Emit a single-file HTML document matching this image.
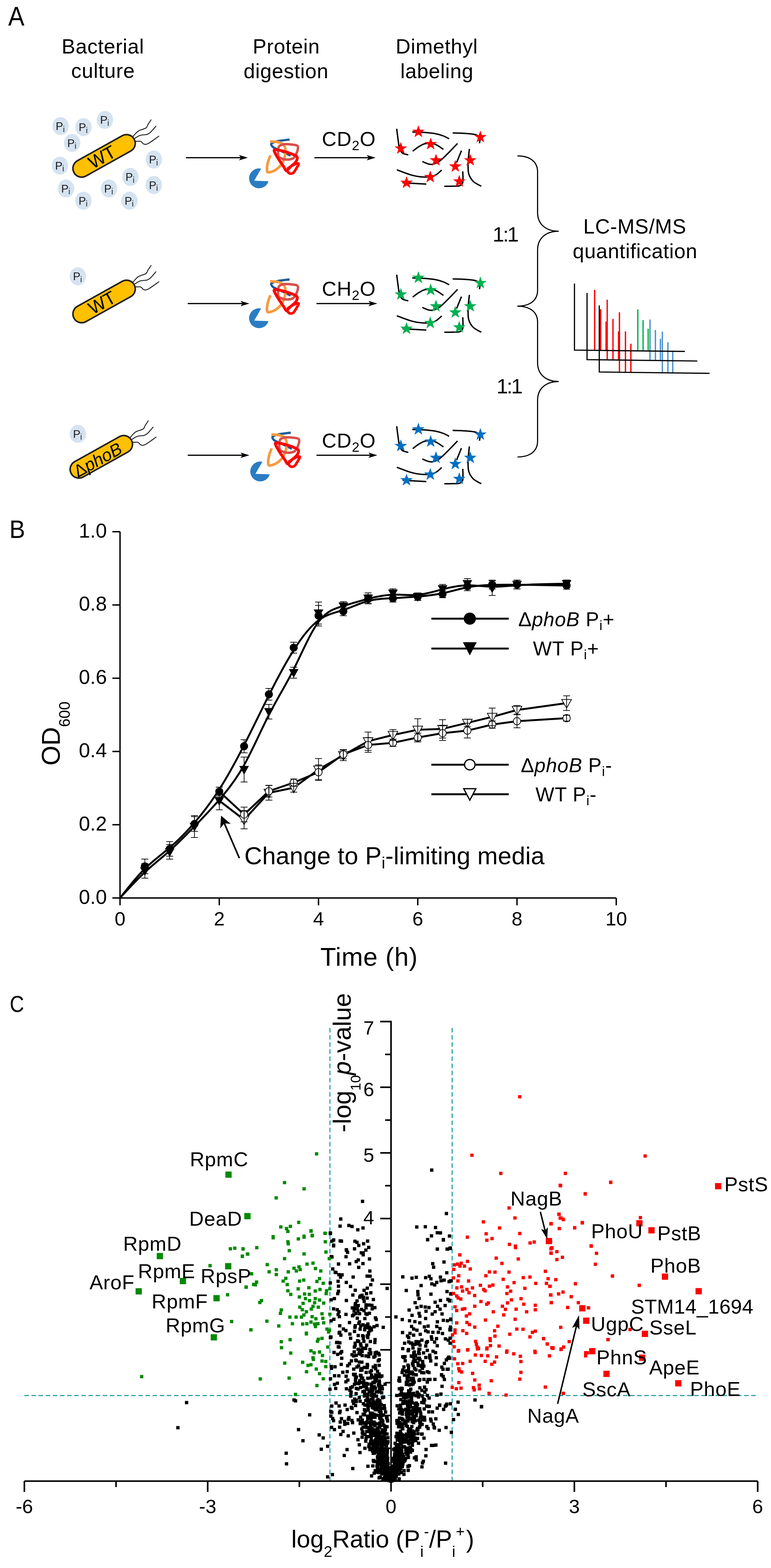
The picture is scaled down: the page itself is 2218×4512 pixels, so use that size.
<!DOCTYPE html>
<html><head><meta charset="utf-8"><style>
html,body{margin:0;padding:0;background:#fff;}
svg{display:block;font-family:'Liberation Sans', Arial, sans-serif;}
</style></head><body>
<svg width="2218" height="4512" viewBox="0 0 2218 4512">
<rect width="2218" height="4512" fill="#fff"/>
<text transform="translate(23.6 74.3) scale(0.91 1)" font-size="77">A</text>
<text x="296.0" y="154.0" font-size="59" text-anchor="middle" letter-spacing="0.9" >Bacterial</text>
<text x="296.5" y="224.0" font-size="59" text-anchor="middle" letter-spacing="0.9" >culture</text>
<text x="823.5" y="153.5" font-size="59" text-anchor="middle" letter-spacing="0.9" >Protein</text>
<text x="823.0" y="225.0" font-size="59" text-anchor="middle" letter-spacing="0.9" >digestion</text>
<text x="1256.5" y="154.4" font-size="59" text-anchor="middle" letter-spacing="0.9" >Dimethyl</text>
<text x="1257.0" y="224.8" font-size="59" text-anchor="middle" letter-spacing="0.9" >labeling</text>
<ellipse cx="174.2" cy="362.7" rx="23.5" ry="26" fill="#d5e3f1"/>
<text x="160.2" y="374.0" font-size="32" fill="#1a1a1a">P</text>
<text x="181.0" y="379.6" font-size="23.5" fill="#1a1a1a">i</text>
<ellipse cx="240.3" cy="365.9" rx="23.5" ry="26" fill="#d5e3f1"/>
<text x="226.3" y="377.2" font-size="32" fill="#1a1a1a">P</text>
<text x="247.1" y="382.8" font-size="23.5" fill="#1a1a1a">i</text>
<ellipse cx="302" cy="345" rx="23.5" ry="26" fill="#d5e3f1"/>
<text x="288.0" y="356.3" font-size="32" fill="#1a1a1a">P</text>
<text x="308.8" y="361.9" font-size="23.5" fill="#1a1a1a">i</text>
<ellipse cx="207.6" cy="411.4" rx="23.5" ry="26" fill="#d5e3f1"/>
<text x="193.6" y="422.7" font-size="32" fill="#1a1a1a">P</text>
<text x="214.4" y="428.3" font-size="23.5" fill="#1a1a1a">i</text>
<ellipse cx="172.5" cy="476.5" rx="23.5" ry="26" fill="#d5e3f1"/>
<text x="158.5" y="487.8" font-size="32" fill="#1a1a1a">P</text>
<text x="179.3" y="493.4" font-size="23.5" fill="#1a1a1a">i</text>
<ellipse cx="442.5" cy="459" rx="23.5" ry="26" fill="#d5e3f1"/>
<text x="428.5" y="470.3" font-size="32" fill="#1a1a1a">P</text>
<text x="449.3" y="475.9" font-size="23.5" fill="#1a1a1a">i</text>
<ellipse cx="375" cy="509" rx="23.5" ry="26" fill="#d5e3f1"/>
<text x="361.0" y="520.3" font-size="32" fill="#1a1a1a">P</text>
<text x="381.8" y="525.9" font-size="23.5" fill="#1a1a1a">i</text>
<ellipse cx="190" cy="542.5" rx="23.5" ry="26" fill="#d5e3f1"/>
<text x="176.0" y="553.8" font-size="32" fill="#1a1a1a">P</text>
<text x="196.8" y="559.4" font-size="23.5" fill="#1a1a1a">i</text>
<ellipse cx="313.5" cy="542.5" rx="23.5" ry="26" fill="#d5e3f1"/>
<text x="299.5" y="553.8" font-size="32" fill="#1a1a1a">P</text>
<text x="320.3" y="559.4" font-size="23.5" fill="#1a1a1a">i</text>
<ellipse cx="442.5" cy="532.5" rx="23.5" ry="26" fill="#d5e3f1"/>
<text x="428.5" y="543.8" font-size="32" fill="#1a1a1a">P</text>
<text x="449.3" y="549.4" font-size="23.5" fill="#1a1a1a">i</text>
<ellipse cx="240" cy="577.5" rx="23.5" ry="26" fill="#d5e3f1"/>
<text x="226.0" y="588.8" font-size="32" fill="#1a1a1a">P</text>
<text x="246.8" y="594.4" font-size="23.5" fill="#1a1a1a">i</text>
<ellipse cx="372.5" cy="577.5" rx="23.5" ry="26" fill="#d5e3f1"/>
<text x="358.5" y="588.8" font-size="32" fill="#1a1a1a">P</text>
<text x="379.3" y="594.4" font-size="23.5" fill="#1a1a1a">i</text>
<ellipse cx="224" cy="795" rx="23.5" ry="26" fill="#d5e3f1"/>
<text x="210.0" y="806.3" font-size="32" fill="#1a1a1a">P</text>
<text x="230.8" y="811.9" font-size="23.5" fill="#1a1a1a">i</text>
<ellipse cx="224" cy="1248.5" rx="23.5" ry="26" fill="#d5e3f1"/>
<text x="210.0" y="1259.8" font-size="32" fill="#1a1a1a">P</text>
<text x="230.8" y="1265.4" font-size="23.5" fill="#1a1a1a">i</text>
<path d="M383.4 391.8 C385.9 389.3 392.2 380.8 398.3 376.9 C404.4 373.0 415.1 371.6 419.7 368.4 C424.3 365.2 423.5 361.6 426.0 357.7 C428.5 353.8 433.2 347.0 434.6 344.9" fill="none" stroke="#222" stroke-width="2.6" stroke-linecap="round"/>
<path d="M387.7 398.2 C390.2 396.8 396.6 391.6 402.6 389.7 C408.6 387.8 418.6 388.3 423.9 386.5 C429.2 384.7 430.5 382.9 434.6 379.0 C438.7 375.1 446.2 365.7 448.5 363.0" fill="none" stroke="#222" stroke-width="2.6" stroke-linecap="round"/>
<path d="M389.8 406.8 C392.3 406.8 400.8 405.6 404.7 406.8 C408.6 408.0 409.8 413.1 413.3 414.2 C416.9 415.3 418.7 416.9 426.0 413.2 C433.3 409.5 451.8 395.4 457.0 391.8" fill="none" stroke="#222" stroke-width="2.6" stroke-linecap="round"/>
<rect x="200.4" y="423.3" width="198.1" height="50.4" rx="25.2" ry="25.2" fill="#ffc000" stroke="#231f20" stroke-width="4.5" transform="rotate(-29.17 299.5 448.5)"/>
<text x="292.5" y="466.5" font-size="52" text-anchor="middle" transform="rotate(-29.17 299.5 448.5)">WT</text>
<path d="M383.4 810.8 C385.9 808.3 392.2 799.8 398.3 795.9 C404.4 792.0 415.1 790.6 419.7 787.4 C424.3 784.2 423.5 780.6 426.0 776.7 C428.5 772.8 433.2 766.0 434.6 763.9" fill="none" stroke="#222" stroke-width="2.6" stroke-linecap="round"/>
<path d="M387.7 817.2 C390.2 815.8 396.6 810.7 402.6 808.7 C408.6 806.8 418.6 807.3 423.9 805.5 C429.2 803.7 430.5 801.9 434.6 798.0 C438.7 794.1 446.2 784.7 448.5 782.0" fill="none" stroke="#222" stroke-width="2.6" stroke-linecap="round"/>
<path d="M389.8 825.8 C392.3 825.8 400.8 824.6 404.7 825.8 C408.6 827.0 409.8 832.1 413.3 833.2 C416.9 834.3 418.7 835.9 426.0 832.2 C433.3 828.5 451.8 814.4 457.0 810.8" fill="none" stroke="#222" stroke-width="2.6" stroke-linecap="round"/>
<rect x="200.4" y="842.3" width="198.1" height="50.4" rx="25.2" ry="25.2" fill="#ffc000" stroke="#231f20" stroke-width="4.5" transform="rotate(-29.17 299.5 867.5)"/>
<text x="292.5" y="885.5" font-size="52" text-anchor="middle" transform="rotate(-29.17 299.5 867.5)">WT</text>
<path d="M375.4 1257.8 C377.9 1255.3 384.2 1246.8 390.3 1242.9 C396.4 1239.0 407.1 1237.6 411.7 1234.4 C416.3 1231.2 415.5 1227.6 418.0 1223.7 C420.5 1219.8 425.2 1213.0 426.6 1210.9" fill="none" stroke="#222" stroke-width="2.6" stroke-linecap="round"/>
<path d="M379.7 1264.2 C382.2 1262.8 388.6 1257.7 394.6 1255.7 C400.6 1253.8 410.6 1254.3 415.9 1252.5 C421.2 1250.7 422.5 1248.9 426.6 1245.0 C430.7 1241.1 438.2 1231.7 440.5 1229.0" fill="none" stroke="#222" stroke-width="2.6" stroke-linecap="round"/>
<path d="M381.8 1272.8 C384.3 1272.8 392.8 1271.6 396.7 1272.8 C400.6 1274.0 401.8 1279.1 405.3 1280.2 C408.9 1281.3 410.7 1282.9 418.0 1279.2 C425.3 1275.5 443.8 1261.4 449.0 1257.8" fill="none" stroke="#222" stroke-width="2.6" stroke-linecap="round"/>
<rect x="192.4" y="1289.3" width="198.1" height="50.4" rx="25.2" ry="25.2" fill="#ffc000" stroke="#231f20" stroke-width="4.5" transform="rotate(-29.17 291.5 1314.5)"/>
<text x="278.5" y="1334.5" font-size="50" text-anchor="middle" transform="rotate(-29.17 291.5 1314.5)">&#916;<tspan font-style="italic">phoB</tspan></text>
<line x1="535" y1="453.7" x2="694.1" y2="453.7" stroke="#000" stroke-width="3.4"/>
<path d="M713 453.7 L687.5 445.9 L693.1 453.7 L687.5 461.5 Z" fill="#000"/>
<line x1="540" y1="873.5" x2="698.6" y2="873.5" stroke="#000" stroke-width="3.4"/>
<path d="M717.5 873.5 L692.0 865.7 L697.6 873.5 L692.0 881.3 Z" fill="#000"/>
<line x1="540" y1="1310" x2="698.6" y2="1310" stroke="#000" stroke-width="3.4"/>
<path d="M717.5 1310 L692.0 1302.2 L697.6 1310 L692.0 1317.8 Z" fill="#000"/>
<path d="M751.2 485.2 L731.3 520 L772.5 521.5 A28.6 28.6 0 1 1 751.2 485.2 Z" fill="#2a7dc2"/>
<path d="M833.0 401.5 C827.5 402.2 808.7 404.1 800.0 406.0 C791.3 407.9 783.7 410.3 781.0 413.0 C778.3 415.7 781.8 419.5 784.0 422.0 C786.2 424.5 789.3 425.7 794.0 428.0 C798.7 430.3 805.0 432.7 812.0 436.0 C819.0 439.3 832.0 446.0 836.0 448.0" fill="none" stroke="#1f5c99" stroke-width="6.5" stroke-linecap="butt"/>
<path d="M777.0 407.0 C780.8 407.3 793.7 407.5 800.0 409.0 C806.3 410.5 811.5 412.5 815.0 416.0 C818.5 419.5 820.5 423.5 821.0 430.0 C821.5 436.5 820.2 447.5 818.0 455.0 C815.8 462.5 812.5 469.2 808.0 475.0 C803.5 480.8 797.0 486.5 791.0 490.0 C785.0 493.5 775.8 496.3 772.0 496.0 C768.2 495.7 768.2 493.0 768.0 488.0 C767.8 483.0 769.3 472.8 771.0 466.0 C772.7 459.2 776.8 450.2 778.0 447.0" fill="none" stroke="#f89a3e" stroke-width="7.5" stroke-linecap="butt"/>
<path d="M803.0 421.0 C806.0 417.2 811.8 415.8 818.0 415.0 C824.2 414.2 833.7 415.2 840.0 416.0 C846.3 416.8 853.5 416.7 856.0 420.0 C858.5 423.3 857.0 430.2 855.0 436.0 C853.0 441.8 849.5 451.2 844.0 455.0 C838.5 458.8 828.8 459.5 822.0 459.0 C815.2 458.5 806.7 455.5 803.0 452.0 C799.3 448.5 800.0 443.2 800.0 438.0 C800.0 432.8 800.0 424.8 803.0 421.0Z" fill="none" stroke="#d9504b" stroke-width="7" />
<path d="M790.0 431.0 C793.8 429.8 806.3 432.8 815.0 435.0 C823.7 437.2 835.3 441.2 842.0 444.0 C848.7 446.8 853.5 448.3 855.0 452.0 C856.5 455.7 853.8 461.7 851.0 466.0 C848.2 470.3 841.8 474.3 838.0 478.0 C834.2 481.7 830.5 485.8 828.0 488.0 C825.5 490.2 825.2 492.7 823.0 491.0 C820.8 489.3 818.5 483.3 815.0 478.0 C811.5 472.7 805.8 465.0 802.0 459.0 C798.2 453.0 794.0 446.7 792.0 442.0 C790.0 437.3 786.2 432.2 790.0 431.0Z" fill="none" stroke="#ff0000" stroke-width="8" />
<path d="M826.0 486.0 C829.2 484.0 839.5 476.5 845.0 474.0 C850.5 471.5 858.0 468.8 859.0 471.0 C860.0 473.2 853.7 482.5 851.0 487.0 C848.3 491.5 846.0 496.0 843.0 498.0 C840.0 500.0 835.8 500.0 833.0 499.0 C830.2 498.0 827.2 493.2 826.0 492.0" fill="none" stroke="#ff0000" stroke-width="7.5" />
<path d="M751.2 887.7 L731.3 922.5 L772.5 924.0 A28.6 28.6 0 1 1 751.2 887.7 Z" fill="#2a7dc2"/>
<path d="M833.0 804.0 C827.5 804.8 808.7 806.6 800.0 808.5 C791.3 810.4 783.7 812.8 781.0 815.5 C778.3 818.2 781.8 822.0 784.0 824.5 C786.2 827.0 789.3 828.2 794.0 830.5 C798.7 832.8 805.0 835.2 812.0 838.5 C819.0 841.8 832.0 848.5 836.0 850.5" fill="none" stroke="#1f5c99" stroke-width="6.5" stroke-linecap="butt"/>
<path d="M777.0 809.5 C780.8 809.8 793.7 810.0 800.0 811.5 C806.3 813.0 811.5 815.0 815.0 818.5 C818.5 822.0 820.5 826.0 821.0 832.5 C821.5 839.0 820.2 850.0 818.0 857.5 C815.8 865.0 812.5 871.7 808.0 877.5 C803.5 883.3 797.0 889.0 791.0 892.5 C785.0 896.0 775.8 898.8 772.0 898.5 C768.2 898.2 768.2 895.5 768.0 890.5 C767.8 885.5 769.3 875.3 771.0 868.5 C772.7 861.7 776.8 852.7 778.0 849.5" fill="none" stroke="#f89a3e" stroke-width="7.5" stroke-linecap="butt"/>
<path d="M803.0 823.5 C806.0 819.7 811.8 818.3 818.0 817.5 C824.2 816.7 833.7 817.7 840.0 818.5 C846.3 819.3 853.5 819.2 856.0 822.5 C858.5 825.8 857.0 832.7 855.0 838.5 C853.0 844.3 849.5 853.7 844.0 857.5 C838.5 861.3 828.8 862.0 822.0 861.5 C815.2 861.0 806.7 858.0 803.0 854.5 C799.3 851.0 800.0 845.7 800.0 840.5 C800.0 835.3 800.0 827.3 803.0 823.5Z" fill="none" stroke="#d9504b" stroke-width="7" />
<path d="M790.0 833.5 C793.8 832.3 806.3 835.3 815.0 837.5 C823.7 839.7 835.3 843.7 842.0 846.5 C848.7 849.3 853.5 850.8 855.0 854.5 C856.5 858.2 853.8 864.2 851.0 868.5 C848.2 872.8 841.8 876.8 838.0 880.5 C834.2 884.2 830.5 888.3 828.0 890.5 C825.5 892.7 825.2 895.2 823.0 893.5 C820.8 891.8 818.5 885.8 815.0 880.5 C811.5 875.2 805.8 867.5 802.0 861.5 C798.2 855.5 794.0 849.2 792.0 844.5 C790.0 839.8 786.2 834.7 790.0 833.5Z" fill="none" stroke="#ff0000" stroke-width="8" />
<path d="M826.0 888.5 C829.2 886.5 839.5 879.0 845.0 876.5 C850.5 874.0 858.0 871.3 859.0 873.5 C860.0 875.7 853.7 885.0 851.0 889.5 C848.3 894.0 846.0 898.5 843.0 900.5 C840.0 902.5 835.8 902.5 833.0 901.5 C830.2 900.5 827.2 895.7 826.0 894.5" fill="none" stroke="#ff0000" stroke-width="7.5" />
<path d="M754.7 1328.7 L734.8 1363.5 L776.0 1365.0 A28.6 28.6 0 1 1 754.7 1328.7 Z" fill="#2a7dc2"/>
<path d="M836.5 1245.0 C831.0 1245.8 812.2 1247.6 803.5 1249.5 C794.8 1251.4 787.2 1253.8 784.5 1256.5 C781.8 1259.2 785.3 1263.0 787.5 1265.5 C789.7 1268.0 792.8 1269.2 797.5 1271.5 C802.2 1273.8 808.5 1276.2 815.5 1279.5 C822.5 1282.8 835.5 1289.5 839.5 1291.5" fill="none" stroke="#1f5c99" stroke-width="6.5" stroke-linecap="butt"/>
<path d="M780.5 1250.5 C784.3 1250.8 797.2 1251.0 803.5 1252.5 C809.8 1254.0 815.0 1256.0 818.5 1259.5 C822.0 1263.0 824.0 1267.0 824.5 1273.5 C825.0 1280.0 823.7 1291.0 821.5 1298.5 C819.3 1306.0 816.0 1312.7 811.5 1318.5 C807.0 1324.3 800.5 1330.0 794.5 1333.5 C788.5 1337.0 779.3 1339.8 775.5 1339.5 C771.7 1339.2 771.7 1336.5 771.5 1331.5 C771.3 1326.5 772.8 1316.3 774.5 1309.5 C776.2 1302.7 780.3 1293.7 781.5 1290.5" fill="none" stroke="#f89a3e" stroke-width="7.5" stroke-linecap="butt"/>
<path d="M806.5 1264.5 C809.5 1260.7 815.3 1259.3 821.5 1258.5 C827.7 1257.7 837.2 1258.7 843.5 1259.5 C849.8 1260.3 857.0 1260.2 859.5 1263.5 C862.0 1266.8 860.5 1273.7 858.5 1279.5 C856.5 1285.3 853.0 1294.7 847.5 1298.5 C842.0 1302.3 832.3 1303.0 825.5 1302.5 C818.7 1302.0 810.2 1299.0 806.5 1295.5 C802.8 1292.0 803.5 1286.7 803.5 1281.5 C803.5 1276.3 803.5 1268.3 806.5 1264.5Z" fill="none" stroke="#d9504b" stroke-width="7" />
<path d="M793.5 1274.5 C797.3 1273.3 809.8 1276.3 818.5 1278.5 C827.2 1280.7 838.8 1284.7 845.5 1287.5 C852.2 1290.3 857.0 1291.8 858.5 1295.5 C860.0 1299.2 857.3 1305.2 854.5 1309.5 C851.7 1313.8 845.3 1317.8 841.5 1321.5 C837.7 1325.2 834.0 1329.3 831.5 1331.5 C829.0 1333.7 828.7 1336.2 826.5 1334.5 C824.3 1332.8 822.0 1326.8 818.5 1321.5 C815.0 1316.2 809.3 1308.5 805.5 1302.5 C801.7 1296.5 797.5 1290.2 795.5 1285.5 C793.5 1280.8 789.7 1275.7 793.5 1274.5Z" fill="none" stroke="#ff0000" stroke-width="8" />
<path d="M829.5 1329.5 C832.7 1327.5 843.0 1320.0 848.5 1317.5 C854.0 1315.0 861.5 1312.3 862.5 1314.5 C863.5 1316.7 857.2 1326.0 854.5 1330.5 C851.8 1335.0 849.5 1339.5 846.5 1341.5 C843.5 1343.5 839.3 1343.5 836.5 1342.5 C833.7 1341.5 830.7 1336.7 829.5 1335.5" fill="none" stroke="#ff0000" stroke-width="7.5" />
<line x1="904.5" y1="453.7" x2="1061.6" y2="453.7" stroke="#000" stroke-width="3.4"/>
<path d="M1080.5 453.7 L1055.0 445.9 L1060.6 453.7 L1055.0 461.5 Z" fill="#000"/>
<line x1="910.5" y1="873.5" x2="1066.6" y2="873.5" stroke="#000" stroke-width="3.4"/>
<path d="M1085.5 873.5 L1060.0 865.7 L1065.6 873.5 L1060.0 881.3 Z" fill="#000"/>
<line x1="910.5" y1="1310" x2="1066.6" y2="1310" stroke="#000" stroke-width="3.4"/>
<path d="M1085.5 1310 L1060.0 1302.2 L1065.6 1310 L1060.0 1317.8 Z" fill="#000"/>
<text x="926" y="420" font-size="58" letter-spacing="1.2">CD<tspan font-size="39" dy="12">2</tspan><tspan dy="-12">O</tspan></text>
<text x="926" y="851" font-size="58" letter-spacing="1.2">CH<tspan font-size="39" dy="12">2</tspan><tspan dy="-12">O</tspan></text>
<text x="926" y="1287.5" font-size="58" letter-spacing="1.2">CD<tspan font-size="39" dy="12">2</tspan><tspan dy="-12">O</tspan></text>
<path d="M1141.2 370.4 C1141.8 375.3 1143.7 390.9 1145.0 400.0 C1146.3 409.1 1147.0 418.3 1149.0 425.0 C1151.0 431.7 1152.7 436.5 1157.0 440.0 C1161.3 443.5 1171.7 444.8 1174.6 445.8" fill="none" stroke="#000" stroke-width="4" stroke-linecap="butt"/>
<path d="M1186.0 379.8 C1191.7 380.0 1209.0 380.2 1220.0 381.0 C1231.0 381.8 1242.5 382.8 1251.7 384.5 C1260.9 386.2 1268.3 388.5 1275.0 391.0 C1281.7 393.5 1289.2 398.1 1292.1 399.5" fill="none" stroke="#000" stroke-width="4" stroke-linecap="butt"/>
<path d="M1302.2 382.6 C1308.5 382.8 1329.0 383.2 1340.0 384.0 C1351.0 384.8 1361.7 385.8 1368.0 387.5 C1374.3 389.2 1375.9 391.4 1378.0 394.0 C1380.1 396.6 1380.4 400.0 1380.6 403.0 C1380.8 406.0 1379.5 410.7 1379.3 412.2" fill="none" stroke="#000" stroke-width="4" stroke-linecap="butt"/>
<path d="M1187.2 434.9 C1190.2 432.8 1198.9 425.6 1205.0 422.0 C1211.1 418.4 1216.3 414.4 1223.9 413.2 C1231.5 412.0 1241.8 411.9 1250.4 414.7 C1259.0 417.5 1271.5 427.3 1275.7 429.8" fill="none" stroke="#000" stroke-width="4" stroke-linecap="butt"/>
<path d="M1215.0 464.7 C1217.5 465.8 1225.2 469.6 1230.0 471.0 C1234.8 472.4 1238.4 474.0 1244.1 472.8 C1249.8 471.6 1256.6 469.5 1264.3 464.0 C1272.0 458.5 1281.4 448.5 1290.0 440.0 C1298.6 431.5 1311.8 417.4 1316.1 412.9" fill="none" stroke="#000" stroke-width="4" stroke-linecap="butt"/>
<path d="M1327.5 433.6 L1313.6 467.8" fill="none" stroke="#000" stroke-width="4" stroke-linecap="butt"/>
<path d="M1350.3 428.6 C1349.8 433.8 1347.6 451.4 1347.0 460.0 C1346.4 468.6 1346.2 473.0 1346.5 480.0 C1346.8 487.0 1346.5 494.9 1349.0 501.9 C1351.5 508.9 1355.7 516.4 1361.6 522.1 C1367.5 527.8 1380.6 533.7 1384.4 536.0" fill="none" stroke="#000" stroke-width="4" stroke-linecap="butt"/>
<path d="M1141.7 488.7 C1149.1 491.3 1172.2 500.9 1185.9 504.4 C1199.6 507.9 1212.9 509.5 1223.9 509.5 C1234.9 509.5 1243.9 507.8 1251.7 504.4 C1259.5 501.0 1267.4 491.8 1270.6 489.3" fill="none" stroke="#000" stroke-width="4" stroke-linecap="butt"/>
<path d="M1158.1 525.9 L1226.4 529.7" fill="none" stroke="#000" stroke-width="4" stroke-linecap="butt"/>
<path d="M1331.3 493.0 C1331.3 498.3 1332.8 517.7 1331.3 524.6 C1329.8 531.5 1327.6 532.4 1322.4 534.3 C1317.2 536.2 1307.4 535.5 1300.0 535.8 C1292.6 536.1 1281.8 536.0 1278.2 536.0" fill="none" stroke="#000" stroke-width="4" stroke-linecap="butt"/>
<polygon points="1203.6,360.3 1208.1,373.2 1221.7,373.4 1210.8,381.6 1214.8,394.7 1203.6,386.9 1192.4,394.7 1196.4,381.6 1185.5,373.4 1199.1,373.2" fill="#ff0000"/>
<polygon points="1381.9,375.5 1386.4,388.4 1400.0,388.6 1389.1,396.8 1393.1,409.9 1381.9,402.1 1370.7,409.9 1374.7,396.8 1363.8,388.6 1377.4,388.4" fill="#ff0000"/>
<polygon points="1153.1,408.3 1157.6,421.2 1171.2,421.4 1160.3,429.6 1164.3,442.7 1153.1,434.9 1141.9,442.7 1145.9,429.6 1135.0,421.4 1148.6,421.2" fill="#ff0000"/>
<polygon points="1239.0,395.7 1243.5,408.6 1257.1,408.8 1246.2,417.0 1250.2,430.1 1239.0,422.3 1227.8,430.1 1231.8,417.0 1220.9,408.8 1234.5,408.6" fill="#ff0000"/>
<polygon points="1254.2,442.4 1258.7,455.3 1272.3,455.5 1261.4,463.7 1265.4,476.8 1254.2,469.0 1243.0,476.8 1247.0,463.7 1236.1,455.5 1249.7,455.3" fill="#ff0000"/>
<polygon points="1352.8,442.4 1357.3,455.3 1370.9,455.5 1360.0,463.7 1364.0,476.8 1352.8,469.0 1341.6,476.8 1345.6,463.7 1334.7,455.5 1348.3,455.3" fill="#ff0000"/>
<polygon points="1309.8,460.1 1314.3,473.0 1327.9,473.2 1317.0,481.4 1321.0,494.5 1309.8,486.7 1298.6,494.5 1302.6,481.4 1291.7,473.2 1305.3,473.0" fill="#ff0000"/>
<polygon points="1237.8,490.5 1242.3,503.4 1255.9,503.6 1245.0,511.8 1249.0,524.9 1237.8,517.1 1226.6,524.9 1230.6,511.8 1219.7,503.6 1233.3,503.4" fill="#ff0000"/>
<polygon points="1169.5,506.9 1174.0,519.8 1187.6,520.0 1176.7,528.2 1180.7,541.3 1169.5,533.5 1158.3,541.3 1162.3,528.2 1151.4,520.0 1165.0,519.8" fill="#ff0000"/>
<polygon points="1321.2,503.1 1325.7,516.0 1339.3,516.2 1328.4,524.4 1332.4,537.5 1321.2,529.7 1310.0,537.5 1314.0,524.4 1303.1,516.2 1316.7,516.0" fill="#ff0000"/>
<path d="M1141.2 790.4 C1141.8 795.3 1143.7 810.9 1145.0 820.0 C1146.3 829.1 1147.0 838.3 1149.0 845.0 C1151.0 851.7 1152.7 856.5 1157.0 860.0 C1161.3 863.5 1171.7 864.8 1174.6 865.8" fill="none" stroke="#000" stroke-width="4" stroke-linecap="butt"/>
<path d="M1186.0 799.8 C1191.7 800.0 1209.0 800.2 1220.0 801.0 C1231.0 801.8 1242.5 802.8 1251.7 804.5 C1260.9 806.2 1268.3 808.5 1275.0 811.0 C1281.7 813.5 1289.2 818.1 1292.1 819.5" fill="none" stroke="#000" stroke-width="4" stroke-linecap="butt"/>
<path d="M1302.2 802.6 C1308.5 802.8 1329.0 803.2 1340.0 804.0 C1351.0 804.8 1361.7 805.8 1368.0 807.5 C1374.3 809.2 1375.9 811.4 1378.0 814.0 C1380.1 816.6 1380.4 820.0 1380.6 823.0 C1380.8 826.0 1379.5 830.7 1379.3 832.2" fill="none" stroke="#000" stroke-width="4" stroke-linecap="butt"/>
<path d="M1187.2 854.9 C1190.2 852.8 1198.9 845.6 1205.0 842.0 C1211.1 838.4 1216.3 834.4 1223.9 833.2 C1231.5 832.0 1241.8 831.9 1250.4 834.7 C1259.0 837.5 1271.5 847.3 1275.7 849.8" fill="none" stroke="#000" stroke-width="4" stroke-linecap="butt"/>
<path d="M1215.0 884.7 C1217.5 885.8 1225.2 889.6 1230.0 891.0 C1234.8 892.4 1238.4 894.0 1244.1 892.8 C1249.8 891.6 1256.6 889.5 1264.3 884.0 C1272.0 878.5 1281.4 868.5 1290.0 860.0 C1298.6 851.5 1311.8 837.4 1316.1 832.9" fill="none" stroke="#000" stroke-width="4" stroke-linecap="butt"/>
<path d="M1327.5 853.6 L1313.6 887.8" fill="none" stroke="#000" stroke-width="4" stroke-linecap="butt"/>
<path d="M1350.3 848.6 C1349.8 853.8 1347.6 871.4 1347.0 880.0 C1346.4 888.6 1346.2 893.0 1346.5 900.0 C1346.8 907.0 1346.5 914.9 1349.0 921.9 C1351.5 928.9 1355.7 936.4 1361.6 942.1 C1367.5 947.8 1380.6 953.7 1384.4 956.0" fill="none" stroke="#000" stroke-width="4" stroke-linecap="butt"/>
<path d="M1141.7 908.7 C1149.1 911.3 1172.2 920.9 1185.9 924.4 C1199.6 927.9 1212.9 929.5 1223.9 929.5 C1234.9 929.5 1243.9 927.8 1251.7 924.4 C1259.5 921.0 1267.4 911.8 1270.6 909.3" fill="none" stroke="#000" stroke-width="4" stroke-linecap="butt"/>
<path d="M1158.1 945.9 L1226.4 949.7" fill="none" stroke="#000" stroke-width="4" stroke-linecap="butt"/>
<path d="M1331.3 913.0 C1331.3 918.3 1332.8 937.7 1331.3 944.6 C1329.8 951.5 1327.6 952.4 1322.4 954.3 C1317.2 956.2 1307.4 955.5 1300.0 955.8 C1292.6 956.1 1281.8 956.0 1278.2 956.0" fill="none" stroke="#000" stroke-width="4" stroke-linecap="butt"/>
<polygon points="1203.6,780.3 1208.1,793.2 1221.7,793.4 1210.8,801.6 1214.8,814.7 1203.6,806.9 1192.4,814.7 1196.4,801.6 1185.5,793.4 1199.1,793.2" fill="#00b050"/>
<polygon points="1381.9,795.5 1386.4,808.4 1400.0,808.6 1389.1,816.8 1393.1,829.9 1381.9,822.1 1370.7,829.9 1374.7,816.8 1363.8,808.6 1377.4,808.4" fill="#00b050"/>
<polygon points="1153.1,828.3 1157.6,841.2 1171.2,841.4 1160.3,849.6 1164.3,862.7 1153.1,854.9 1141.9,862.7 1145.9,849.6 1135.0,841.4 1148.6,841.2" fill="#00b050"/>
<polygon points="1239.0,815.7 1243.5,828.6 1257.1,828.8 1246.2,837.0 1250.2,850.1 1239.0,842.3 1227.8,850.1 1231.8,837.0 1220.9,828.8 1234.5,828.6" fill="#00b050"/>
<polygon points="1254.2,862.4 1258.7,875.3 1272.3,875.5 1261.4,883.7 1265.4,896.8 1254.2,889.0 1243.0,896.8 1247.0,883.7 1236.1,875.5 1249.7,875.3" fill="#00b050"/>
<polygon points="1352.8,862.4 1357.3,875.3 1370.9,875.5 1360.0,883.7 1364.0,896.8 1352.8,889.0 1341.6,896.8 1345.6,883.7 1334.7,875.5 1348.3,875.3" fill="#00b050"/>
<polygon points="1309.8,880.1 1314.3,893.0 1327.9,893.2 1317.0,901.4 1321.0,914.5 1309.8,906.7 1298.6,914.5 1302.6,901.4 1291.7,893.2 1305.3,893.0" fill="#00b050"/>
<polygon points="1237.8,910.5 1242.3,923.4 1255.9,923.6 1245.0,931.8 1249.0,944.9 1237.8,937.1 1226.6,944.9 1230.6,931.8 1219.7,923.6 1233.3,923.4" fill="#00b050"/>
<polygon points="1169.5,926.9 1174.0,939.8 1187.6,940.0 1176.7,948.2 1180.7,961.3 1169.5,953.5 1158.3,961.3 1162.3,948.2 1151.4,940.0 1165.0,939.8" fill="#00b050"/>
<polygon points="1321.2,923.1 1325.7,936.0 1339.3,936.2 1328.4,944.4 1332.4,957.5 1321.2,949.7 1310.0,957.5 1314.0,944.4 1303.1,936.2 1316.7,936.0" fill="#00b050"/>
<path d="M1141.2 1226.4 C1141.8 1231.3 1143.7 1246.9 1145.0 1256.0 C1146.3 1265.1 1147.0 1274.3 1149.0 1281.0 C1151.0 1287.7 1152.7 1292.5 1157.0 1296.0 C1161.3 1299.5 1171.7 1300.8 1174.6 1301.8" fill="none" stroke="#000" stroke-width="4" stroke-linecap="butt"/>
<path d="M1186.0 1235.8 C1191.7 1236.0 1209.0 1236.2 1220.0 1237.0 C1231.0 1237.8 1242.5 1238.8 1251.7 1240.5 C1260.9 1242.2 1268.3 1244.5 1275.0 1247.0 C1281.7 1249.5 1289.2 1254.1 1292.1 1255.5" fill="none" stroke="#000" stroke-width="4" stroke-linecap="butt"/>
<path d="M1302.2 1238.6 C1308.5 1238.8 1329.0 1239.2 1340.0 1240.0 C1351.0 1240.8 1361.7 1241.8 1368.0 1243.5 C1374.3 1245.2 1375.9 1247.4 1378.0 1250.0 C1380.1 1252.6 1380.4 1256.0 1380.6 1259.0 C1380.8 1262.0 1379.5 1266.7 1379.3 1268.2" fill="none" stroke="#000" stroke-width="4" stroke-linecap="butt"/>
<path d="M1187.2 1290.9 C1190.2 1288.8 1198.9 1281.6 1205.0 1278.0 C1211.1 1274.4 1216.3 1270.4 1223.9 1269.2 C1231.5 1268.0 1241.8 1267.9 1250.4 1270.7 C1259.0 1273.5 1271.5 1283.3 1275.7 1285.8" fill="none" stroke="#000" stroke-width="4" stroke-linecap="butt"/>
<path d="M1215.0 1320.7 C1217.5 1321.8 1225.2 1325.7 1230.0 1327.0 C1234.8 1328.3 1238.4 1330.0 1244.1 1328.8 C1249.8 1327.6 1256.6 1325.5 1264.3 1320.0 C1272.0 1314.5 1281.4 1304.5 1290.0 1296.0 C1298.6 1287.5 1311.8 1273.4 1316.1 1268.9" fill="none" stroke="#000" stroke-width="4" stroke-linecap="butt"/>
<path d="M1327.5 1289.6 L1313.6 1323.8" fill="none" stroke="#000" stroke-width="4" stroke-linecap="butt"/>
<path d="M1350.3 1284.6 C1349.8 1289.8 1347.6 1307.4 1347.0 1316.0 C1346.4 1324.6 1346.2 1329.0 1346.5 1336.0 C1346.8 1343.0 1346.5 1350.9 1349.0 1357.9 C1351.5 1364.9 1355.7 1372.4 1361.6 1378.1 C1367.5 1383.8 1380.6 1389.7 1384.4 1392.0" fill="none" stroke="#000" stroke-width="4" stroke-linecap="butt"/>
<path d="M1141.7 1344.7 C1149.1 1347.3 1172.2 1356.9 1185.9 1360.4 C1199.6 1363.9 1212.9 1365.5 1223.9 1365.5 C1234.9 1365.5 1243.9 1363.8 1251.7 1360.4 C1259.5 1357.0 1267.4 1347.8 1270.6 1345.3" fill="none" stroke="#000" stroke-width="4" stroke-linecap="butt"/>
<path d="M1158.1 1381.9 L1226.4 1385.7" fill="none" stroke="#000" stroke-width="4" stroke-linecap="butt"/>
<path d="M1331.3 1349.0 C1331.3 1354.3 1332.8 1373.7 1331.3 1380.6 C1329.8 1387.5 1327.6 1388.4 1322.4 1390.3 C1317.2 1392.2 1307.4 1391.5 1300.0 1391.8 C1292.6 1392.1 1281.8 1392.0 1278.2 1392.0" fill="none" stroke="#000" stroke-width="4" stroke-linecap="butt"/>
<polygon points="1203.6,1216.3 1208.1,1229.2 1221.7,1229.4 1210.8,1237.6 1214.8,1250.7 1203.6,1242.9 1192.4,1250.7 1196.4,1237.6 1185.5,1229.4 1199.1,1229.2" fill="#0070c0"/>
<polygon points="1381.9,1231.5 1386.4,1244.4 1400.0,1244.6 1389.1,1252.8 1393.1,1265.9 1381.9,1258.1 1370.7,1265.9 1374.7,1252.8 1363.8,1244.6 1377.4,1244.4" fill="#0070c0"/>
<polygon points="1153.1,1264.3 1157.6,1277.2 1171.2,1277.4 1160.3,1285.6 1164.3,1298.7 1153.1,1290.9 1141.9,1298.7 1145.9,1285.6 1135.0,1277.4 1148.6,1277.2" fill="#0070c0"/>
<polygon points="1239.0,1251.7 1243.5,1264.6 1257.1,1264.8 1246.2,1273.0 1250.2,1286.1 1239.0,1278.3 1227.8,1286.1 1231.8,1273.0 1220.9,1264.8 1234.5,1264.6" fill="#0070c0"/>
<polygon points="1254.2,1298.4 1258.7,1311.3 1272.3,1311.5 1261.4,1319.7 1265.4,1332.8 1254.2,1325.0 1243.0,1332.8 1247.0,1319.7 1236.1,1311.5 1249.7,1311.3" fill="#0070c0"/>
<polygon points="1352.8,1298.4 1357.3,1311.3 1370.9,1311.5 1360.0,1319.7 1364.0,1332.8 1352.8,1325.0 1341.6,1332.8 1345.6,1319.7 1334.7,1311.5 1348.3,1311.3" fill="#0070c0"/>
<polygon points="1309.8,1316.1 1314.3,1329.0 1327.9,1329.2 1317.0,1337.4 1321.0,1350.5 1309.8,1342.7 1298.6,1350.5 1302.6,1337.4 1291.7,1329.2 1305.3,1329.0" fill="#0070c0"/>
<polygon points="1237.8,1346.5 1242.3,1359.4 1255.9,1359.6 1245.0,1367.8 1249.0,1380.9 1237.8,1373.1 1226.6,1380.9 1230.6,1367.8 1219.7,1359.6 1233.3,1359.4" fill="#0070c0"/>
<polygon points="1169.5,1362.9 1174.0,1375.8 1187.6,1376.0 1176.7,1384.2 1180.7,1397.3 1169.5,1389.5 1158.3,1397.3 1162.3,1384.2 1151.4,1376.0 1165.0,1375.8" fill="#0070c0"/>
<polygon points="1321.2,1359.1 1325.7,1372.0 1339.3,1372.2 1328.4,1380.4 1332.4,1393.5 1321.2,1385.7 1310.0,1393.5 1314.0,1380.4 1303.1,1372.2 1316.7,1372.0" fill="#0070c0"/>
<path d="M1488.5 448.7 C1526.5 448.7 1546.5 466.7 1546.5 494.7 L1546.5 611.4 C1546.5 643.4 1568.5 665.4 1607.3 665.4 C1568.5 665.4 1546.5 687.4 1546.5 719.4 L1546.5 835 C1546.5 863 1526.5 881 1488.5 881" fill="none" stroke="#000" stroke-width="3.2"/>
<path d="M1488.5 881 C1526.5 881 1546.5 899 1546.5 927 L1546.5 1043.8 C1546.5 1075.8 1568.5 1097.8 1607.3 1097.8 C1568.5 1097.8 1546.5 1119.8 1546.5 1151.8 L1546.5 1269 C1546.5 1297 1526.5 1315 1488.5 1315" fill="none" stroke="#000" stroke-width="3.2"/>
<text x="1417.3" y="695.3" font-size="60" text-anchor="start" letter-spacing="-4" >1:1</text>
<text x="1428.5" y="1132.2" font-size="60" text-anchor="start" letter-spacing="-4" >1:1</text>
<text x="1826.3" y="672.0" font-size="59" text-anchor="middle" letter-spacing="1.0" >LC-MS/MS</text>
<text x="1827.0" y="742.8" font-size="59" text-anchor="middle" letter-spacing="0.8" >quantification</text>
<line x1="1710.7" y1="834.2" x2="1710.7" y2="1006.4" stroke="#ff0000" stroke-width="3.8"/>
<line x1="1727.9" y1="889.6" x2="1727.9" y2="1007.4" stroke="#ff0000" stroke-width="3.8"/>
<line x1="1743.5" y1="925.4" x2="1743.5" y2="1007.4" stroke="#ff0000" stroke-width="3.8"/>
<line x1="1746.8" y1="862.4" x2="1746.8" y2="1033.9" stroke="#ff0000" stroke-width="3.8"/>
<line x1="1763.4" y1="917.8" x2="1763.4" y2="1033.9" stroke="#ff0000" stroke-width="3.8"/>
<line x1="1779.4" y1="953.6" x2="1779.4" y2="1033.9" stroke="#ff0000" stroke-width="3.8"/>
<line x1="1782" y1="898.5" x2="1782" y2="1070.4" stroke="#ff0000" stroke-width="3.8"/>
<line x1="1799.3" y1="953.6" x2="1799.3" y2="1070.4" stroke="#ff0000" stroke-width="3.8"/>
<line x1="1814.9" y1="989.1" x2="1814.9" y2="1070.4" stroke="#ff0000" stroke-width="3.8"/>
<line x1="1834.8" y1="890.6" x2="1834.8" y2="1008.4" stroke="#00b050" stroke-width="3.8"/>
<line x1="1850" y1="921.1" x2="1850" y2="1009.7" stroke="#00b050" stroke-width="3.8"/>
<line x1="1864.6" y1="946" x2="1864.6" y2="1009.7" stroke="#00b050" stroke-width="3.8"/>
<line x1="1869.9" y1="919.4" x2="1869.9" y2="1035.5" stroke="#4a8fd0" stroke-width="3.8"/>
<line x1="1885.5" y1="949.3" x2="1885.5" y2="1037.2" stroke="#4a8fd0" stroke-width="3.8"/>
<line x1="1899.8" y1="974.9" x2="1899.8" y2="1037.2" stroke="#4a8fd0" stroke-width="3.8"/>
<line x1="1905.4" y1="954.3" x2="1905.4" y2="1071.5" stroke="#4a8fd0" stroke-width="3.8"/>
<line x1="1921.4" y1="984.8" x2="1921.4" y2="1073.2" stroke="#4a8fd0" stroke-width="3.8"/>
<line x1="1935.3" y1="1010.7" x2="1935.3" y2="1073.7" stroke="#4a8fd0" stroke-width="3.8"/>
<path d="M1652.6 815.9 L1652.6 1007.4 L1970.1 1011.3" fill="none" stroke="#000" stroke-width="3.4"/>
<path d="M1688.8 843.1 L1688.8 1034.9 L2006 1038.9" fill="none" stroke="#000" stroke-width="3.4"/>
<path d="M1724 879 L1724 1070.4 L2041.5 1074.4" fill="none" stroke="#000" stroke-width="3.4"/>
<text transform="translate(27.1 1547.5) scale(0.93 1)" font-size="73">B</text>
<path d="M345.3 1530.0 L345.3 2584.0 L1772.8 2584.0" fill="none" stroke="#000" stroke-width="4"/>
<line x1="323.3" y1="2584.0" x2="345.3" y2="2584.0" stroke="#000" stroke-width="4"/>
<text x="307.5" y="2600.5" font-size="58" text-anchor="end" >0.0</text>
<line x1="323.3" y1="2373.2" x2="345.3" y2="2373.2" stroke="#000" stroke-width="4"/>
<text x="307.5" y="2389.7" font-size="58" text-anchor="end" >0.2</text>
<line x1="323.3" y1="2162.4" x2="345.3" y2="2162.4" stroke="#000" stroke-width="4"/>
<text x="307.5" y="2178.9" font-size="58" text-anchor="end" >0.4</text>
<line x1="323.3" y1="1951.6" x2="345.3" y2="1951.6" stroke="#000" stroke-width="4"/>
<text x="307.5" y="1968.1" font-size="58" text-anchor="end" >0.6</text>
<line x1="323.3" y1="1740.8" x2="345.3" y2="1740.8" stroke="#000" stroke-width="4"/>
<text x="307.5" y="1757.3" font-size="58" text-anchor="end" >0.8</text>
<line x1="323.3" y1="1530.0" x2="345.3" y2="1530.0" stroke="#000" stroke-width="4"/>
<text x="307.5" y="1546.5" font-size="58" text-anchor="end" >1.0</text>
<line x1="345.3" y1="2584.0" x2="345.3" y2="2605.0" stroke="#000" stroke-width="4"/>
<text x="345.3" y="2663.0" font-size="56" text-anchor="middle" >0</text>
<line x1="630.8" y1="2584.0" x2="630.8" y2="2605.0" stroke="#000" stroke-width="4"/>
<text x="630.8" y="2663.0" font-size="56" text-anchor="middle" >2</text>
<line x1="916.3" y1="2584.0" x2="916.3" y2="2605.0" stroke="#000" stroke-width="4"/>
<text x="916.3" y="2663.0" font-size="56" text-anchor="middle" >4</text>
<line x1="1201.8" y1="2584.0" x2="1201.8" y2="2605.0" stroke="#000" stroke-width="4"/>
<text x="1201.8" y="2663.0" font-size="56" text-anchor="middle" >6</text>
<line x1="1487.3" y1="2584.0" x2="1487.3" y2="2605.0" stroke="#000" stroke-width="4"/>
<text x="1487.3" y="2663.0" font-size="56" text-anchor="middle" >8</text>
<line x1="1772.8" y1="2584.0" x2="1772.8" y2="2605.0" stroke="#000" stroke-width="4"/>
<text x="1772.8" y="2663.0" font-size="56" text-anchor="middle" >10</text>
<text x="921.5" y="2779.0" font-size="74" text-anchor="start" letter-spacing="1.0" >Time (h)</text>
<text transform="translate(171.9 2203) rotate(-90)" font-size="74">OD<tspan font-size="44" dy="29">600</tspan></text>
<path d="M416.7 2472.0 L416.7 2514.1 M406.7 2472.0 L426.7 2472.0 M406.7 2514.1 L426.7 2514.1" stroke="#000" stroke-width="2" fill="none"/>
<path d="M488.1 2421.7 L488.1 2463.8 M478.1 2421.7 L498.1 2421.7 M478.1 2463.8 L498.1 2463.8" stroke="#000" stroke-width="2" fill="none"/>
<path d="M559.4 2350.0 L559.4 2392.2 M549.4 2350.0 L569.4 2350.0 M549.4 2392.2 L569.4 2392.2" stroke="#000" stroke-width="2" fill="none"/>
<path d="M630.8 2265.1 L630.8 2290.4 M620.8 2265.1 L640.8 2265.1 M620.8 2290.4 L640.8 2290.4" stroke="#000" stroke-width="2" fill="none"/>
<path d="M702.2 2128.4 L702.2 2166.3 M692.2 2128.4 L712.2 2128.4 M692.2 2166.3 L712.2 2166.3" stroke="#000" stroke-width="2" fill="none"/>
<path d="M773.5 1981.1 L773.5 2014.8 M763.5 1981.1 L783.5 1981.1 M763.5 2014.8 L783.5 2014.8" stroke="#000" stroke-width="2" fill="none"/>
<path d="M844.9 1847.9 L844.9 1879.5 M834.9 1847.9 L854.9 1847.9 M834.9 1879.5 L854.9 1879.5" stroke="#000" stroke-width="2" fill="none"/>
<path d="M916.3 1742.2 L916.3 1801.2 M906.3 1742.2 L926.3 1742.2 M906.3 1801.2 L926.3 1801.2" stroke="#000" stroke-width="2" fill="none"/>
<path d="M987.7 1746.5 L987.7 1771.8 M977.7 1746.5 L997.7 1746.5 M977.7 1771.8 L997.7 1771.8" stroke="#000" stroke-width="2" fill="none"/>
<path d="M1059.0 1711.3 L1059.0 1736.6 M1049.0 1711.3 L1069.0 1711.3 M1049.0 1736.6 L1069.0 1736.6" stroke="#000" stroke-width="2" fill="none"/>
<path d="M1130.4 1711.3 L1130.4 1732.4 M1120.4 1711.3 L1140.4 1711.3 M1120.4 1732.4 L1140.4 1732.4" stroke="#000" stroke-width="2" fill="none"/>
<path d="M1201.8 1706.4 L1201.8 1727.5 M1191.8 1706.4 L1211.8 1706.4 M1191.8 1727.5 L1211.8 1727.5" stroke="#000" stroke-width="2" fill="none"/>
<path d="M1273.2 1699.1 L1273.2 1720.1 M1263.2 1699.1 L1283.2 1699.1 M1263.2 1720.1 L1283.2 1720.1" stroke="#000" stroke-width="2" fill="none"/>
<path d="M1344.5 1674.4 L1344.5 1699.7 M1334.5 1674.4 L1354.5 1674.4 M1334.5 1699.7 L1354.5 1699.7" stroke="#000" stroke-width="2" fill="none"/>
<path d="M1415.9 1669.5 L1415.9 1694.8 M1405.9 1669.5 L1425.9 1669.5 M1405.9 1694.8 L1425.9 1694.8" stroke="#000" stroke-width="2" fill="none"/>
<path d="M1487.3 1669.5 L1487.3 1694.8 M1477.3 1669.5 L1497.3 1669.5 M1477.3 1694.8 L1497.3 1694.8" stroke="#000" stroke-width="2" fill="none"/>
<path d="M1630.0 1674.4 L1630.0 1695.5 M1620.0 1674.4 L1640.0 1674.4 M1620.0 1695.5 L1640.0 1695.5" stroke="#000" stroke-width="2" fill="none"/>
<path d="M416.7 2484.9 L416.7 2527.1 M406.7 2484.9 L426.7 2484.9 M406.7 2527.1 L426.7 2527.1" stroke="#000" stroke-width="2" fill="none"/>
<path d="M488.1 2430.1 L488.1 2472.3 M478.1 2430.1 L498.1 2430.1 M478.1 2472.3 L498.1 2472.3" stroke="#000" stroke-width="2" fill="none"/>
<path d="M559.4 2346.8 L559.4 2410.1 M549.4 2346.8 L569.4 2346.8 M549.4 2410.1 L569.4 2410.1" stroke="#000" stroke-width="2" fill="none"/>
<path d="M630.8 2277.6 L630.8 2330.3 M620.8 2277.6 L640.8 2277.6 M620.8 2330.3 L640.8 2330.3" stroke="#000" stroke-width="2" fill="none"/>
<path d="M702.2 2178.6 L702.2 2250.3 M692.2 2178.6 L712.2 2178.6 M692.2 2250.3 L712.2 2250.3" stroke="#000" stroke-width="2" fill="none"/>
<path d="M773.5 2026.9 L773.5 2069.0 M763.5 2026.9 L783.5 2026.9 M763.5 2069.0 L783.5 2069.0" stroke="#000" stroke-width="2" fill="none"/>
<path d="M844.9 1920.0 L844.9 1951.6 M834.9 1920.0 L854.9 1920.0 M834.9 1951.6 L854.9 1951.6" stroke="#000" stroke-width="2" fill="none"/>
<path d="M916.3 1732.6 L916.3 1795.8 M906.3 1732.6 L926.3 1732.6 M906.3 1795.8 L926.3 1795.8" stroke="#000" stroke-width="2" fill="none"/>
<path d="M987.7 1731.3 L987.7 1756.6 M977.7 1731.3 L997.7 1731.3 M977.7 1756.6 L997.7 1756.6" stroke="#000" stroke-width="2" fill="none"/>
<path d="M1059.0 1706.0 L1059.0 1737.6 M1049.0 1706.0 L1069.0 1706.0 M1049.0 1737.6 L1069.0 1737.6" stroke="#000" stroke-width="2" fill="none"/>
<path d="M1130.4 1694.4 L1130.4 1719.7 M1120.4 1694.4 L1140.4 1694.4 M1120.4 1719.7 L1140.4 1719.7" stroke="#000" stroke-width="2" fill="none"/>
<path d="M1201.8 1706.4 L1201.8 1727.5 M1191.8 1706.4 L1211.8 1706.4 M1191.8 1727.5 L1211.8 1727.5" stroke="#000" stroke-width="2" fill="none"/>
<path d="M1273.2 1681.8 L1273.2 1707.1 M1263.2 1681.8 L1283.2 1681.8 M1263.2 1707.1 L1283.2 1707.1" stroke="#000" stroke-width="2" fill="none"/>
<path d="M1344.5 1664.9 L1344.5 1694.4 M1334.5 1664.9 L1354.5 1664.9 M1334.5 1694.4 L1354.5 1694.4" stroke="#000" stroke-width="2" fill="none"/>
<path d="M1415.9 1671.2 L1415.9 1713.4 M1405.9 1671.2 L1425.9 1671.2 M1405.9 1713.4 L1425.9 1713.4" stroke="#000" stroke-width="2" fill="none"/>
<path d="M1487.3 1669.5 L1487.3 1694.8 M1477.3 1669.5 L1497.3 1669.5 M1477.3 1694.8 L1497.3 1694.8" stroke="#000" stroke-width="2" fill="none"/>
<path d="M1630.0 1669.1 L1630.0 1690.2 M1620.0 1669.1 L1640.0 1669.1 M1620.0 1690.2 L1640.0 1690.2" stroke="#000" stroke-width="2" fill="none"/>
<path d="M630.8 2277.7 L702.2 2343.7 L773.5 2276.7 L844.9 2252.0 L916.3 2222.0 L987.7 2170.8 L1059.0 2143.7 L1130.4 2137.4 L1201.8 2122.3 L1273.2 2109.7 L1344.5 2102.3 L1415.9 2085.0 L1487.3 2075.3 L1630.0 2066.5" fill="none" stroke="#000" stroke-width="5.5" stroke-linejoin="round"/>
<path d="M630.8 2304.0 L702.2 2358.8 L773.5 2281.5 L844.9 2266.7 L916.3 2214.5 L987.7 2172.9 L1059.0 2132.9 L1130.4 2115.0 L1201.8 2099.9 L1273.2 2097.4 L1344.5 2080.2 L1415.9 2062.9 L1487.3 2043.0 L1630.0 2023.3" fill="none" stroke="#000" stroke-width="5.5" stroke-linejoin="round"/>
<path d="M345.3 2584.0 C345.3 2584.0 345.3 2584.0 357.2 2568.8 C369.1 2553.7 392.9 2523.4 416.7 2499.8 C440.5 2476.3 464.3 2459.5 488.1 2439.2 C511.8 2418.9 535.6 2395.0 559.4 2367.5 C583.2 2340.0 607.0 2308.8 630.8 2271.5 C654.6 2234.2 678.4 2190.8 702.2 2144.2 C726.0 2097.5 749.8 2047.8 773.6 2000.5 C797.3 1953.2 821.1 1908.5 844.9 1870.7 C868.7 1833.0 892.5 1802.4 916.3 1784.9 C940.1 1767.5 963.9 1763.3 987.7 1755.4 C1011.5 1747.4 1035.3 1735.7 1059.0 1729.5 C1082.8 1723.2 1106.6 1722.5 1130.4 1721.4 C1154.2 1720.2 1178.0 1718.6 1201.8 1716.6 C1225.6 1714.5 1249.4 1712.1 1273.2 1707.1 C1297.0 1702.1 1320.8 1694.6 1344.5 1690.0 C1368.3 1685.4 1392.1 1683.8 1415.9 1683.0 C1439.7 1682.2 1463.5 1682.2 1499.2 1682.7 C1534.9 1683.1 1582.5 1684.0 1606.3 1684.5 C1630.0 1684.9 1630.0 1684.9 1630.0 1684.9" fill="none" stroke="#000" stroke-width="5.5"/>
<path d="M345.3 2584.0 C345.3 2584.0 345.3 2584.0 357.2 2571.0 C369.1 2558.0 392.9 2532.0 416.7 2509.9 C440.5 2487.7 464.3 2469.5 488.1 2448.2 C511.8 2427.0 535.6 2402.7 559.4 2378.2 C583.2 2353.6 607.0 2328.8 630.8 2301.5 C654.6 2274.1 678.4 2244.3 702.2 2201.6 C726.0 2159.0 749.8 2103.4 773.6 2057.0 C797.3 2010.6 821.1 1973.2 844.9 1925.9 C868.7 1878.6 892.5 1821.4 916.3 1789.4 C940.1 1757.5 963.9 1750.7 987.7 1743.6 C1011.5 1736.6 1035.3 1729.2 1059.0 1723.1 C1082.8 1716.9 1106.6 1712.0 1130.4 1711.2 C1154.2 1710.4 1178.0 1713.7 1201.8 1711.6 C1225.6 1709.5 1249.4 1701.9 1273.2 1695.7 C1297.0 1689.5 1320.8 1684.6 1344.5 1684.2 C1368.3 1683.9 1392.1 1688.1 1415.9 1688.5 C1439.7 1688.9 1463.5 1685.6 1499.2 1683.5 C1534.9 1681.4 1582.5 1680.5 1606.3 1680.1 C1630.0 1679.7 1630.0 1679.7 1630.0 1679.7" fill="none" stroke="#000" stroke-width="5.5"/>
<polygon points="688.2,2348.3 716.2,2348.3 702.2,2373.3" fill="#fff" stroke="#000" stroke-width="2"/>
<polygon points="759.5,2271.0 787.5,2271.0 773.5,2296.0" fill="#fff" stroke="#000" stroke-width="2"/>
<polygon points="830.9,2256.2 858.9,2256.2 844.9,2281.2" fill="#fff" stroke="#000" stroke-width="2"/>
<polygon points="902.3,2204.0 930.3,2204.0 916.3,2229.0" fill="#fff" stroke="#000" stroke-width="2"/>
<polygon points="973.7,2162.4 1001.7,2162.4 987.7,2187.4" fill="#fff" stroke="#000" stroke-width="2"/>
<polygon points="1045.0,2122.4 1073.0,2122.4 1059.0,2147.4" fill="#fff" stroke="#000" stroke-width="2"/>
<polygon points="1116.4,2104.5 1144.4,2104.5 1130.4,2129.5" fill="#fff" stroke="#000" stroke-width="2"/>
<polygon points="1187.8,2089.4 1215.8,2089.4 1201.8,2114.4" fill="#fff" stroke="#000" stroke-width="2"/>
<polygon points="1259.2,2086.9 1287.2,2086.9 1273.2,2111.9" fill="#fff" stroke="#000" stroke-width="2"/>
<polygon points="1330.5,2069.7 1358.5,2069.7 1344.5,2094.7" fill="#fff" stroke="#000" stroke-width="2"/>
<polygon points="1401.9,2052.4 1429.9,2052.4 1415.9,2077.4" fill="#fff" stroke="#000" stroke-width="2"/>
<polygon points="1473.3,2032.5 1501.3,2032.5 1487.3,2057.5" fill="#fff" stroke="#000" stroke-width="2"/>
<polygon points="1616.0,2012.8 1644.0,2012.8 1630.0,2037.8" fill="#fff" stroke="#000" stroke-width="2"/>
<circle cx="702.2" cy="2343.7" r="10.5" fill="#fff" stroke="#000" stroke-width="2"/>
<circle cx="773.5" cy="2276.7" r="10.5" fill="#fff" stroke="#000" stroke-width="2"/>
<circle cx="844.9" cy="2252.0" r="10.5" fill="#fff" stroke="#000" stroke-width="2"/>
<circle cx="916.3" cy="2222.0" r="10.5" fill="#fff" stroke="#000" stroke-width="2"/>
<circle cx="987.7" cy="2170.8" r="10.5" fill="#fff" stroke="#000" stroke-width="2"/>
<circle cx="1059.0" cy="2143.7" r="10.5" fill="#fff" stroke="#000" stroke-width="2"/>
<circle cx="1130.4" cy="2137.4" r="10.5" fill="#fff" stroke="#000" stroke-width="2"/>
<circle cx="1201.8" cy="2122.3" r="10.5" fill="#fff" stroke="#000" stroke-width="2"/>
<circle cx="1273.2" cy="2109.7" r="10.5" fill="#fff" stroke="#000" stroke-width="2"/>
<circle cx="1344.5" cy="2102.3" r="10.5" fill="#fff" stroke="#000" stroke-width="2"/>
<circle cx="1415.9" cy="2085.0" r="10.5" fill="#fff" stroke="#000" stroke-width="2"/>
<circle cx="1487.3" cy="2075.3" r="10.5" fill="#fff" stroke="#000" stroke-width="2"/>
<circle cx="1630.0" cy="2066.5" r="10.5" fill="#fff" stroke="#000" stroke-width="2"/>
<path d="M702.2 2322.6 L702.2 2364.8 M692.2 2322.6 L712.2 2322.6 M692.2 2364.8 L712.2 2364.8" stroke="#000" stroke-width="2" fill="none"/>
<path d="M773.5 2259.8 L773.5 2293.5 M763.5 2259.8 L783.5 2259.8 M763.5 2293.5 L783.5 2293.5" stroke="#000" stroke-width="2" fill="none"/>
<path d="M844.9 2241.4 L844.9 2262.5 M834.9 2241.4 L854.9 2241.4 M834.9 2262.5 L854.9 2262.5" stroke="#000" stroke-width="2" fill="none"/>
<path d="M916.3 2200.9 L916.3 2243.0 M906.3 2200.9 L926.3 2200.9 M906.3 2243.0 L926.3 2243.0" stroke="#000" stroke-width="2" fill="none"/>
<path d="M987.7 2158.2 L987.7 2183.5 M977.7 2158.2 L997.7 2158.2 M977.7 2183.5 L997.7 2183.5" stroke="#000" stroke-width="2" fill="none"/>
<path d="M1059.0 2122.7 L1059.0 2164.8 M1049.0 2122.7 L1069.0 2122.7 M1049.0 2164.8 L1069.0 2164.8" stroke="#000" stroke-width="2" fill="none"/>
<path d="M1130.4 2126.9 L1130.4 2148.0 M1120.4 2126.9 L1140.4 2126.9 M1120.4 2148.0 L1140.4 2148.0" stroke="#000" stroke-width="2" fill="none"/>
<path d="M1201.8 2109.7 L1201.8 2135.0 M1191.8 2109.7 L1211.8 2109.7 M1191.8 2135.0 L1211.8 2135.0" stroke="#000" stroke-width="2" fill="none"/>
<path d="M1273.2 2088.6 L1273.2 2130.8 M1263.2 2088.6 L1283.2 2088.6 M1263.2 2130.8 L1283.2 2130.8" stroke="#000" stroke-width="2" fill="none"/>
<path d="M1344.5 2081.2 L1344.5 2123.4 M1334.5 2081.2 L1354.5 2081.2 M1334.5 2123.4 L1354.5 2123.4" stroke="#000" stroke-width="2" fill="none"/>
<path d="M1415.9 2074.5 L1415.9 2095.6 M1405.9 2074.5 L1425.9 2074.5 M1405.9 2095.6 L1425.9 2095.6" stroke="#000" stroke-width="2" fill="none"/>
<path d="M1487.3 2056.4 L1487.3 2094.3 M1477.3 2056.4 L1497.3 2056.4 M1477.3 2094.3 L1497.3 2094.3" stroke="#000" stroke-width="2" fill="none"/>
<path d="M1630.0 2058.1 L1630.0 2074.9 M1620.0 2058.1 L1640.0 2058.1 M1620.0 2074.9 L1640.0 2074.9" stroke="#000" stroke-width="2" fill="none"/>
<path d="M702.2 2332.4 L702.2 2385.1 M692.2 2332.4 L712.2 2332.4 M692.2 2385.1 L712.2 2385.1" stroke="#000" stroke-width="2" fill="none"/>
<path d="M773.5 2260.4 L773.5 2302.6 M763.5 2260.4 L783.5 2260.4 M763.5 2302.6 L783.5 2302.6" stroke="#000" stroke-width="2" fill="none"/>
<path d="M844.9 2254.1 L844.9 2279.4 M834.9 2254.1 L854.9 2254.1 M834.9 2279.4 L854.9 2279.4" stroke="#000" stroke-width="2" fill="none"/>
<path d="M916.3 2182.8 L916.3 2246.1 M906.3 2182.8 L926.3 2182.8 M906.3 2246.1 L926.3 2246.1" stroke="#000" stroke-width="2" fill="none"/>
<path d="M987.7 2157.1 L987.7 2188.8 M977.7 2157.1 L997.7 2157.1 M977.7 2188.8 L997.7 2188.8" stroke="#000" stroke-width="2" fill="none"/>
<path d="M1059.0 2106.5 L1059.0 2159.2 M1049.0 2106.5 L1069.0 2106.5 M1049.0 2159.2 L1069.0 2159.2" stroke="#000" stroke-width="2" fill="none"/>
<path d="M1130.4 2099.2 L1130.4 2130.8 M1120.4 2099.2 L1140.4 2099.2 M1120.4 2130.8 L1140.4 2130.8" stroke="#000" stroke-width="2" fill="none"/>
<path d="M1201.8 2068.3 L1201.8 2131.5 M1191.8 2068.3 L1211.8 2068.3 M1191.8 2131.5 L1211.8 2131.5" stroke="#000" stroke-width="2" fill="none"/>
<path d="M1273.2 2071.0 L1273.2 2123.7 M1263.2 2071.0 L1283.2 2071.0 M1263.2 2123.7 L1283.2 2123.7" stroke="#000" stroke-width="2" fill="none"/>
<path d="M1344.5 2069.6 L1344.5 2090.7 M1334.5 2069.6 L1354.5 2069.6 M1334.5 2090.7 L1354.5 2090.7" stroke="#000" stroke-width="2" fill="none"/>
<path d="M1415.9 2037.6 L1415.9 2088.2 M1405.9 2037.6 L1425.9 2037.6 M1405.9 2088.2 L1425.9 2088.2" stroke="#000" stroke-width="2" fill="none"/>
<path d="M1487.3 2030.3 L1487.3 2055.6 M1477.3 2030.3 L1497.3 2030.3 M1477.3 2055.6 L1497.3 2055.6" stroke="#000" stroke-width="2" fill="none"/>
<path d="M1630.0 2002.2 L1630.0 2044.4 M1620.0 2002.2 L1640.0 2002.2 M1620.0 2044.4 L1640.0 2044.4" stroke="#000" stroke-width="2" fill="none"/>
<polygon points="402.7,2495.5 430.7,2495.5 416.7,2520.5" fill="#000"/>
<polygon points="474.1,2440.7 502.1,2440.7 488.1,2465.7" fill="#000"/>
<polygon points="545.4,2368.0 573.4,2368.0 559.4,2393.0" fill="#000"/>
<polygon points="616.8,2293.5 644.8,2293.5 630.8,2318.5" fill="#000"/>
<polygon points="688.2,2204.0 716.2,2204.0 702.2,2229.0" fill="#000"/>
<polygon points="759.5,2037.4 787.5,2037.4 773.5,2062.4" fill="#000"/>
<polygon points="830.9,1925.3 858.9,1925.3 844.9,1950.3" fill="#000"/>
<polygon points="902.3,1753.7 930.3,1753.7 916.3,1778.7" fill="#000"/>
<polygon points="973.7,1733.5 1001.7,1733.5 987.7,1758.5" fill="#000"/>
<polygon points="1045.0,1711.3 1073.0,1711.3 1059.0,1736.3" fill="#000"/>
<polygon points="1116.4,1696.6 1144.4,1696.6 1130.4,1721.6" fill="#000"/>
<polygon points="1187.8,1706.5 1215.8,1706.5 1201.8,1731.5" fill="#000"/>
<polygon points="1259.2,1683.9 1287.2,1683.9 1273.2,1708.9" fill="#000"/>
<polygon points="1330.5,1669.2 1358.5,1669.2 1344.5,1694.2" fill="#000"/>
<polygon points="1401.9,1681.8 1429.9,1681.8 1415.9,1706.8" fill="#000"/>
<polygon points="1473.3,1671.7 1501.3,1671.7 1487.3,1696.7" fill="#000"/>
<polygon points="1616.0,1669.2 1644.0,1669.2 1630.0,1694.2" fill="#000"/>
<circle cx="416.7" cy="2493.0" r="11.5" fill="#000"/>
<circle cx="488.1" cy="2442.8" r="11.5" fill="#000"/>
<circle cx="559.4" cy="2371.1" r="11.5" fill="#000"/>
<circle cx="630.8" cy="2277.7" r="11.5" fill="#000"/>
<circle cx="702.2" cy="2147.3" r="11.5" fill="#000"/>
<circle cx="773.5" cy="1998.0" r="11.5" fill="#000"/>
<circle cx="844.9" cy="1863.7" r="11.5" fill="#000"/>
<circle cx="916.3" cy="1771.7" r="11.5" fill="#000"/>
<circle cx="987.7" cy="1759.1" r="11.5" fill="#000"/>
<circle cx="1059.0" cy="1723.9" r="11.5" fill="#000"/>
<circle cx="1130.4" cy="1721.8" r="11.5" fill="#000"/>
<circle cx="1201.8" cy="1717.0" r="11.5" fill="#000"/>
<circle cx="1273.2" cy="1709.6" r="11.5" fill="#000"/>
<circle cx="1344.5" cy="1687.0" r="11.5" fill="#000"/>
<circle cx="1415.9" cy="1682.2" r="11.5" fill="#000"/>
<circle cx="1487.3" cy="1682.2" r="11.5" fill="#000"/>
<circle cx="1630.0" cy="1684.9" r="11.5" fill="#000"/>
<line x1="1241" y1="1780.2" x2="1463.5" y2="1780.2" stroke="#000" stroke-width="5.5"/>
<line x1="1241" y1="1866.3" x2="1463.5" y2="1866.3" stroke="#000" stroke-width="5.5"/>
<line x1="1241" y1="2200.4" x2="1463.5" y2="2200.4" stroke="#000" stroke-width="5.5"/>
<line x1="1241" y1="2285.5" x2="1463.5" y2="2285.5" stroke="#000" stroke-width="5.5"/>
<circle cx="1351.5" cy="1780.2" r="17.5" fill="#000"/>
<polygon points="1331.5,1848 1371.5,1848 1351.5,1886" fill="#000"/>
<circle cx="1351.5" cy="2200.4" r="15" fill="#fff" stroke="#000" stroke-width="3.5"/>
<polygon points="1334,2269.5 1369,2269.5 1351.5,2302.5" fill="#fff" stroke="#000" stroke-width="3.5" stroke-linejoin="miter"/>
<text x="1490.9" y="1801.6" font-size="57.3" letter-spacing="1">&#916;<tspan font-style="italic">phoB</tspan> P<tspan font-size="39" dy="11">i</tspan><tspan dy="-11">+</tspan></text>
<text x="1533.2" y="1886.2" font-size="57.3" letter-spacing="1">WT P<tspan font-size="39" dy="11">i</tspan><tspan dy="-11">+</tspan></text>
<text x="1498.3" y="2221.8" font-size="57.3" letter-spacing="1">&#916;<tspan font-style="italic">phoB</tspan> P<tspan font-size="39" dy="11">i</tspan><tspan dy="-11">-</tspan></text>
<text x="1540.6" y="2306.4" font-size="57.3" letter-spacing="1">WT P<tspan font-size="39" dy="11">i</tspan><tspan dy="-11">-</tspan></text>
<line x1="688.6" y1="2469.3" x2="645.3" y2="2369.0" stroke="#000" stroke-width="4.6"/>
<path d="M635.8 2347.0 L633.7 2383.8 L645.3 2369.0 L664.0 2370.8 Z" fill="#000"/>
<text x="703" y="2486.7" font-size="70.5" letter-spacing="0.25">Change to P<tspan font-size="47" dy="12">i</tspan><tspan dy="-12">-limiting media</tspan></text>
<text transform="translate(27.9 2912) scale(0.865 1)" font-size="66">C</text>
<line x1="949.1" y1="2958" x2="949.1" y2="4262.0" stroke="#1a9aa3" stroke-width="3" stroke-dasharray="13 7.5"/>
<line x1="1300.7" y1="2958" x2="1300.7" y2="4262.0" stroke="#1a9aa3" stroke-width="3" stroke-dasharray="13 7.5"/>
<line x1="70" y1="4015.8" x2="2175" y2="4015.8" stroke="#1a9aa3" stroke-width="3" stroke-dasharray="13 7.5"/>
<path d="M1096.2 4182.8h9.5v9.5h-9.5zM1189.7 3912.6h9.5v9.5h-9.5zM1181.6 4148.9h9.5v9.5h-9.5zM1131.3 4250.1h9.5v9.5h-9.5zM1153.4 4078.9h9.5v9.5h-9.5zM1162.2 4192.1h9.5v9.5h-9.5zM1078.5 3886.5h9.5v9.5h-9.5zM1040.1 3605.9h9.5v9.5h-9.5zM1105.3 4164.8h9.5v9.5h-9.5zM1169.8 4119.3h9.5v9.5h-9.5zM1162.5 4166.0h9.5v9.5h-9.5zM1158.6 3952.2h9.5v9.5h-9.5zM1099.7 4163.5h9.5v9.5h-9.5zM1097.4 4215.9h9.5v9.5h-9.5zM1133.1 4234.7h9.5v9.5h-9.5zM1114.3 4252.2h9.5v9.5h-9.5zM1020.4 3990.6h9.5v9.5h-9.5zM1050.3 4114.4h9.5v9.5h-9.5zM1153.9 4092.2h9.5v9.5h-9.5zM1112.6 4235.9h9.5v9.5h-9.5zM1045.0 4162.8h9.5v9.5h-9.5zM1262.4 3542.9h9.5v9.5h-9.5zM1084.0 4184.1h9.5v9.5h-9.5zM1101.6 4221.4h9.5v9.5h-9.5zM1146.6 4192.9h9.5v9.5h-9.5zM1087.1 4198.7h9.5v9.5h-9.5zM1030.1 3728.1h9.5v9.5h-9.5zM1121.5 4253.9h9.5v9.5h-9.5zM1072.2 3990.3h9.5v9.5h-9.5zM1081.8 4191.1h9.5v9.5h-9.5zM1125.1 4231.7h9.5v9.5h-9.5zM1126.1 4249.2h9.5v9.5h-9.5zM1078.7 4133.4h9.5v9.5h-9.5zM1130.3 4245.1h9.5v9.5h-9.5zM1122.7 4248.3h9.5v9.5h-9.5zM1067.3 3995.7h9.5v9.5h-9.5zM1047.4 4142.3h9.5v9.5h-9.5zM1053.8 4029.8h9.5v9.5h-9.5zM1106.0 4184.0h9.5v9.5h-9.5zM1210.8 4205.1h9.5v9.5h-9.5zM1058.2 4112.7h9.5v9.5h-9.5zM1108.6 4239.1h9.5v9.5h-9.5zM1174.2 3943.7h9.5v9.5h-9.5zM1098.9 4177.9h9.5v9.5h-9.5zM1115.9 4249.5h9.5v9.5h-9.5zM990.5 3777.6h9.5v9.5h-9.5zM1072.1 4159.9h9.5v9.5h-9.5zM1120.6 4255.7h9.5v9.5h-9.5zM1113.7 4245.9h9.5v9.5h-9.5zM1026.0 3751.9h9.5v9.5h-9.5zM1166.6 3957.5h9.5v9.5h-9.5zM1216.3 4073.7h9.5v9.5h-9.5zM1147.2 4114.1h9.5v9.5h-9.5zM1091.2 4082.6h9.5v9.5h-9.5zM1164.0 4014.9h9.5v9.5h-9.5zM1044.6 3998.1h9.5v9.5h-9.5zM1134.8 4185.5h9.5v9.5h-9.5zM1043.1 3930.1h9.5v9.5h-9.5zM1100.0 4188.4h9.5v9.5h-9.5zM1159.0 4139.0h9.5v9.5h-9.5zM1134.6 4215.1h9.5v9.5h-9.5zM1087.6 4138.0h9.5v9.5h-9.5zM1130.9 4227.9h9.5v9.5h-9.5zM1063.3 4135.2h9.5v9.5h-9.5zM1108.8 4232.0h9.5v9.5h-9.5zM1115.7 4247.9h9.5v9.5h-9.5zM1102.7 4114.3h9.5v9.5h-9.5zM1147.7 4060.0h9.5v9.5h-9.5zM1150.5 3990.1h9.5v9.5h-9.5zM1056.8 4025.8h9.5v9.5h-9.5zM1133.4 4235.0h9.5v9.5h-9.5zM1130.0 4242.4h9.5v9.5h-9.5zM1084.3 3956.3h9.5v9.5h-9.5zM1096.7 4251.4h9.5v9.5h-9.5zM1063.7 3939.6h9.5v9.5h-9.5zM1170.9 3997.3h9.5v9.5h-9.5zM1062.7 4065.8h9.5v9.5h-9.5zM1183.1 4140.1h9.5v9.5h-9.5zM1248.1 3527.4h9.5v9.5h-9.5zM1170.7 4140.4h9.5v9.5h-9.5zM1094.5 4081.8h9.5v9.5h-9.5zM1106.3 4200.5h9.5v9.5h-9.5zM1040.7 3728.5h9.5v9.5h-9.5zM1094.6 4129.4h9.5v9.5h-9.5zM1139.2 4191.3h9.5v9.5h-9.5zM1090.5 4208.2h9.5v9.5h-9.5zM1076.9 4067.3h9.5v9.5h-9.5zM1169.7 4144.8h9.5v9.5h-9.5zM1205.1 4089.5h9.5v9.5h-9.5zM1203.1 3939.9h9.5v9.5h-9.5zM1100.1 4208.3h9.5v9.5h-9.5zM1132.9 4200.6h9.5v9.5h-9.5zM1059.4 4166.6h9.5v9.5h-9.5zM1063.1 4103.9h9.5v9.5h-9.5zM1147.3 4198.6h9.5v9.5h-9.5zM1167.0 4060.6h9.5v9.5h-9.5zM1063.0 4061.8h9.5v9.5h-9.5zM1103.7 4148.4h9.5v9.5h-9.5zM1107.8 4225.3h9.5v9.5h-9.5zM1171.3 4125.9h9.5v9.5h-9.5zM1075.6 4230.0h9.5v9.5h-9.5zM1076.7 3969.7h9.5v9.5h-9.5zM1077.9 4111.9h9.5v9.5h-9.5zM1032.3 4090.2h9.5v9.5h-9.5zM1174.6 4117.5h9.5v9.5h-9.5zM1146.7 4095.3h9.5v9.5h-9.5zM1232.3 3902.9h9.5v9.5h-9.5zM1016.3 3566.9h9.5v9.5h-9.5zM975.7 4123.0h9.5v9.5h-9.5zM1120.7 4254.4h9.5v9.5h-9.5zM1154.0 4205.9h9.5v9.5h-9.5zM1134.6 4217.1h9.5v9.5h-9.5zM1059.8 3943.6h9.5v9.5h-9.5zM1203.1 3988.8h9.5v9.5h-9.5zM1063.2 4031.9h9.5v9.5h-9.5zM1160.3 4006.9h9.5v9.5h-9.5zM1070.7 4198.6h9.5v9.5h-9.5zM1133.3 4230.2h9.5v9.5h-9.5zM1071.1 4164.5h9.5v9.5h-9.5zM1074.5 3888.0h9.5v9.5h-9.5zM1131.5 4237.9h9.5v9.5h-9.5zM1147.5 4009.2h9.5v9.5h-9.5zM1039.4 4000.0h9.5v9.5h-9.5zM1137.7 4225.1h9.5v9.5h-9.5zM1187.7 3910.5h9.5v9.5h-9.5zM1115.3 4240.6h9.5v9.5h-9.5zM1273.7 3964.8h9.5v9.5h-9.5zM1110.3 4083.9h9.5v9.5h-9.5zM1085.9 4248.1h9.5v9.5h-9.5zM1099.1 4138.6h9.5v9.5h-9.5zM1122.0 4255.8h9.5v9.5h-9.5zM1070.7 4093.4h9.5v9.5h-9.5zM1127.5 4200.2h9.5v9.5h-9.5zM1082.1 4213.4h9.5v9.5h-9.5zM1209.0 3995.9h9.5v9.5h-9.5zM1110.2 4234.0h9.5v9.5h-9.5zM991.5 3591.4h9.5v9.5h-9.5zM1121.1 4256.5h9.5v9.5h-9.5zM1111.3 4143.6h9.5v9.5h-9.5zM1215.6 4049.5h9.5v9.5h-9.5zM1044.9 3789.6h9.5v9.5h-9.5zM1130.6 4237.1h9.5v9.5h-9.5zM1147.4 4147.1h9.5v9.5h-9.5zM1172.7 4025.9h9.5v9.5h-9.5zM1010.2 4026.7h9.5v9.5h-9.5zM1104.7 4249.7h9.5v9.5h-9.5zM1181.8 4064.6h9.5v9.5h-9.5zM1138.4 4221.2h9.5v9.5h-9.5zM1140.5 4088.6h9.5v9.5h-9.5zM1150.2 4162.3h9.5v9.5h-9.5zM1062.3 4039.8h9.5v9.5h-9.5zM1177.2 4007.1h9.5v9.5h-9.5zM1065.3 4112.3h9.5v9.5h-9.5zM1183.3 3874.2h9.5v9.5h-9.5zM991.7 3737.4h9.5v9.5h-9.5zM1210.7 3932.8h9.5v9.5h-9.5zM1140.0 4171.9h9.5v9.5h-9.5zM1052.9 4070.6h9.5v9.5h-9.5zM1093.6 4235.8h9.5v9.5h-9.5zM973.5 3523.5h9.5v9.5h-9.5zM1125.6 4245.7h9.5v9.5h-9.5zM1181.7 3898.6h9.5v9.5h-9.5zM1135.5 4178.4h9.5v9.5h-9.5zM1037.6 4118.4h9.5v9.5h-9.5zM1154.8 4203.2h9.5v9.5h-9.5zM1086.5 4191.2h9.5v9.5h-9.5zM1016.4 3814.8h9.5v9.5h-9.5zM1097.5 4207.8h9.5v9.5h-9.5zM1068.2 4020.5h9.5v9.5h-9.5zM1143.4 4189.4h9.5v9.5h-9.5zM1092.1 4160.1h9.5v9.5h-9.5zM1088.5 4122.0h9.5v9.5h-9.5zM1132.4 4196.4h9.5v9.5h-9.5zM1179.3 4167.2h9.5v9.5h-9.5zM1176.0 4038.3h9.5v9.5h-9.5zM1128.0 4242.8h9.5v9.5h-9.5zM1104.6 4213.5h9.5v9.5h-9.5zM1209.2 4216.2h9.5v9.5h-9.5zM1176.4 4173.8h9.5v9.5h-9.5zM1138.8 4173.4h9.5v9.5h-9.5zM1032.9 4073.2h9.5v9.5h-9.5zM1110.7 4245.9h9.5v9.5h-9.5zM1032.5 3862.6h9.5v9.5h-9.5zM1148.9 4181.0h9.5v9.5h-9.5zM1118.4 4252.5h9.5v9.5h-9.5zM1070.8 3900.6h9.5v9.5h-9.5zM1073.9 4043.6h9.5v9.5h-9.5zM1114.8 4246.5h9.5v9.5h-9.5zM1065.9 4062.4h9.5v9.5h-9.5zM1062.0 3692.1h9.5v9.5h-9.5zM1107.4 4184.9h9.5v9.5h-9.5zM1200.6 3856.4h9.5v9.5h-9.5zM1115.2 4250.0h9.5v9.5h-9.5zM1130.9 4206.7h9.5v9.5h-9.5zM1105.5 4233.0h9.5v9.5h-9.5zM1111.3 4228.2h9.5v9.5h-9.5zM1110.6 4191.5h9.5v9.5h-9.5zM1062.6 3991.8h9.5v9.5h-9.5zM1103.7 4234.1h9.5v9.5h-9.5zM1163.5 4017.1h9.5v9.5h-9.5zM1170.2 4014.3h9.5v9.5h-9.5zM1124.6 4255.8h9.5v9.5h-9.5zM1003.6 3696.9h9.5v9.5h-9.5zM1095.0 4198.4h9.5v9.5h-9.5zM1149.3 4189.2h9.5v9.5h-9.5zM1203.5 3907.9h9.5v9.5h-9.5zM1146.1 4141.6h9.5v9.5h-9.5zM1128.7 4242.1h9.5v9.5h-9.5zM1105.2 4221.0h9.5v9.5h-9.5zM1172.2 4112.9h9.5v9.5h-9.5zM1097.3 4111.6h9.5v9.5h-9.5zM1099.5 4171.7h9.5v9.5h-9.5zM990.4 3971.6h9.5v9.5h-9.5zM1086.1 3894.1h9.5v9.5h-9.5zM1135.0 4212.8h9.5v9.5h-9.5zM1165.1 4126.5h9.5v9.5h-9.5zM1120.0 4256.7h9.5v9.5h-9.5zM1041.7 3968.5h9.5v9.5h-9.5zM1092.3 4161.3h9.5v9.5h-9.5zM1137.0 4083.1h9.5v9.5h-9.5zM1050.1 4129.6h9.5v9.5h-9.5zM1245.6 3857.2h9.5v9.5h-9.5zM1129.6 4247.1h9.5v9.5h-9.5zM1001.9 3995.7h9.5v9.5h-9.5zM1020.7 3958.0h9.5v9.5h-9.5zM1115.1 4219.0h9.5v9.5h-9.5zM1092.3 4215.3h9.5v9.5h-9.5zM1110.9 4213.4h9.5v9.5h-9.5zM1154.0 4033.8h9.5v9.5h-9.5zM1074.8 4227.1h9.5v9.5h-9.5zM1148.1 4195.5h9.5v9.5h-9.5zM1073.4 4048.0h9.5v9.5h-9.5zM1012.9 3897.1h9.5v9.5h-9.5zM1025.8 3838.2h9.5v9.5h-9.5zM1066.3 4044.7h9.5v9.5h-9.5zM1051.8 3921.4h9.5v9.5h-9.5zM1176.0 4078.8h9.5v9.5h-9.5zM1037.5 4081.8h9.5v9.5h-9.5zM1019.9 3895.4h9.5v9.5h-9.5zM1157.1 4200.3h9.5v9.5h-9.5zM1047.6 4025.8h9.5v9.5h-9.5zM1190.8 4040.7h9.5v9.5h-9.5zM1095.1 3991.9h9.5v9.5h-9.5zM1163.4 4097.1h9.5v9.5h-9.5zM1015.4 3952.2h9.5v9.5h-9.5zM1185.3 4005.2h9.5v9.5h-9.5zM1008.0 4047.8h9.5v9.5h-9.5zM1107.9 4243.3h9.5v9.5h-9.5zM1062.0 3888.1h9.5v9.5h-9.5zM1073.4 4098.0h9.5v9.5h-9.5zM1136.6 4010.8h9.5v9.5h-9.5zM1020.0 3625.5h9.5v9.5h-9.5zM1183.5 3977.7h9.5v9.5h-9.5zM1087.5 4203.9h9.5v9.5h-9.5zM1149.5 4076.8h9.5v9.5h-9.5zM1105.3 4232.0h9.5v9.5h-9.5zM1068.8 4142.0h9.5v9.5h-9.5zM1032.0 3952.7h9.5v9.5h-9.5zM1075.3 3787.5h9.5v9.5h-9.5zM1128.6 4226.5h9.5v9.5h-9.5zM1113.1 4241.8h9.5v9.5h-9.5zM1139.0 4153.4h9.5v9.5h-9.5zM1070.8 4125.5h9.5v9.5h-9.5zM1058.7 4075.3h9.5v9.5h-9.5zM1206.7 3924.3h9.5v9.5h-9.5zM1019.9 3910.7h9.5v9.5h-9.5zM1132.4 4237.8h9.5v9.5h-9.5zM1150.0 4051.4h9.5v9.5h-9.5zM1101.2 4228.4h9.5v9.5h-9.5zM1117.6 4248.9h9.5v9.5h-9.5zM1091.7 4061.4h9.5v9.5h-9.5zM1122.0 4254.4h9.5v9.5h-9.5zM1073.6 3758.1h9.5v9.5h-9.5zM1134.7 4129.2h9.5v9.5h-9.5zM1189.4 4034.9h9.5v9.5h-9.5zM1083.9 4126.5h9.5v9.5h-9.5zM1123.1 4251.5h9.5v9.5h-9.5zM1145.6 4189.2h9.5v9.5h-9.5zM1202.8 3965.0h9.5v9.5h-9.5zM1224.8 3855.7h9.5v9.5h-9.5zM1169.0 4084.2h9.5v9.5h-9.5zM1178.9 4016.7h9.5v9.5h-9.5zM1010.3 3721.7h9.5v9.5h-9.5zM1134.7 4180.7h9.5v9.5h-9.5zM1049.7 3976.2h9.5v9.5h-9.5zM1106.2 4221.3h9.5v9.5h-9.5zM1062.1 3715.3h9.5v9.5h-9.5zM1170.5 3927.2h9.5v9.5h-9.5zM1112.2 4234.3h9.5v9.5h-9.5zM1022.2 4060.1h9.5v9.5h-9.5zM1129.6 4223.9h9.5v9.5h-9.5zM1197.7 4120.5h9.5v9.5h-9.5zM1123.2 4253.6h9.5v9.5h-9.5zM1064.1 3986.7h9.5v9.5h-9.5zM1131.1 4234.4h9.5v9.5h-9.5zM1090.9 4056.1h9.5v9.5h-9.5zM1040.2 3975.5h9.5v9.5h-9.5zM1199.2 4148.2h9.5v9.5h-9.5zM1054.8 3816.0h9.5v9.5h-9.5zM1132.3 4219.3h9.5v9.5h-9.5zM1168.2 3970.5h9.5v9.5h-9.5zM1049.6 3717.7h9.5v9.5h-9.5zM1170.8 4061.5h9.5v9.5h-9.5zM1050.1 4023.8h9.5v9.5h-9.5zM1170.8 4130.6h9.5v9.5h-9.5zM1192.8 4196.0h9.5v9.5h-9.5zM1083.3 4198.1h9.5v9.5h-9.5zM1164.6 4122.0h9.5v9.5h-9.5zM1119.9 4256.6h9.5v9.5h-9.5zM1144.1 4136.2h9.5v9.5h-9.5zM1258.9 4111.1h9.5v9.5h-9.5zM1152.2 3991.5h9.5v9.5h-9.5zM1145.7 4192.8h9.5v9.5h-9.5zM1090.9 3955.8h9.5v9.5h-9.5zM1155.0 4081.6h9.5v9.5h-9.5zM1147.5 4221.5h9.5v9.5h-9.5zM1050.2 4039.0h9.5v9.5h-9.5zM1135.2 4242.6h9.5v9.5h-9.5zM1142.9 4157.1h9.5v9.5h-9.5zM1134.3 4220.0h9.5v9.5h-9.5zM1126.9 4243.4h9.5v9.5h-9.5zM1116.2 4249.8h9.5v9.5h-9.5zM1144.1 4213.9h9.5v9.5h-9.5zM1132.2 4241.0h9.5v9.5h-9.5zM1169.5 4226.2h9.5v9.5h-9.5zM1142.2 4214.6h9.5v9.5h-9.5zM1105.6 4227.2h9.5v9.5h-9.5zM1121.2 4255.1h9.5v9.5h-9.5zM1014.2 3885.4h9.5v9.5h-9.5zM1139.1 4156.1h9.5v9.5h-9.5zM1100.1 4185.6h9.5v9.5h-9.5zM1029.3 3798.9h9.5v9.5h-9.5zM1062.9 4164.2h9.5v9.5h-9.5zM1113.3 4238.6h9.5v9.5h-9.5zM1024.6 3534.0h9.5v9.5h-9.5zM1098.4 4174.3h9.5v9.5h-9.5zM1120.8 4256.0h9.5v9.5h-9.5zM1232.1 3964.8h9.5v9.5h-9.5zM1149.4 4151.3h9.5v9.5h-9.5zM1053.3 3844.0h9.5v9.5h-9.5zM1171.1 4149.2h9.5v9.5h-9.5zM1054.1 4042.4h9.5v9.5h-9.5zM1040.0 3600.6h9.5v9.5h-9.5zM1124.4 4235.5h9.5v9.5h-9.5zM1071.0 4200.9h9.5v9.5h-9.5zM1197.2 3905.0h9.5v9.5h-9.5zM1164.3 3972.8h9.5v9.5h-9.5zM1063.6 3817.7h9.5v9.5h-9.5zM1184.4 4004.7h9.5v9.5h-9.5zM1153.2 4124.3h9.5v9.5h-9.5zM1086.2 4056.3h9.5v9.5h-9.5zM1031.3 3820.1h9.5v9.5h-9.5zM1098.4 4214.1h9.5v9.5h-9.5zM1185.3 4088.7h9.5v9.5h-9.5zM1055.0 3834.6h9.5v9.5h-9.5zM1072.2 3985.4h9.5v9.5h-9.5zM1148.2 4221.0h9.5v9.5h-9.5zM1092.7 4193.8h9.5v9.5h-9.5zM1037.3 3896.0h9.5v9.5h-9.5zM1181.8 3919.6h9.5v9.5h-9.5zM1119.9 4256.9h9.5v9.5h-9.5zM1088.6 4138.6h9.5v9.5h-9.5zM995.9 3966.5h9.5v9.5h-9.5zM1143.5 4251.1h9.5v9.5h-9.5zM1075.6 4200.9h9.5v9.5h-9.5zM1104.5 4058.4h9.5v9.5h-9.5zM1146.2 4130.6h9.5v9.5h-9.5zM1000.7 3800.9h9.5v9.5h-9.5zM998.9 3521.6h9.5v9.5h-9.5zM1037.0 4131.1h9.5v9.5h-9.5zM1053.7 4214.5h9.5v9.5h-9.5zM1068.9 4036.6h9.5v9.5h-9.5zM1173.1 3980.4h9.5v9.5h-9.5zM961.0 3990.5h9.5v9.5h-9.5zM1208.5 4031.0h9.5v9.5h-9.5zM1084.1 3889.4h9.5v9.5h-9.5zM1053.5 3805.2h9.5v9.5h-9.5zM1017.0 3750.4h9.5v9.5h-9.5zM1062.9 4128.6h9.5v9.5h-9.5zM1144.0 4206.9h9.5v9.5h-9.5zM1153.8 3875.9h9.5v9.5h-9.5zM1130.9 4234.6h9.5v9.5h-9.5zM1058.2 3618.0h9.5v9.5h-9.5zM1098.9 4164.8h9.5v9.5h-9.5zM1128.6 4220.5h9.5v9.5h-9.5zM1141.6 4222.4h9.5v9.5h-9.5zM1102.4 4234.8h9.5v9.5h-9.5zM1145.8 4215.1h9.5v9.5h-9.5zM1097.6 4117.6h9.5v9.5h-9.5zM1109.4 4242.2h9.5v9.5h-9.5zM1066.1 4124.3h9.5v9.5h-9.5zM1266.3 3929.3h9.5v9.5h-9.5zM1113.2 4240.3h9.5v9.5h-9.5zM1152.4 4007.9h9.5v9.5h-9.5zM1138.4 4139.1h9.5v9.5h-9.5zM1116.4 4251.5h9.5v9.5h-9.5zM1124.5 4250.0h9.5v9.5h-9.5zM1089.1 4208.2h9.5v9.5h-9.5zM1038.5 3838.8h9.5v9.5h-9.5zM1149.5 4196.8h9.5v9.5h-9.5zM1224.7 3942.4h9.5v9.5h-9.5zM1127.8 4223.6h9.5v9.5h-9.5zM1100.2 4133.5h9.5v9.5h-9.5zM1124.7 4250.8h9.5v9.5h-9.5zM1096.9 4136.1h9.5v9.5h-9.5zM1052.8 3566.4h9.5v9.5h-9.5zM1071.5 4011.9h9.5v9.5h-9.5zM1176.6 4109.4h9.5v9.5h-9.5zM1066.1 4164.5h9.5v9.5h-9.5zM1045.3 3814.9h9.5v9.5h-9.5zM1105.2 4218.4h9.5v9.5h-9.5zM1119.0 4255.9h9.5v9.5h-9.5zM974.0 4087.3h9.5v9.5h-9.5zM1110.0 4240.1h9.5v9.5h-9.5zM1067.8 4123.5h9.5v9.5h-9.5zM1095.6 4086.9h9.5v9.5h-9.5zM1050.9 4103.1h9.5v9.5h-9.5zM1241.1 4154.5h9.5v9.5h-9.5zM1133.5 4215.7h9.5v9.5h-9.5zM1005.3 4000.9h9.5v9.5h-9.5zM1108.2 4225.9h9.5v9.5h-9.5zM1095.2 4144.8h9.5v9.5h-9.5zM1113.0 4229.0h9.5v9.5h-9.5zM1017.0 3950.1h9.5v9.5h-9.5zM1106.9 4225.2h9.5v9.5h-9.5zM961.8 3656.9h9.5v9.5h-9.5zM1103.2 3978.4h9.5v9.5h-9.5zM1089.5 4140.4h9.5v9.5h-9.5zM1033.5 3879.6h9.5v9.5h-9.5zM1200.1 4081.8h9.5v9.5h-9.5zM1059.3 3824.4h9.5v9.5h-9.5zM1192.4 4187.3h9.5v9.5h-9.5zM1076.0 4137.7h9.5v9.5h-9.5zM1172.8 4140.4h9.5v9.5h-9.5zM1152.1 3944.6h9.5v9.5h-9.5zM1166.3 4179.7h9.5v9.5h-9.5zM1159.0 4145.0h9.5v9.5h-9.5zM1087.9 3982.0h9.5v9.5h-9.5zM1123.4 4251.3h9.5v9.5h-9.5zM1214.5 3926.3h9.5v9.5h-9.5zM1080.5 4040.6h9.5v9.5h-9.5zM1069.2 4046.8h9.5v9.5h-9.5zM1112.6 4243.5h9.5v9.5h-9.5zM1099.5 4210.0h9.5v9.5h-9.5zM1091.3 4182.8h9.5v9.5h-9.5zM1082.9 4175.4h9.5v9.5h-9.5zM1018.2 4039.8h9.5v9.5h-9.5zM1209.8 4012.1h9.5v9.5h-9.5zM1194.2 3526.1h9.5v9.5h-9.5zM1147.3 4195.2h9.5v9.5h-9.5zM1211.8 3921.7h9.5v9.5h-9.5zM1193.7 4060.6h9.5v9.5h-9.5zM1112.1 4239.9h9.5v9.5h-9.5zM1131.0 4185.2h9.5v9.5h-9.5zM1069.2 4197.8h9.5v9.5h-9.5zM1149.6 4097.5h9.5v9.5h-9.5zM1019.8 4005.6h9.5v9.5h-9.5zM1122.9 4248.0h9.5v9.5h-9.5zM1065.1 3751.6h9.5v9.5h-9.5zM1092.5 4201.3h9.5v9.5h-9.5zM1160.2 4089.0h9.5v9.5h-9.5zM1083.6 4112.8h9.5v9.5h-9.5zM1045.6 4056.5h9.5v9.5h-9.5zM1015.1 3588.8h9.5v9.5h-9.5zM1149.9 4207.3h9.5v9.5h-9.5zM1225.0 4010.7h9.5v9.5h-9.5zM1191.8 4140.5h9.5v9.5h-9.5zM1015.0 3826.5h9.5v9.5h-9.5zM1079.1 4109.6h9.5v9.5h-9.5zM1087.5 4090.3h9.5v9.5h-9.5zM1187.6 4121.4h9.5v9.5h-9.5zM1224.5 3972.3h9.5v9.5h-9.5zM1196.5 4105.7h9.5v9.5h-9.5zM1127.4 4244.6h9.5v9.5h-9.5zM974.9 3670.3h9.5v9.5h-9.5zM1143.9 4128.5h9.5v9.5h-9.5zM1045.0 4122.9h9.5v9.5h-9.5zM1130.4 4213.1h9.5v9.5h-9.5zM1142.5 4236.7h9.5v9.5h-9.5zM1124.6 4245.6h9.5v9.5h-9.5zM1084.0 3980.0h9.5v9.5h-9.5zM1119.3 4254.6h9.5v9.5h-9.5zM1068.2 4111.5h9.5v9.5h-9.5zM995.5 3925.3h9.5v9.5h-9.5zM1171.7 4069.3h9.5v9.5h-9.5zM1060.6 4061.6h9.5v9.5h-9.5zM1051.9 3839.5h9.5v9.5h-9.5zM1052.8 4020.0h9.5v9.5h-9.5zM1066.6 3678.6h9.5v9.5h-9.5zM1086.8 3973.1h9.5v9.5h-9.5zM1107.3 4155.0h9.5v9.5h-9.5zM1058.0 4112.5h9.5v9.5h-9.5zM1178.3 4127.8h9.5v9.5h-9.5zM1201.5 3903.2h9.5v9.5h-9.5zM1022.9 3760.5h9.5v9.5h-9.5zM1098.8 4066.9h9.5v9.5h-9.5zM1153.7 4145.2h9.5v9.5h-9.5zM1182.3 3864.2h9.5v9.5h-9.5zM979.3 3663.7h9.5v9.5h-9.5zM1152.6 4215.4h9.5v9.5h-9.5zM1088.9 4097.6h9.5v9.5h-9.5zM1161.0 3910.9h9.5v9.5h-9.5zM1149.5 4232.5h9.5v9.5h-9.5zM1158.2 4027.1h9.5v9.5h-9.5zM1099.8 4198.4h9.5v9.5h-9.5zM1217.3 4001.2h9.5v9.5h-9.5zM1008.8 3758.8h9.5v9.5h-9.5zM1100.7 4214.0h9.5v9.5h-9.5zM1138.1 4193.3h9.5v9.5h-9.5zM1102.4 4133.8h9.5v9.5h-9.5zM1137.0 4232.6h9.5v9.5h-9.5zM1144.9 4088.5h9.5v9.5h-9.5zM1060.0 3667.4h9.5v9.5h-9.5zM1123.4 4241.3h9.5v9.5h-9.5zM1200.9 3967.4h9.5v9.5h-9.5zM1123.7 4238.9h9.5v9.5h-9.5zM1069.1 3929.1h9.5v9.5h-9.5zM1085.2 4150.3h9.5v9.5h-9.5zM1203.5 3866.3h9.5v9.5h-9.5zM1039.1 4115.7h9.5v9.5h-9.5zM1110.2 4228.4h9.5v9.5h-9.5zM1122.2 4253.6h9.5v9.5h-9.5zM1061.8 4120.7h9.5v9.5h-9.5zM1133.1 4239.6h9.5v9.5h-9.5zM1167.5 3956.3h9.5v9.5h-9.5zM1143.7 4125.7h9.5v9.5h-9.5zM1175.1 3948.2h9.5v9.5h-9.5zM1183.5 4142.0h9.5v9.5h-9.5zM1132.1 4218.2h9.5v9.5h-9.5zM1144.1 3960.3h9.5v9.5h-9.5zM1057.0 4036.2h9.5v9.5h-9.5zM1125.4 4247.9h9.5v9.5h-9.5zM1069.4 4142.0h9.5v9.5h-9.5zM1185.4 4135.7h9.5v9.5h-9.5zM1165.6 4124.9h9.5v9.5h-9.5zM1106.5 4228.2h9.5v9.5h-9.5zM1044.3 3821.8h9.5v9.5h-9.5zM1079.6 4213.8h9.5v9.5h-9.5zM1110.1 4244.7h9.5v9.5h-9.5zM1089.6 4060.5h9.5v9.5h-9.5zM1051.8 3701.9h9.5v9.5h-9.5zM1123.3 4253.6h9.5v9.5h-9.5zM1028.8 4016.8h9.5v9.5h-9.5zM1008.0 3524.5h9.5v9.5h-9.5zM1067.6 4163.2h9.5v9.5h-9.5zM1130.1 4244.7h9.5v9.5h-9.5zM1182.8 3968.7h9.5v9.5h-9.5zM1128.7 4221.1h9.5v9.5h-9.5zM1033.1 3810.6h9.5v9.5h-9.5zM1115.4 4237.7h9.5v9.5h-9.5zM1053.1 4077.9h9.5v9.5h-9.5zM1130.2 4227.9h9.5v9.5h-9.5zM1136.3 4230.2h9.5v9.5h-9.5zM1043.9 4066.6h9.5v9.5h-9.5zM1091.9 4204.3h9.5v9.5h-9.5zM1138.8 4126.6h9.5v9.5h-9.5zM1078.1 3960.3h9.5v9.5h-9.5zM1041.2 3574.3h9.5v9.5h-9.5zM1153.9 3937.8h9.5v9.5h-9.5zM1108.6 4180.1h9.5v9.5h-9.5zM1117.7 4248.1h9.5v9.5h-9.5zM1239.4 4058.1h9.5v9.5h-9.5zM1223.1 4100.3h9.5v9.5h-9.5zM1088.5 4128.4h9.5v9.5h-9.5zM1028.1 3890.5h9.5v9.5h-9.5zM1104.2 4226.1h9.5v9.5h-9.5zM1092.1 4158.4h9.5v9.5h-9.5zM1110.9 4239.1h9.5v9.5h-9.5zM1040.3 3846.1h9.5v9.5h-9.5zM1129.5 4222.8h9.5v9.5h-9.5zM1174.0 4031.3h9.5v9.5h-9.5zM1033.0 3936.0h9.5v9.5h-9.5zM1145.1 3969.5h9.5v9.5h-9.5zM1186.7 3972.5h9.5v9.5h-9.5zM1253.3 3542.6h9.5v9.5h-9.5zM1073.0 4043.8h9.5v9.5h-9.5zM1122.2 4252.9h9.5v9.5h-9.5zM1080.8 4026.3h9.5v9.5h-9.5zM1096.3 4117.7h9.5v9.5h-9.5zM1105.6 4216.0h9.5v9.5h-9.5zM1137.2 4196.2h9.5v9.5h-9.5zM1098.3 4186.2h9.5v9.5h-9.5zM1078.3 4032.2h9.5v9.5h-9.5zM1181.8 4054.4h9.5v9.5h-9.5zM1012.5 3778.7h9.5v9.5h-9.5zM1131.8 4220.0h9.5v9.5h-9.5zM1184.0 4046.0h9.5v9.5h-9.5zM1152.4 4211.7h9.5v9.5h-9.5zM1202.9 4087.9h9.5v9.5h-9.5zM1094.3 4161.9h9.5v9.5h-9.5zM1200.4 4006.9h9.5v9.5h-9.5zM1049.4 3809.7h9.5v9.5h-9.5zM1089.1 4118.2h9.5v9.5h-9.5zM1177.9 3978.5h9.5v9.5h-9.5zM1245.2 4104.2h9.5v9.5h-9.5zM1017.3 3810.1h9.5v9.5h-9.5zM1067.8 4114.7h9.5v9.5h-9.5zM1042.6 3708.2h9.5v9.5h-9.5zM1137.6 4091.0h9.5v9.5h-9.5zM1063.4 3978.0h9.5v9.5h-9.5zM1137.8 4040.4h9.5v9.5h-9.5zM1115.9 4254.5h9.5v9.5h-9.5zM1039.5 4120.9h9.5v9.5h-9.5zM1122.7 4250.0h9.5v9.5h-9.5zM1048.9 3984.3h9.5v9.5h-9.5zM1117.2 4255.7h9.5v9.5h-9.5zM1010.1 4220.9h9.5v9.5h-9.5zM1027.2 3642.2h9.5v9.5h-9.5zM1145.7 4220.7h9.5v9.5h-9.5zM1120.5 4255.9h9.5v9.5h-9.5zM1087.5 4163.9h9.5v9.5h-9.5zM1108.7 4100.7h9.5v9.5h-9.5zM1012.5 3950.1h9.5v9.5h-9.5zM1086.9 4140.7h9.5v9.5h-9.5zM1147.8 4042.1h9.5v9.5h-9.5zM1025.4 3878.1h9.5v9.5h-9.5zM1086.9 4170.0h9.5v9.5h-9.5zM1165.5 4172.5h9.5v9.5h-9.5zM1103.9 4210.8h9.5v9.5h-9.5zM1044.7 4006.7h9.5v9.5h-9.5zM1112.8 4245.2h9.5v9.5h-9.5zM1098.4 4152.0h9.5v9.5h-9.5zM1042.9 3740.0h9.5v9.5h-9.5zM1177.0 3992.6h9.5v9.5h-9.5zM1013.1 4118.9h9.5v9.5h-9.5zM1035.4 3763.2h9.5v9.5h-9.5zM1091.5 4036.4h9.5v9.5h-9.5zM1089.9 4170.5h9.5v9.5h-9.5zM1144.6 4126.1h9.5v9.5h-9.5zM1143.6 4207.5h9.5v9.5h-9.5zM1090.7 4227.1h9.5v9.5h-9.5zM1137.6 4223.2h9.5v9.5h-9.5zM1134.2 4231.3h9.5v9.5h-9.5zM1172.5 4056.0h9.5v9.5h-9.5zM1072.1 3973.9h9.5v9.5h-9.5zM1079.8 3809.5h9.5v9.5h-9.5zM1161.5 4135.7h9.5v9.5h-9.5zM1124.5 4233.5h9.5v9.5h-9.5zM1109.9 4195.6h9.5v9.5h-9.5zM1145.3 4132.2h9.5v9.5h-9.5zM1186.2 4115.6h9.5v9.5h-9.5zM1033.8 3953.6h9.5v9.5h-9.5zM1177.2 4147.6h9.5v9.5h-9.5zM1107.1 4074.0h9.5v9.5h-9.5zM1141.4 4153.1h9.5v9.5h-9.5zM1209.0 4072.9h9.5v9.5h-9.5zM1105.7 4227.8h9.5v9.5h-9.5zM1209.6 4121.8h9.5v9.5h-9.5zM1135.5 4154.2h9.5v9.5h-9.5zM1120.5 4256.1h9.5v9.5h-9.5zM1153.6 4159.0h9.5v9.5h-9.5zM1077.6 4150.5h9.5v9.5h-9.5zM1031.9 3880.3h9.5v9.5h-9.5zM1041.5 3984.9h9.5v9.5h-9.5zM1000.8 3919.4h9.5v9.5h-9.5zM1048.3 3896.9h9.5v9.5h-9.5zM1061.5 4143.7h9.5v9.5h-9.5zM1108.1 4207.2h9.5v9.5h-9.5zM1073.6 3858.3h9.5v9.5h-9.5zM1169.6 4214.4h9.5v9.5h-9.5zM1140.4 4086.4h9.5v9.5h-9.5zM1148.2 4208.2h9.5v9.5h-9.5zM1112.9 4245.0h9.5v9.5h-9.5zM1104.7 4168.0h9.5v9.5h-9.5zM1121.0 4255.0h9.5v9.5h-9.5zM1048.2 3758.8h9.5v9.5h-9.5zM1172.0 4063.1h9.5v9.5h-9.5zM1128.3 4242.0h9.5v9.5h-9.5zM1087.5 4150.5h9.5v9.5h-9.5zM1147.7 4182.1h9.5v9.5h-9.5zM1087.5 4133.6h9.5v9.5h-9.5zM1191.7 3937.1h9.5v9.5h-9.5zM1163.5 4094.6h9.5v9.5h-9.5zM1122.9 4253.0h9.5v9.5h-9.5zM1144.9 4169.8h9.5v9.5h-9.5zM1119.8 4256.2h9.5v9.5h-9.5zM1109.7 4235.0h9.5v9.5h-9.5zM1114.7 4241.3h9.5v9.5h-9.5zM1076.6 4126.4h9.5v9.5h-9.5zM1122.2 4250.1h9.5v9.5h-9.5zM1051.6 3930.8h9.5v9.5h-9.5zM1190.1 4083.4h9.5v9.5h-9.5zM1079.4 4165.3h9.5v9.5h-9.5zM1093.4 4177.9h9.5v9.5h-9.5zM1068.9 4177.3h9.5v9.5h-9.5zM1142.2 4176.6h9.5v9.5h-9.5zM1040.5 3841.2h9.5v9.5h-9.5zM1109.3 4216.6h9.5v9.5h-9.5zM1159.2 3860.4h9.5v9.5h-9.5zM1097.2 4140.0h9.5v9.5h-9.5zM1124.0 4218.7h9.5v9.5h-9.5zM1114.1 4227.0h9.5v9.5h-9.5zM1171.1 3856.6h9.5v9.5h-9.5zM1079.1 4047.3h9.5v9.5h-9.5zM1072.7 4176.8h9.5v9.5h-9.5zM1128.0 4249.1h9.5v9.5h-9.5zM1105.3 4249.1h9.5v9.5h-9.5zM1004.1 3988.4h9.5v9.5h-9.5zM1110.0 4147.5h9.5v9.5h-9.5zM1112.3 4244.2h9.5v9.5h-9.5zM1101.2 4252.6h9.5v9.5h-9.5zM1104.2 4215.0h9.5v9.5h-9.5zM1186.1 4050.2h9.5v9.5h-9.5zM1181.6 4169.0h9.5v9.5h-9.5zM1001.0 3632.1h9.5v9.5h-9.5zM1177.6 3961.0h9.5v9.5h-9.5zM1111.3 4232.7h9.5v9.5h-9.5zM1150.6 4146.4h9.5v9.5h-9.5zM1088.4 4045.5h9.5v9.5h-9.5zM1293.7 4117.0h9.5v9.5h-9.5zM1125.4 4247.5h9.5v9.5h-9.5zM1184.7 3966.2h9.5v9.5h-9.5zM1197.0 4108.7h9.5v9.5h-9.5zM1121.0 4255.7h9.5v9.5h-9.5zM1058.0 4155.0h9.5v9.5h-9.5zM1129.4 4223.9h9.5v9.5h-9.5zM1141.0 4131.8h9.5v9.5h-9.5zM1143.9 4185.1h9.5v9.5h-9.5zM1137.8 4218.9h9.5v9.5h-9.5zM1185.5 4009.0h9.5v9.5h-9.5zM1201.3 3890.4h9.5v9.5h-9.5zM1060.7 3855.5h9.5v9.5h-9.5zM1157.3 3928.5h9.5v9.5h-9.5zM1135.1 4225.6h9.5v9.5h-9.5zM1138.0 4182.6h9.5v9.5h-9.5zM1194.2 4052.5h9.5v9.5h-9.5zM1022.2 3929.1h9.5v9.5h-9.5zM1166.5 4077.8h9.5v9.5h-9.5zM1139.3 4179.4h9.5v9.5h-9.5zM1054.0 4128.9h9.5v9.5h-9.5zM1183.8 3924.4h9.5v9.5h-9.5zM1113.8 4244.3h9.5v9.5h-9.5zM1017.8 3968.9h9.5v9.5h-9.5zM1148.6 4184.0h9.5v9.5h-9.5zM983.1 3819.4h9.5v9.5h-9.5zM1187.1 3885.8h9.5v9.5h-9.5zM1064.2 4242.3h9.5v9.5h-9.5zM1259.8 4039.3h9.5v9.5h-9.5zM1160.4 4196.9h9.5v9.5h-9.5zM1221.8 3858.5h9.5v9.5h-9.5zM947.0 4070.3h9.5v9.5h-9.5zM1042.1 4089.4h9.5v9.5h-9.5zM1150.8 4190.9h9.5v9.5h-9.5zM1127.9 4166.1h9.5v9.5h-9.5zM1107.9 4251.9h9.5v9.5h-9.5zM1208.4 3945.0h9.5v9.5h-9.5zM1109.2 4230.5h9.5v9.5h-9.5zM1101.5 4246.8h9.5v9.5h-9.5zM1249.2 4153.6h9.5v9.5h-9.5zM1053.8 4052.3h9.5v9.5h-9.5zM1094.1 4068.3h9.5v9.5h-9.5zM1104.1 4147.5h9.5v9.5h-9.5zM1153.6 4134.2h9.5v9.5h-9.5zM1025.0 3991.9h9.5v9.5h-9.5zM1069.9 4028.7h9.5v9.5h-9.5zM1208.2 4122.1h9.5v9.5h-9.5zM1144.3 4194.7h9.5v9.5h-9.5zM1194.7 4045.6h9.5v9.5h-9.5zM1085.1 4232.7h9.5v9.5h-9.5zM1153.9 4053.2h9.5v9.5h-9.5zM1081.7 4030.6h9.5v9.5h-9.5zM1132.8 4251.0h9.5v9.5h-9.5zM1133.0 4220.4h9.5v9.5h-9.5zM1065.5 4000.0h9.5v9.5h-9.5zM1019.3 3774.9h9.5v9.5h-9.5zM1093.2 4003.0h9.5v9.5h-9.5zM1135.2 4214.7h9.5v9.5h-9.5zM1054.4 4049.2h9.5v9.5h-9.5zM1124.5 4250.1h9.5v9.5h-9.5zM945.7 3844.2h9.5v9.5h-9.5zM1087.6 4075.4h9.5v9.5h-9.5zM1074.2 3850.0h9.5v9.5h-9.5zM1008.1 3893.5h9.5v9.5h-9.5zM1230.3 4042.1h9.5v9.5h-9.5zM1084.3 4119.2h9.5v9.5h-9.5zM1278.4 4103.1h9.5v9.5h-9.5zM1135.3 4222.6h9.5v9.5h-9.5zM1053.2 3978.1h9.5v9.5h-9.5zM1093.2 4210.9h9.5v9.5h-9.5zM1109.2 4207.1h9.5v9.5h-9.5zM1148.7 4175.9h9.5v9.5h-9.5zM987.9 4038.6h9.5v9.5h-9.5zM1103.6 4197.7h9.5v9.5h-9.5zM1106.1 4233.2h9.5v9.5h-9.5zM1180.1 3860.0h9.5v9.5h-9.5zM1110.9 4246.4h9.5v9.5h-9.5zM1143.7 4122.4h9.5v9.5h-9.5zM1099.8 4167.5h9.5v9.5h-9.5zM1128.2 4243.8h9.5v9.5h-9.5zM1117.2 4250.7h9.5v9.5h-9.5zM1036.9 3722.6h9.5v9.5h-9.5zM1087.6 4026.0h9.5v9.5h-9.5zM985.6 4183.5h9.5v9.5h-9.5zM1096.5 4085.3h9.5v9.5h-9.5zM1080.6 4143.4h9.5v9.5h-9.5zM1129.7 4210.1h9.5v9.5h-9.5zM1091.0 4224.9h9.5v9.5h-9.5zM1025.9 3620.7h9.5v9.5h-9.5zM1160.5 3899.1h9.5v9.5h-9.5zM1117.4 4250.5h9.5v9.5h-9.5zM1177.7 4136.4h9.5v9.5h-9.5zM1024.1 3854.0h9.5v9.5h-9.5zM1119.7 4256.1h9.5v9.5h-9.5zM1154.0 4054.1h9.5v9.5h-9.5zM1098.7 4109.5h9.5v9.5h-9.5zM1134.7 4203.1h9.5v9.5h-9.5zM1083.8 4115.0h9.5v9.5h-9.5zM1006.2 3911.2h9.5v9.5h-9.5zM1048.3 4134.8h9.5v9.5h-9.5zM1098.7 4205.8h9.5v9.5h-9.5zM1147.3 4209.0h9.5v9.5h-9.5zM1064.9 3985.5h9.5v9.5h-9.5zM1140.7 4205.2h9.5v9.5h-9.5zM1080.1 4121.0h9.5v9.5h-9.5zM1105.6 4207.1h9.5v9.5h-9.5zM1103.8 4142.4h9.5v9.5h-9.5zM1083.8 4227.4h9.5v9.5h-9.5zM1152.4 4099.0h9.5v9.5h-9.5zM1083.4 3911.2h9.5v9.5h-9.5zM1236.7 4154.4h9.5v9.5h-9.5zM1169.9 3957.5h9.5v9.5h-9.5zM1076.9 4156.7h9.5v9.5h-9.5zM1126.0 4229.1h9.5v9.5h-9.5zM1057.2 4151.0h9.5v9.5h-9.5zM1102.4 4224.6h9.5v9.5h-9.5zM1173.5 4163.3h9.5v9.5h-9.5zM1122.6 4253.7h9.5v9.5h-9.5zM1111.2 4132.2h9.5v9.5h-9.5zM1244.1 4102.1h9.5v9.5h-9.5zM1088.5 4076.8h9.5v9.5h-9.5zM1157.7 4227.2h9.5v9.5h-9.5zM1197.7 3917.0h9.5v9.5h-9.5zM1190.8 3895.3h9.5v9.5h-9.5zM1059.2 3652.7h9.5v9.5h-9.5zM1075.1 3989.8h9.5v9.5h-9.5zM1025.1 4138.0h9.5v9.5h-9.5zM955.7 3791.6h9.5v9.5h-9.5zM1069.4 4172.1h9.5v9.5h-9.5zM1088.6 3986.8h9.5v9.5h-9.5zM1105.3 4238.0h9.5v9.5h-9.5zM1141.6 4196.4h9.5v9.5h-9.5zM1187.1 4136.6h9.5v9.5h-9.5zM1143.3 4191.5h9.5v9.5h-9.5zM1106.8 4238.6h9.5v9.5h-9.5zM1104.3 4183.6h9.5v9.5h-9.5zM1183.6 4054.9h9.5v9.5h-9.5zM1136.9 4236.0h9.5v9.5h-9.5zM993.7 4166.4h9.5v9.5h-9.5zM1027.0 3855.3h9.5v9.5h-9.5zM1117.5 4242.3h9.5v9.5h-9.5zM966.1 3857.9h9.5v9.5h-9.5zM1203.4 4055.7h9.5v9.5h-9.5zM1102.1 4202.8h9.5v9.5h-9.5zM1110.8 4215.3h9.5v9.5h-9.5zM1073.2 4109.6h9.5v9.5h-9.5zM1195.5 3860.4h9.5v9.5h-9.5zM1028.2 3975.2h9.5v9.5h-9.5zM1104.3 4148.5h9.5v9.5h-9.5zM1128.9 4238.0h9.5v9.5h-9.5zM1147.6 4180.2h9.5v9.5h-9.5zM1090.3 4176.3h9.5v9.5h-9.5zM1159.8 4089.9h9.5v9.5h-9.5zM1081.6 4104.0h9.5v9.5h-9.5zM1122.4 4254.1h9.5v9.5h-9.5zM1105.2 4231.6h9.5v9.5h-9.5zM1120.5 4255.4h9.5v9.5h-9.5zM1169.0 3942.7h9.5v9.5h-9.5zM1153.5 4106.8h9.5v9.5h-9.5zM1106.2 4217.9h9.5v9.5h-9.5zM1158.1 4199.6h9.5v9.5h-9.5zM1061.4 3891.1h9.5v9.5h-9.5zM1211.1 3913.3h9.5v9.5h-9.5zM1074.4 4118.6h9.5v9.5h-9.5zM1136.6 4201.3h9.5v9.5h-9.5zM1178.9 4021.0h9.5v9.5h-9.5zM1127.3 4248.5h9.5v9.5h-9.5zM1168.7 4042.7h9.5v9.5h-9.5zM1048.2 3750.0h9.5v9.5h-9.5zM1018.7 3909.0h9.5v9.5h-9.5zM1176.1 4162.8h9.5v9.5h-9.5zM1126.8 4228.5h9.5v9.5h-9.5zM1114.9 4245.7h9.5v9.5h-9.5zM1062.3 4067.3h9.5v9.5h-9.5zM1132.1 4242.9h9.5v9.5h-9.5zM1029.6 3775.6h9.5v9.5h-9.5zM1076.1 3951.8h9.5v9.5h-9.5zM1056.9 3998.5h9.5v9.5h-9.5zM1164.1 3979.1h9.5v9.5h-9.5zM1089.8 4222.8h9.5v9.5h-9.5zM1073.0 4069.5h9.5v9.5h-9.5zM1220.9 4166.3h9.5v9.5h-9.5zM1215.0 4133.4h9.5v9.5h-9.5zM1068.4 3973.0h9.5v9.5h-9.5zM1013.9 3768.1h9.5v9.5h-9.5zM1123.7 4252.4h9.5v9.5h-9.5zM1083.6 4164.3h9.5v9.5h-9.5zM1125.9 4248.4h9.5v9.5h-9.5zM1074.2 4073.8h9.5v9.5h-9.5zM1183.7 4058.3h9.5v9.5h-9.5zM1151.0 4213.7h9.5v9.5h-9.5zM1135.3 4165.9h9.5v9.5h-9.5zM1146.1 4009.7h9.5v9.5h-9.5zM1073.0 4124.7h9.5v9.5h-9.5zM1162.5 4134.0h9.5v9.5h-9.5zM1088.3 4029.8h9.5v9.5h-9.5zM1147.0 4191.5h9.5v9.5h-9.5zM1085.1 4031.3h9.5v9.5h-9.5zM1105.6 4187.6h9.5v9.5h-9.5zM1024.9 3767.1h9.5v9.5h-9.5zM1087.7 4102.5h9.5v9.5h-9.5zM1130.4 4181.5h9.5v9.5h-9.5zM1093.4 4231.3h9.5v9.5h-9.5zM1043.6 4051.7h9.5v9.5h-9.5zM1030.8 4175.1h9.5v9.5h-9.5zM1126.9 4254.1h9.5v9.5h-9.5zM1181.0 4121.9h9.5v9.5h-9.5zM1093.9 4214.0h9.5v9.5h-9.5zM1042.4 3766.8h9.5v9.5h-9.5zM991.5 3685.6h9.5v9.5h-9.5zM1054.0 4114.8h9.5v9.5h-9.5zM1130.7 4234.3h9.5v9.5h-9.5zM1064.1 3951.7h9.5v9.5h-9.5zM1118.0 4248.8h9.5v9.5h-9.5zM1118.8 4253.9h9.5v9.5h-9.5zM1065.9 3761.4h9.5v9.5h-9.5zM1180.0 4100.3h9.5v9.5h-9.5zM1144.5 4178.6h9.5v9.5h-9.5zM1149.0 4121.0h9.5v9.5h-9.5zM1098.4 4188.3h9.5v9.5h-9.5zM1134.8 4172.2h9.5v9.5h-9.5zM1072.5 4173.5h9.5v9.5h-9.5zM1061.2 4096.7h9.5v9.5h-9.5zM1049.3 3987.5h9.5v9.5h-9.5zM1023.1 3788.5h9.5v9.5h-9.5zM1147.2 4140.5h9.5v9.5h-9.5zM1071.3 4122.4h9.5v9.5h-9.5zM1057.5 3750.4h9.5v9.5h-9.5zM1184.5 3949.7h9.5v9.5h-9.5zM1183.6 3961.0h9.5v9.5h-9.5zM1173.0 4212.8h9.5v9.5h-9.5zM1066.4 4149.5h9.5v9.5h-9.5zM1148.4 4022.6h9.5v9.5h-9.5zM1164.3 4065.4h9.5v9.5h-9.5zM1064.9 3984.6h9.5v9.5h-9.5zM1087.4 4120.9h9.5v9.5h-9.5zM1154.8 4192.5h9.5v9.5h-9.5zM1073.7 4090.4h9.5v9.5h-9.5zM1083.6 4033.3h9.5v9.5h-9.5zM1131.1 4168.4h9.5v9.5h-9.5zM976.9 3921.5h9.5v9.5h-9.5zM1114.5 4226.1h9.5v9.5h-9.5zM1192.8 4046.8h9.5v9.5h-9.5zM1157.2 3901.4h9.5v9.5h-9.5zM1182.3 4080.9h9.5v9.5h-9.5zM1210.4 4080.4h9.5v9.5h-9.5zM990.7 3611.6h9.5v9.5h-9.5zM1117.6 4251.9h9.5v9.5h-9.5zM1184.1 4129.3h9.5v9.5h-9.5zM1131.4 4178.4h9.5v9.5h-9.5zM1173.6 4038.8h9.5v9.5h-9.5zM1140.3 4134.3h9.5v9.5h-9.5zM1071.3 4087.4h9.5v9.5h-9.5zM1184.2 3949.5h9.5v9.5h-9.5zM1096.0 4165.2h9.5v9.5h-9.5zM1108.5 4074.3h9.5v9.5h-9.5zM1131.0 4246.8h9.5v9.5h-9.5zM1038.3 3960.7h9.5v9.5h-9.5zM1124.4 4238.8h9.5v9.5h-9.5zM1031.5 4091.7h9.5v9.5h-9.5zM1065.4 3997.5h9.5v9.5h-9.5zM1086.3 4055.9h9.5v9.5h-9.5zM1120.2 4257.2h9.5v9.5h-9.5zM1119.6 4256.0h9.5v9.5h-9.5zM1126.0 4233.3h9.5v9.5h-9.5zM1084.9 4167.4h9.5v9.5h-9.5zM1166.4 4162.2h9.5v9.5h-9.5zM1226.7 3965.0h9.5v9.5h-9.5zM1166.1 4072.2h9.5v9.5h-9.5zM1106.9 4195.7h9.5v9.5h-9.5zM1182.2 4059.0h9.5v9.5h-9.5zM1118.3 4252.8h9.5v9.5h-9.5zM967.9 3777.8h9.5v9.5h-9.5zM1101.6 4227.1h9.5v9.5h-9.5zM1039.4 3874.6h9.5v9.5h-9.5zM1153.9 3899.2h9.5v9.5h-9.5zM977.6 4077.4h9.5v9.5h-9.5zM1063.8 3822.0h9.5v9.5h-9.5zM1133.0 4205.2h9.5v9.5h-9.5zM1074.7 4051.9h9.5v9.5h-9.5zM1192.1 3855.8h9.5v9.5h-9.5zM1055.7 3829.9h9.5v9.5h-9.5zM1082.6 4022.4h9.5v9.5h-9.5zM1081.3 4189.3h9.5v9.5h-9.5zM1202.6 4049.0h9.5v9.5h-9.5zM1129.2 4237.1h9.5v9.5h-9.5zM1054.5 4052.9h9.5v9.5h-9.5zM1180.0 4013.0h9.5v9.5h-9.5zM1149.7 3999.5h9.5v9.5h-9.5zM1106.7 4225.8h9.5v9.5h-9.5zM963.7 3858.5h9.5v9.5h-9.5zM991.0 3955.4h9.5v9.5h-9.5zM1156.6 4016.5h9.5v9.5h-9.5zM1096.4 4176.1h9.5v9.5h-9.5zM1169.8 4005.5h9.5v9.5h-9.5zM1106.5 4199.6h9.5v9.5h-9.5zM1161.5 4134.2h9.5v9.5h-9.5zM1184.2 3914.1h9.5v9.5h-9.5zM1202.4 4101.9h9.5v9.5h-9.5zM1112.4 4248.9h9.5v9.5h-9.5zM1111.4 4230.4h9.5v9.5h-9.5zM1222.6 4041.2h9.5v9.5h-9.5zM1102.3 4141.5h9.5v9.5h-9.5zM1143.8 4214.7h9.5v9.5h-9.5zM1057.1 3889.6h9.5v9.5h-9.5zM1092.7 4160.8h9.5v9.5h-9.5zM1117.9 4252.8h9.5v9.5h-9.5zM973.9 4056.2h9.5v9.5h-9.5zM1166.5 3960.8h9.5v9.5h-9.5zM1075.1 3924.4h9.5v9.5h-9.5zM1105.6 4190.3h9.5v9.5h-9.5zM1179.6 4077.1h9.5v9.5h-9.5zM1104.7 4193.5h9.5v9.5h-9.5zM1187.8 3932.8h9.5v9.5h-9.5zM1028.9 4152.7h9.5v9.5h-9.5zM1034.7 3960.0h9.5v9.5h-9.5zM1142.2 4121.5h9.5v9.5h-9.5zM1155.4 4006.6h9.5v9.5h-9.5zM1050.0 3866.1h9.5v9.5h-9.5zM1091.2 4072.8h9.5v9.5h-9.5zM1064.5 4005.9h9.5v9.5h-9.5zM1149.0 4205.9h9.5v9.5h-9.5zM1153.0 4063.2h9.5v9.5h-9.5zM1094.2 4200.5h9.5v9.5h-9.5zM1195.6 4001.6h9.5v9.5h-9.5zM1142.0 4152.3h9.5v9.5h-9.5zM1165.1 4164.8h9.5v9.5h-9.5zM1072.5 4163.6h9.5v9.5h-9.5zM1132.1 4148.6h9.5v9.5h-9.5zM1168.9 4175.1h9.5v9.5h-9.5zM1127.1 4214.3h9.5v9.5h-9.5zM1117.0 4242.0h9.5v9.5h-9.5zM1082.3 3999.7h9.5v9.5h-9.5zM1126.5 4242.3h9.5v9.5h-9.5zM1189.8 3896.7h9.5v9.5h-9.5zM1131.4 4163.5h9.5v9.5h-9.5zM1047.9 3775.5h9.5v9.5h-9.5zM1162.8 4050.6h9.5v9.5h-9.5zM1185.5 3889.0h9.5v9.5h-9.5zM1034.5 3933.6h9.5v9.5h-9.5zM1187.7 4075.9h9.5v9.5h-9.5zM1114.6 4250.3h9.5v9.5h-9.5zM1075.8 4231.5h9.5v9.5h-9.5zM1193.7 3862.2h9.5v9.5h-9.5zM1118.5 4254.8h9.5v9.5h-9.5zM1086.5 3907.7h9.5v9.5h-9.5zM1068.3 4158.5h9.5v9.5h-9.5zM1037.1 3884.2h9.5v9.5h-9.5zM1126.3 4238.4h9.5v9.5h-9.5zM1155.2 4011.5h9.5v9.5h-9.5zM1137.3 4190.4h9.5v9.5h-9.5zM1080.2 4026.1h9.5v9.5h-9.5zM1072.1 4007.3h9.5v9.5h-9.5zM1135.3 4175.2h9.5v9.5h-9.5zM1132.8 4190.0h9.5v9.5h-9.5zM1126.9 4192.2h9.5v9.5h-9.5zM1178.6 3897.2h9.5v9.5h-9.5zM1169.4 3881.9h9.5v9.5h-9.5zM1104.1 4225.4h9.5v9.5h-9.5zM1209.6 4094.0h9.5v9.5h-9.5zM1118.6 4255.7h9.5v9.5h-9.5zM1205.5 4061.4h9.5v9.5h-9.5zM1101.5 4209.3h9.5v9.5h-9.5zM1124.9 4233.0h9.5v9.5h-9.5zM1169.3 4177.3h9.5v9.5h-9.5zM1228.9 4057.9h9.5v9.5h-9.5zM1182.4 4086.4h9.5v9.5h-9.5zM1142.6 3967.4h9.5v9.5h-9.5zM1127.7 4244.3h9.5v9.5h-9.5zM991.8 3991.4h9.5v9.5h-9.5zM1022.3 3738.8h9.5v9.5h-9.5zM1110.8 4240.1h9.5v9.5h-9.5zM1008.7 3986.0h9.5v9.5h-9.5zM1086.1 4148.4h9.5v9.5h-9.5zM1081.6 4187.1h9.5v9.5h-9.5zM1031.2 4027.2h9.5v9.5h-9.5zM1152.5 4105.6h9.5v9.5h-9.5zM1130.5 4235.4h9.5v9.5h-9.5zM1015.5 4021.3h9.5v9.5h-9.5zM1167.3 4100.0h9.5v9.5h-9.5zM1025.9 4081.1h9.5v9.5h-9.5zM1154.7 4029.6h9.5v9.5h-9.5zM1027.5 3803.5h9.5v9.5h-9.5zM1139.5 4193.4h9.5v9.5h-9.5zM1086.1 3924.1h9.5v9.5h-9.5zM1139.8 4128.0h9.5v9.5h-9.5zM1199.1 4050.7h9.5v9.5h-9.5zM1104.1 4108.3h9.5v9.5h-9.5zM1060.0 4106.6h9.5v9.5h-9.5zM1036.1 4107.3h9.5v9.5h-9.5zM1084.8 4206.9h9.5v9.5h-9.5zM966.6 3892.4h9.5v9.5h-9.5zM1100.9 4124.7h9.5v9.5h-9.5zM1094.7 4110.3h9.5v9.5h-9.5zM1039.7 4101.9h9.5v9.5h-9.5zM1124.0 4249.6h9.5v9.5h-9.5zM1039.5 3807.6h9.5v9.5h-9.5zM1093.1 4191.8h9.5v9.5h-9.5zM1236.6 3551.4h9.5v9.5h-9.5zM1122.5 4241.6h9.5v9.5h-9.5zM1100.7 4040.0h9.5v9.5h-9.5zM1133.7 4232.2h9.5v9.5h-9.5zM1172.1 4166.7h9.5v9.5h-9.5zM1168.9 4182.7h9.5v9.5h-9.5zM1052.0 3992.5h9.5v9.5h-9.5zM1168.9 3923.4h9.5v9.5h-9.5zM1126.8 4242.4h9.5v9.5h-9.5zM1081.1 4222.9h9.5v9.5h-9.5zM1220.3 4184.4h9.5v9.5h-9.5zM1095.7 4133.9h9.5v9.5h-9.5zM1147.7 4038.7h9.5v9.5h-9.5zM1088.6 4042.0h9.5v9.5h-9.5zM1197.9 4011.1h9.5v9.5h-9.5zM1149.3 4177.9h9.5v9.5h-9.5zM957.3 4108.9h9.5v9.5h-9.5zM1085.8 4068.7h9.5v9.5h-9.5zM1216.5 3986.8h9.5v9.5h-9.5zM1067.0 4170.4h9.5v9.5h-9.5zM1113.2 4239.2h9.5v9.5h-9.5zM1141.8 4100.8h9.5v9.5h-9.5zM1083.8 4195.4h9.5v9.5h-9.5zM1081.8 4154.4h9.5v9.5h-9.5zM1142.6 4166.0h9.5v9.5h-9.5zM1098.9 4015.7h9.5v9.5h-9.5zM1136.5 4158.4h9.5v9.5h-9.5zM1167.6 4039.4h9.5v9.5h-9.5zM1277.1 4205.4h9.5v9.5h-9.5zM1213.1 4199.9h9.5v9.5h-9.5zM1164.9 4143.0h9.5v9.5h-9.5zM1149.4 4182.6h9.5v9.5h-9.5zM1110.6 4221.3h9.5v9.5h-9.5zM1027.4 3578.9h9.5v9.5h-9.5zM1170.6 3878.7h9.5v9.5h-9.5zM1118.9 4256.3h9.5v9.5h-9.5zM1164.4 4032.0h9.5v9.5h-9.5zM1116.5 4239.4h9.5v9.5h-9.5zM1138.7 4230.0h9.5v9.5h-9.5zM1120.3 4256.8h9.5v9.5h-9.5zM1150.5 4171.5h9.5v9.5h-9.5zM1129.5 4189.6h9.5v9.5h-9.5zM1078.3 4012.5h9.5v9.5h-9.5zM1040.7 4090.6h9.5v9.5h-9.5zM1065.6 4107.1h9.5v9.5h-9.5zM1099.3 4121.6h9.5v9.5h-9.5zM1051.1 3777.4h9.5v9.5h-9.5zM1094.6 4214.0h9.5v9.5h-9.5zM1265.7 3951.0h9.5v9.5h-9.5zM1116.3 4250.5h9.5v9.5h-9.5zM1137.2 4119.4h9.5v9.5h-9.5zM1127.4 4253.9h9.5v9.5h-9.5zM1187.7 4073.3h9.5v9.5h-9.5zM1095.3 4017.3h9.5v9.5h-9.5zM1229.7 4018.3h9.5v9.5h-9.5zM1192.8 4032.4h9.5v9.5h-9.5zM1113.6 4255.3h9.5v9.5h-9.5zM981.5 3943.9h9.5v9.5h-9.5zM1100.2 4143.8h9.5v9.5h-9.5zM1175.9 3860.1h9.5v9.5h-9.5zM1171.4 4107.5h9.5v9.5h-9.5zM1069.4 3734.8h9.5v9.5h-9.5zM1110.2 4244.5h9.5v9.5h-9.5zM1152.1 4139.3h9.5v9.5h-9.5zM1164.8 4059.6h9.5v9.5h-9.5zM1107.5 4240.4h9.5v9.5h-9.5zM1085.8 3949.1h9.5v9.5h-9.5zM1125.5 4246.8h9.5v9.5h-9.5zM1093.0 4047.6h9.5v9.5h-9.5zM1109.8 4245.4h9.5v9.5h-9.5zM1087.2 4175.8h9.5v9.5h-9.5zM1099.7 4236.7h9.5v9.5h-9.5zM1130.0 4230.6h9.5v9.5h-9.5zM1108.3 4248.5h9.5v9.5h-9.5zM1063.4 4022.0h9.5v9.5h-9.5zM1114.5 4227.2h9.5v9.5h-9.5zM1172.2 4077.8h9.5v9.5h-9.5zM1192.7 4069.3h9.5v9.5h-9.5zM1162.9 4028.2h9.5v9.5h-9.5zM1157.3 4237.8h9.5v9.5h-9.5zM1088.1 3998.2h9.5v9.5h-9.5zM1058.5 3814.4h9.5v9.5h-9.5zM948.6 3927.5h9.5v9.5h-9.5zM1168.8 4215.2h9.5v9.5h-9.5zM1091.9 4149.3h9.5v9.5h-9.5zM1177.3 3966.6h9.5v9.5h-9.5zM1071.6 4234.5h9.5v9.5h-9.5zM1155.0 4158.1h9.5v9.5h-9.5zM1161.4 4017.2h9.5v9.5h-9.5zM1078.5 4123.4h9.5v9.5h-9.5zM1096.1 4195.8h9.5v9.5h-9.5zM1088.3 3957.4h9.5v9.5h-9.5zM1078.4 4152.1h9.5v9.5h-9.5zM1108.9 4078.4h9.5v9.5h-9.5zM1085.7 3984.3h9.5v9.5h-9.5zM1119.1 4250.9h9.5v9.5h-9.5zM1089.2 4245.4h9.5v9.5h-9.5zM1157.0 4186.5h9.5v9.5h-9.5zM1148.1 4008.3h9.5v9.5h-9.5zM1039.6 3528.7h9.5v9.5h-9.5zM1253.2 3867.7h9.5v9.5h-9.5zM1187.5 4190.5h9.5v9.5h-9.5zM1169.9 4113.8h9.5v9.5h-9.5zM1165.3 4162.8h9.5v9.5h-9.5zM1163.3 4168.9h9.5v9.5h-9.5zM1111.9 4206.9h9.5v9.5h-9.5zM1086.5 3969.0h9.5v9.5h-9.5zM1121.7 4252.9h9.5v9.5h-9.5zM1094.0 3985.0h9.5v9.5h-9.5zM1152.9 4180.1h9.5v9.5h-9.5zM1144.9 4061.2h9.5v9.5h-9.5zM1099.7 4168.0h9.5v9.5h-9.5zM1202.3 4100.7h9.5v9.5h-9.5zM1146.9 4170.0h9.5v9.5h-9.5zM1170.0 4189.0h9.5v9.5h-9.5zM1163.6 4009.5h9.5v9.5h-9.5zM1174.3 4107.3h9.5v9.5h-9.5zM1048.7 3944.6h9.5v9.5h-9.5zM1101.9 4048.7h9.5v9.5h-9.5zM1032.0 3724.4h9.5v9.5h-9.5zM1197.0 4050.4h9.5v9.5h-9.5zM1139.5 4216.3h9.5v9.5h-9.5zM1148.8 4137.0h9.5v9.5h-9.5zM1152.2 4064.6h9.5v9.5h-9.5zM1083.0 4167.8h9.5v9.5h-9.5zM1198.4 3924.8h9.5v9.5h-9.5zM1167.5 3968.4h9.5v9.5h-9.5zM1170.2 4049.6h9.5v9.5h-9.5zM1051.1 4086.8h9.5v9.5h-9.5zM1111.1 4242.5h9.5v9.5h-9.5zM1122.9 4254.4h9.5v9.5h-9.5zM1250.4 3902.3h9.5v9.5h-9.5zM1089.5 4049.7h9.5v9.5h-9.5zM1147.2 4190.8h9.5v9.5h-9.5zM1108.3 4251.9h9.5v9.5h-9.5zM1116.6 4247.7h9.5v9.5h-9.5zM1056.0 3584.7h9.5v9.5h-9.5zM1061.4 4121.5h9.5v9.5h-9.5zM1163.4 4033.0h9.5v9.5h-9.5zM1181.4 4031.8h9.5v9.5h-9.5zM1067.6 4109.6h9.5v9.5h-9.5zM1092.1 4081.5h9.5v9.5h-9.5zM1126.8 4242.3h9.5v9.5h-9.5zM1071.1 4064.7h9.5v9.5h-9.5zM1051.4 3667.3h9.5v9.5h-9.5zM1146.4 4101.3h9.5v9.5h-9.5zM1109.7 4164.9h9.5v9.5h-9.5zM1111.2 4228.8h9.5v9.5h-9.5zM1193.2 4057.0h9.5v9.5h-9.5zM1162.6 3940.1h9.5v9.5h-9.5zM1048.7 4089.9h9.5v9.5h-9.5zM1113.3 4250.7h9.5v9.5h-9.5zM1173.7 4015.2h9.5v9.5h-9.5zM1125.9 4234.6h9.5v9.5h-9.5zM1043.6 4012.3h9.5v9.5h-9.5zM1125.6 4243.5h9.5v9.5h-9.5zM1080.4 4171.5h9.5v9.5h-9.5zM1147.1 4192.8h9.5v9.5h-9.5zM1059.4 3878.4h9.5v9.5h-9.5zM1160.7 4144.3h9.5v9.5h-9.5zM1192.8 3951.3h9.5v9.5h-9.5zM1144.1 3991.6h9.5v9.5h-9.5zM1220.2 3901.5h9.5v9.5h-9.5zM1081.2 4210.2h9.5v9.5h-9.5zM1076.0 4154.9h9.5v9.5h-9.5zM1073.7 4148.7h9.5v9.5h-9.5zM1033.1 3938.5h9.5v9.5h-9.5zM1145.4 4226.0h9.5v9.5h-9.5zM1074.3 3897.2h9.5v9.5h-9.5zM1067.0 4073.6h9.5v9.5h-9.5zM1140.3 4213.7h9.5v9.5h-9.5zM1171.5 4052.9h9.5v9.5h-9.5zM1111.4 4231.0h9.5v9.5h-9.5zM1123.2 4245.4h9.5v9.5h-9.5zM1107.6 4216.7h9.5v9.5h-9.5zM1013.8 3759.9h9.5v9.5h-9.5zM1067.8 4213.5h9.5v9.5h-9.5zM1137.4 4186.6h9.5v9.5h-9.5zM1145.2 4205.4h9.5v9.5h-9.5zM1086.9 4193.8h9.5v9.5h-9.5zM1154.1 4208.6h9.5v9.5h-9.5zM1136.0 4234.1h9.5v9.5h-9.5zM1196.1 4134.5h9.5v9.5h-9.5zM1224.4 3881.1h9.5v9.5h-9.5zM1186.4 3907.3h9.5v9.5h-9.5zM1124.4 4230.1h9.5v9.5h-9.5zM1116.4 4240.4h9.5v9.5h-9.5zM1063.4 4011.0h9.5v9.5h-9.5zM1134.1 4241.3h9.5v9.5h-9.5zM1009.5 3781.4h9.5v9.5h-9.5zM1103.6 4237.0h9.5v9.5h-9.5zM1199.1 4015.0h9.5v9.5h-9.5zM1100.7 4207.1h9.5v9.5h-9.5zM1154.1 4140.0h9.5v9.5h-9.5zM1099.7 4219.4h9.5v9.5h-9.5zM1108.9 4185.1h9.5v9.5h-9.5zM1144.6 4076.0h9.5v9.5h-9.5zM1073.8 3963.4h9.5v9.5h-9.5zM1072.9 4115.3h9.5v9.5h-9.5zM1123.2 4252.1h9.5v9.5h-9.5zM1149.4 4132.0h9.5v9.5h-9.5zM1169.1 3953.0h9.5v9.5h-9.5zM1111.0 4238.2h9.5v9.5h-9.5zM1155.2 4126.3h9.5v9.5h-9.5zM1026.8 3925.4h9.5v9.5h-9.5zM1098.4 4250.3h9.5v9.5h-9.5zM1093.5 4135.6h9.5v9.5h-9.5zM1141.1 4210.0h9.5v9.5h-9.5zM1011.2 3670.0h9.5v9.5h-9.5zM1073.1 4042.1h9.5v9.5h-9.5zM1051.4 3730.5h9.5v9.5h-9.5zM1179.6 4026.3h9.5v9.5h-9.5zM1107.8 4250.9h9.5v9.5h-9.5zM1080.0 4092.8h9.5v9.5h-9.5zM1214.9 3964.5h9.5v9.5h-9.5zM1162.2 4084.8h9.5v9.5h-9.5zM1116.4 4248.4h9.5v9.5h-9.5zM1181.2 4135.9h9.5v9.5h-9.5zM1041.4 4091.1h9.5v9.5h-9.5zM1017.3 3708.0h9.5v9.5h-9.5zM1039.4 3631.2h9.5v9.5h-9.5zM1206.0 4067.6h9.5v9.5h-9.5zM1151.0 4169.9h9.5v9.5h-9.5zM1123.5 4248.0h9.5v9.5h-9.5zM1108.7 4235.9h9.5v9.5h-9.5zM1213.4 4021.4h9.5v9.5h-9.5zM1077.0 4039.6h9.5v9.5h-9.5zM1141.1 4082.7h9.5v9.5h-9.5zM1020.1 4028.3h9.5v9.5h-9.5zM1083.0 4000.7h9.5v9.5h-9.5zM1076.9 4168.9h9.5v9.5h-9.5zM1071.3 3812.9h9.5v9.5h-9.5zM1017.9 3746.2h9.5v9.5h-9.5zM1113.5 4241.9h9.5v9.5h-9.5zM1071.7 4146.1h9.5v9.5h-9.5zM1150.7 4190.5h9.5v9.5h-9.5zM1097.0 4218.8h9.5v9.5h-9.5zM1108.3 4219.5h9.5v9.5h-9.5zM1231.1 3900.3h9.5v9.5h-9.5zM972.9 3859.3h9.5v9.5h-9.5zM1149.7 4149.7h9.5v9.5h-9.5zM1070.6 3958.0h9.5v9.5h-9.5zM1124.2 4242.2h9.5v9.5h-9.5zM1138.1 4135.0h9.5v9.5h-9.5zM1204.1 4075.2h9.5v9.5h-9.5zM1069.6 4038.7h9.5v9.5h-9.5zM1099.5 4170.4h9.5v9.5h-9.5zM1100.8 4224.6h9.5v9.5h-9.5zM1119.0 4255.0h9.5v9.5h-9.5zM1098.1 4153.1h9.5v9.5h-9.5zM1173.1 4061.4h9.5v9.5h-9.5zM1102.4 4211.1h9.5v9.5h-9.5zM1040.5 3731.7h9.5v9.5h-9.5zM1181.2 3943.5h9.5v9.5h-9.5zM1110.0 4201.6h9.5v9.5h-9.5zM1111.0 4243.0h9.5v9.5h-9.5zM1252.9 4047.3h9.5v9.5h-9.5zM1176.0 4043.7h9.5v9.5h-9.5zM1077.0 4126.7h9.5v9.5h-9.5zM1194.6 4110.4h9.5v9.5h-9.5zM1118.6 4249.6h9.5v9.5h-9.5zM1136.2 4216.6h9.5v9.5h-9.5zM1053.6 4040.7h9.5v9.5h-9.5zM1108.6 4223.4h9.5v9.5h-9.5zM1260.2 4038.3h9.5v9.5h-9.5zM1181.6 4154.0h9.5v9.5h-9.5zM1093.8 3954.5h9.5v9.5h-9.5zM1142.3 4212.8h9.5v9.5h-9.5zM1280.6 4035.7h9.5v9.5h-9.5zM997.1 4127.1h9.5v9.5h-9.5zM1170.5 3936.5h9.5v9.5h-9.5zM1072.8 4033.7h9.5v9.5h-9.5zM1281.7 3935.4h9.5v9.5h-9.5zM1130.7 4230.8h9.5v9.5h-9.5zM1107.9 4246.7h9.5v9.5h-9.5zM1044.7 4101.6h9.5v9.5h-9.5zM1171.8 4008.0h9.5v9.5h-9.5zM1014.7 3871.5h9.5v9.5h-9.5zM1018.1 3962.2h9.5v9.5h-9.5zM1076.0 3934.0h9.5v9.5h-9.5zM1118.7 4254.7h9.5v9.5h-9.5zM1174.9 4159.5h9.5v9.5h-9.5zM1091.7 4156.5h9.5v9.5h-9.5zM1063.4 4088.1h9.5v9.5h-9.5zM1112.4 4242.4h9.5v9.5h-9.5zM1077.5 3792.2h9.5v9.5h-9.5zM1121.8 4252.3h9.5v9.5h-9.5zM1086.7 4204.2h9.5v9.5h-9.5zM1138.9 4180.1h9.5v9.5h-9.5zM1099.3 4199.7h9.5v9.5h-9.5zM1139.2 4236.1h9.5v9.5h-9.5zM1077.0 4051.5h9.5v9.5h-9.5zM1036.3 3915.1h9.5v9.5h-9.5zM1102.4 4234.8h9.5v9.5h-9.5zM1040.6 4034.4h9.5v9.5h-9.5zM1119.0 4254.6h9.5v9.5h-9.5zM1162.8 4175.8h9.5v9.5h-9.5zM1159.0 4158.7h9.5v9.5h-9.5zM1126.7 4234.8h9.5v9.5h-9.5zM1062.1 3960.3h9.5v9.5h-9.5zM1204.0 4096.0h9.5v9.5h-9.5zM1098.8 4166.6h9.5v9.5h-9.5zM1081.3 3941.2h9.5v9.5h-9.5zM1042.1 3855.0h9.5v9.5h-9.5zM1125.0 4243.6h9.5v9.5h-9.5zM1229.3 3944.7h9.5v9.5h-9.5zM1153.9 4106.1h9.5v9.5h-9.5zM1099.3 4180.8h9.5v9.5h-9.5zM1119.6 4254.0h9.5v9.5h-9.5zM1144.4 4120.8h9.5v9.5h-9.5zM1142.8 4050.3h9.5v9.5h-9.5zM1139.0 4221.0h9.5v9.5h-9.5zM1101.4 4098.7h9.5v9.5h-9.5zM1164.8 3942.5h9.5v9.5h-9.5zM1127.8 4251.3h9.5v9.5h-9.5zM1175.1 4036.8h9.5v9.5h-9.5zM1161.7 4027.8h9.5v9.5h-9.5zM1125.4 4250.7h9.5v9.5h-9.5zM1169.9 4044.2h9.5v9.5h-9.5zM1142.0 4211.6h9.5v9.5h-9.5zM1062.5 4000.6h9.5v9.5h-9.5zM1181.0 4085.5h9.5v9.5h-9.5zM1192.1 4011.5h9.5v9.5h-9.5zM1109.6 4174.0h9.5v9.5h-9.5zM1132.4 4230.9h9.5v9.5h-9.5zM1122.9 4247.7h9.5v9.5h-9.5zM1095.3 4235.7h9.5v9.5h-9.5zM1108.5 4121.4h9.5v9.5h-9.5zM1058.0 3774.3h9.5v9.5h-9.5zM1241.0 3883.4h9.5v9.5h-9.5zM1188.4 4132.6h9.5v9.5h-9.5zM1106.6 4166.3h9.5v9.5h-9.5zM1056.2 4158.0h9.5v9.5h-9.5zM1127.9 4227.3h9.5v9.5h-9.5zM1086.9 3994.9h9.5v9.5h-9.5zM1078.1 4000.2h9.5v9.5h-9.5zM1113.3 4241.2h9.5v9.5h-9.5zM1098.6 4096.1h9.5v9.5h-9.5zM1053.3 4007.7h9.5v9.5h-9.5zM1110.1 4237.6h9.5v9.5h-9.5zM1023.7 3853.6h9.5v9.5h-9.5zM1196.4 4036.8h9.5v9.5h-9.5zM947.3 3842.4h9.5v9.5h-9.5zM1174.3 4030.9h9.5v9.5h-9.5zM1188.2 3863.7h9.5v9.5h-9.5zM968.5 3870.5h9.5v9.5h-9.5zM1029.5 3880.8h9.5v9.5h-9.5zM1179.7 3979.2h9.5v9.5h-9.5zM1219.7 3824.4h9.5v9.5h-9.5zM1174.2 3998.4h9.5v9.5h-9.5zM1033.8 3868.3h9.5v9.5h-9.5zM1234.4 3911.4h9.5v9.5h-9.5zM1014.9 3978.7h9.5v9.5h-9.5zM970.9 4040.9h9.5v9.5h-9.5zM1226.9 4106.0h9.5v9.5h-9.5zM1263.7 4006.7h9.5v9.5h-9.5zM1270.3 3956.1h9.5v9.5h-9.5zM982.2 4114.2h9.5v9.5h-9.5zM1035.1 4084.6h9.5v9.5h-9.5zM1226.8 4042.5h9.5v9.5h-9.5zM1176.9 4059.4h9.5v9.5h-9.5zM1053.4 3961.3h9.5v9.5h-9.5zM970.4 3871.7h9.5v9.5h-9.5zM1214.2 3945.5h9.5v9.5h-9.5zM1060.9 4078.2h9.5v9.5h-9.5zM1055.8 3898.9h9.5v9.5h-9.5zM1026.9 3976.5h9.5v9.5h-9.5zM949.3 4102.5h9.5v9.5h-9.5zM1249.1 4077.9h9.5v9.5h-9.5zM1216.8 4023.2h9.5v9.5h-9.5zM1284.4 3934.9h9.5v9.5h-9.5zM1278.9 4039.5h9.5v9.5h-9.5zM1050.6 3992.2h9.5v9.5h-9.5zM1052.6 3924.7h9.5v9.5h-9.5zM1283.8 3904.0h9.5v9.5h-9.5zM1235.6 4084.2h9.5v9.5h-9.5zM1213.8 3888.2h9.5v9.5h-9.5zM965.8 3975.5h9.5v9.5h-9.5zM1036.5 3937.6h9.5v9.5h-9.5zM1007.6 4082.6h9.5v9.5h-9.5zM1240.5 3829.1h9.5v9.5h-9.5zM1048.5 4096.1h9.5v9.5h-9.5zM1029.9 3968.5h9.5v9.5h-9.5zM949.6 4041.3h9.5v9.5h-9.5zM997.3 4079.5h9.5v9.5h-9.5zM1057.6 4089.0h9.5v9.5h-9.5zM986.3 4085.4h9.5v9.5h-9.5zM1220.1 3868.6h9.5v9.5h-9.5zM1047.1 3875.5h9.5v9.5h-9.5zM972.3 4101.9h9.5v9.5h-9.5zM1271.6 4050.8h9.5v9.5h-9.5zM1023.7 3976.0h9.5v9.5h-9.5zM1017.0 3860.5h9.5v9.5h-9.5zM1248.1 3887.4h9.5v9.5h-9.5zM946.0 3963.1h9.5v9.5h-9.5zM1246.4 3964.6h9.5v9.5h-9.5zM1051.9 4011.9h9.5v9.5h-9.5zM1286.4 3900.6h9.5v9.5h-9.5zM1220.8 3993.9h9.5v9.5h-9.5zM1250.9 3847.2h9.5v9.5h-9.5zM1004.6 4007.5h9.5v9.5h-9.5zM946.7 4056.8h9.5v9.5h-9.5zM1061.0 4063.7h9.5v9.5h-9.5zM1029.0 3914.8h9.5v9.5h-9.5zM1056.8 4108.6h9.5v9.5h-9.5zM1231.7 3894.8h9.5v9.5h-9.5zM1045.1 4038.3h9.5v9.5h-9.5zM1183.1 4072.7h9.5v9.5h-9.5zM962.0 4032.6h9.5v9.5h-9.5zM994.0 3942.3h9.5v9.5h-9.5zM971.0 3831.2h9.5v9.5h-9.5zM1200.5 3877.7h9.5v9.5h-9.5zM1006.0 4044.9h9.5v9.5h-9.5zM957.8 3954.1h9.5v9.5h-9.5zM972.2 4060.4h9.5v9.5h-9.5zM1004.0 3846.2h9.5v9.5h-9.5zM1215.0 4031.9h9.5v9.5h-9.5zM999.0 4074.4h9.5v9.5h-9.5zM978.2 3884.6h9.5v9.5h-9.5zM1059.7 4103.2h9.5v9.5h-9.5zM978.3 3903.8h9.5v9.5h-9.5zM1012.5 4033.8h9.5v9.5h-9.5zM1016.9 3866.5h9.5v9.5h-9.5zM1185.4 4070.2h9.5v9.5h-9.5zM957.6 3979.0h9.5v9.5h-9.5zM1032.5 3891.7h9.5v9.5h-9.5zM959.1 3928.2h9.5v9.5h-9.5zM1182.5 4112.9h9.5v9.5h-9.5zM1252.0 4009.8h9.5v9.5h-9.5zM1059.2 4000.2h9.5v9.5h-9.5zM1020.2 4024.3h9.5v9.5h-9.5zM1200.5 3856.3h9.5v9.5h-9.5zM1234.2 4078.8h9.5v9.5h-9.5zM1199.6 3886.9h9.5v9.5h-9.5zM1001.9 3834.3h9.5v9.5h-9.5zM1063.0 4082.5h9.5v9.5h-9.5zM1249.5 3921.4h9.5v9.5h-9.5zM990.3 3823.9h9.5v9.5h-9.5zM1009.4 4088.9h9.5v9.5h-9.5zM1186.1 3902.9h9.5v9.5h-9.5zM1031.7 3973.0h9.5v9.5h-9.5zM1207.7 3928.0h9.5v9.5h-9.5zM975.0 3888.7h9.5v9.5h-9.5zM948.9 3932.6h9.5v9.5h-9.5zM1241.7 4093.0h9.5v9.5h-9.5zM1217.0 4081.4h9.5v9.5h-9.5zM994.2 4051.3h9.5v9.5h-9.5zM1265.5 3952.0h9.5v9.5h-9.5zM944.4 3993.0h9.5v9.5h-9.5zM952.2 4076.9h9.5v9.5h-9.5zM954.8 4083.2h9.5v9.5h-9.5zM970.0 3954.2h9.5v9.5h-9.5zM1279.4 3908.6h9.5v9.5h-9.5zM1032.3 3987.7h9.5v9.5h-9.5zM1202.7 3877.7h9.5v9.5h-9.5zM1012.8 3934.9h9.5v9.5h-9.5zM949.8 4059.2h9.5v9.5h-9.5zM1004.4 4012.5h9.5v9.5h-9.5zM1197.4 4109.5h9.5v9.5h-9.5zM975.8 3837.3h9.5v9.5h-9.5zM1269.7 3935.6h9.5v9.5h-9.5zM1266.9 3984.4h9.5v9.5h-9.5zM956.3 3886.9h9.5v9.5h-9.5zM995.5 4091.2h9.5v9.5h-9.5zM1180.0 4063.1h9.5v9.5h-9.5zM1276.5 4041.5h9.5v9.5h-9.5zM1273.7 3918.6h9.5v9.5h-9.5zM987.1 4093.7h9.5v9.5h-9.5zM1040.2 4064.7h9.5v9.5h-9.5zM1252.7 4009.5h9.5v9.5h-9.5zM1290.0 3587.7h9.5v9.5h-9.5zM1291.2 3681.2h9.5v9.5h-9.5zM1292.3 3717.9h9.5v9.5h-9.5zM1288.8 3736.9h9.5v9.5h-9.5zM1292.3 3792.6h9.5v9.5h-9.5zM1291.2 3813.9h9.5v9.5h-9.5zM1290.0 3822.2h9.5v9.5h-9.5zM1290.0 3845.9h9.5v9.5h-9.5zM1290.0 3860.2h9.5v9.5h-9.5zM1288.5 3903.7h9.5v9.5h-9.5zM1361.8 4023.8h9.5v9.5h-9.5zM1313.0 4030.1h9.5v9.5h-9.5zM1291.0 4034.8h9.5v9.5h-9.5zM1380.7 4042.8h9.5v9.5h-9.5zM1304.8 4050.7h9.5v9.5h-9.5zM1313.7 4065.4h9.5v9.5h-9.5zM1361.7 4023.7h9.5v9.5h-9.5zM1380.2 4043.4h9.5v9.5h-9.5zM1305.2 4050.6h9.5v9.5h-9.5zM1300.0 4080.2h9.5v9.5h-9.5zM1237.2 3362.2h9.5v9.5h-9.5zM1038.2 3452.2h9.5v9.5h-9.5zM975.5 3502.9h9.5v9.5h-9.5zM1279.5 3487.2h9.5v9.5h-9.5zM1218.8 3525.2h9.5v9.5h-9.5zM945.5 3543.3h9.5v9.5h-9.5zM955.1 3563.2h9.5v9.5h-9.5zM949.9 3566.7h9.5v9.5h-9.5zM977.6 3566.7h9.5v9.5h-9.5zM1022.3 3570.2h9.5v9.5h-9.5zM955.1 3578.3h9.5v9.5h-9.5zM992.2 3592.9h9.5v9.5h-9.5zM995.1 3598.8h9.5v9.5h-9.5zM1047.8 3592.4h9.5v9.5h-9.5zM1034.7 3600.2h9.5v9.5h-9.5zM948.5 3611.2h9.5v9.5h-9.5zM1225.5 3562.3h9.5v9.5h-9.5zM1270.8 3562.3h9.5v9.5h-9.5zM1288.2 3552.1h9.5v9.5h-9.5zM1253.2 3589.4h9.5v9.5h-9.5zM1281.5 3589.4h9.5v9.5h-9.5zM1290.2 3586.6h9.5v9.5h-9.5zM946.0 3543.9h9.5v9.5h-9.5zM945.4 3544.8h9.5v9.5h-9.5zM954.9 3563.7h9.5v9.5h-9.5zM954.9 3580.2h9.5v9.5h-9.5zM950.1 3612.2h9.5v9.5h-9.5zM973.9 3566.1h9.5v9.5h-9.5zM952.5 3646.7h9.5v9.5h-9.5zM969.0 3632.4h9.5v9.5h-9.5zM959.6 3656.2h9.5v9.5h-9.5zM970.2 3663.2h9.5v9.5h-9.5zM945.4 3686.9h9.5v9.5h-9.5zM967.9 3682.2h9.5v9.5h-9.5zM969.0 3696.3h9.5v9.5h-9.5zM969.0 3710.7h9.5v9.5h-9.5zM966.8 3717.8h9.5v9.5h-9.5zM957.2 3731.9h9.5v9.5h-9.5zM947.8 3735.4h9.5v9.5h-9.5zM954.9 3761.6h9.5v9.5h-9.5zM965.5 3763.9h9.5v9.5h-9.5zM970.2 3769.8h9.5v9.5h-9.5zM971.5 3784.1h9.5v9.5h-9.5zM947.8 3795.9h9.5v9.5h-9.5zM972.6 3810.2h9.5v9.5h-9.5zM972.6 3829.1h9.5v9.5h-9.5zM841.1 4023.8h9.5v9.5h-9.5zM845.4 4026.2h9.5v9.5h-9.5zM886.1 4066.4h9.5v9.5h-9.5zM854.1 4109.1h9.5v9.5h-9.5zM913.5 4124.2h9.5v9.5h-9.5zM532.0 4031.2h9.5v9.5h-9.5zM507.1 4103.6h9.5v9.5h-9.5zM866.8 4141.1h9.5v9.5h-9.5zM925.0 4132.9h9.5v9.5h-9.5zM937.8 4157.1h9.5v9.5h-9.5zM919.5 4165.4h9.5v9.5h-9.5zM818.6 4176.9h9.5v9.5h-9.5zM819.5 4207.6h9.5v9.5h-9.5zM937.8 4245.1h9.5v9.5h-9.5zM951.5 4238.6h9.5v9.5h-9.5zM1225.5 3562.8h9.5v9.5h-9.5zM1270.7 3563.6h9.5v9.5h-9.5zM1253.5 3589.7h9.5v9.5h-9.5zM1282.5 3589.7h9.5v9.5h-9.5zM1290.8 3587.2h9.5v9.5h-9.5zM1272.5 3626.8h9.5v9.5h-9.5zM1240.2 3631.6h9.5v9.5h-9.5zM1242.7 3641.8h9.5v9.5h-9.5zM1280.5 3657.7h9.5v9.5h-9.5zM1154.0 3669.4h9.5v9.5h-9.5zM1180.5 3673.2h9.5v9.5h-9.5zM1192.8 3670.8h9.5v9.5h-9.5zM1219.7 3671.8h9.5v9.5h-9.5zM1230.3 3667.8h9.5v9.5h-9.5zM1235.0 3674.9h9.5v9.5h-9.5zM1262.3 3670.2h9.5v9.5h-9.5zM1264.0 3680.8h9.5v9.5h-9.5zM1273.0 3678.9h9.5v9.5h-9.5zM1287.2 3683.2h9.5v9.5h-9.5zM1293.2 3680.8h9.5v9.5h-9.5zM1237.5 3689.8h9.5v9.5h-9.5zM1245.8 3692.7h9.5v9.5h-9.5zM1251.7 3685.6h9.5v9.5h-9.5zM1206.7 3694.6h9.5v9.5h-9.5zM1109.0 3702.7h9.5v9.5h-9.5zM1164.0 3708.8h9.5v9.5h-9.5zM1197.2 3711.7h9.5v9.5h-9.5zM1197.7 3721.2h9.5v9.5h-9.5zM1200.8 3731.8h9.5v9.5h-9.5zM1235.0 3719.2h9.5v9.5h-9.5zM1281.2 3711.7h9.5v9.5h-9.5zM1292.0 3718.8h9.5v9.5h-9.5zM1189.5 3743.7h9.5v9.5h-9.5zM1247.0 3742.4h9.5v9.5h-9.5zM1262.3 3737.2h9.5v9.5h-9.5zM1283.7 3734.2h9.5v9.5h-9.5zM1288.3 3738.8h9.5v9.5h-9.5zM1275.8 3751.9h9.5v9.5h-9.5zM1194.8 3757.8h9.5v9.5h-9.5zM1206.7 3754.3h9.5v9.5h-9.5zM1218.5 3756.2h9.5v9.5h-9.5zM1229.2 3757.8h9.5v9.5h-9.5zM1254.0 3754.3h9.5v9.5h-9.5zM1261.2 3762.6h9.5v9.5h-9.5zM1172.2 3764.9h9.5v9.5h-9.5zM1220.8 3768.6h9.5v9.5h-9.5zM1247.0 3769.8h9.5v9.5h-9.5zM1238.7 3776.8h9.5v9.5h-9.5zM1267.0 3776.2h9.5v9.5h-9.5zM1200.8 3774.4h9.5v9.5h-9.5zM1203.0 3782.8h9.5v9.5h-9.5zM1180.5 3780.3h9.5v9.5h-9.5zM1219.7 3789.3h9.5v9.5h-9.5zM1134.3 3784.7h9.5v9.5h-9.5zM1152.5 3792.2h9.5v9.5h-9.5zM1173.5 3795.8h9.5v9.5h-9.5zM1188.8 3798.2h9.5v9.5h-9.5zM1203.0 3801.7h9.5v9.5h-9.5zM1253.5 3798.8h9.5v9.5h-9.5zM1270.7 3794.6h9.5v9.5h-9.5zM1282.5 3795.8h9.5v9.5h-9.5zM1292.0 3791.1h9.5v9.5h-9.5zM1179.3 3812.3h9.5v9.5h-9.5zM1185.2 3819.4h9.5v9.5h-9.5zM1194.8 3823.1h9.5v9.5h-9.5zM1216.2 3813.6h9.5v9.5h-9.5zM1226.8 3811.2h9.5v9.5h-9.5zM1251.7 3812.3h9.5v9.5h-9.5zM1261.2 3818.2h9.5v9.5h-9.5zM1289.5 3820.7h9.5v9.5h-9.5zM1226.8 3827.8h9.5v9.5h-9.5zM1256.3 3828.9h9.5v9.5h-9.5zM1268.2 3832.6h9.5v9.5h-9.5zM1153.3 3829.7h9.5v9.5h-9.5zM1174.7 3832.1h9.5v9.5h-9.5zM1204.2 3834.8h9.5v9.5h-9.5zM1185.2 3837.2h9.5v9.5h-9.5zM1167.5 3839.7h9.5v9.5h-9.5zM1171.0 3844.3h9.5v9.5h-9.5zM1236.2 3841.9h9.5v9.5h-9.5zM1237.5 3849.1h9.5v9.5h-9.5zM1209.0 3851.4h9.5v9.5h-9.5zM1276.5 3847.9h9.5v9.5h-9.5zM1284.8 3851.4h9.5v9.5h-9.5zM1097.7 3814.8h9.5v9.5h-9.5z" fill="#000"/>
<path d="M906.0 3315.6h9.5v9.5h-9.5zM813.8 3398.2h9.5v9.5h-9.5zM870.0 3416.2h9.5v9.5h-9.5zM789.8 3442.3h9.5v9.5h-9.5zM854.6 3512.8h9.5v9.5h-9.5zM803.1 3525.7h9.5v9.5h-9.5zM830.6 3524.3h9.5v9.5h-9.5zM819.5 3530.6h9.5v9.5h-9.5zM823.2 3538.6h9.5v9.5h-9.5zM890.1 3536.7h9.5v9.5h-9.5zM930.0 3543.9h9.5v9.5h-9.5zM893.8 3550.1h9.5v9.5h-9.5zM870.0 3552.6h9.5v9.5h-9.5zM781.1 3553.8h9.5v9.5h-9.5zM658.0 3588.7h9.5v9.5h-9.5zM670.6 3587.1h9.5v9.5h-9.5zM694.4 3588.7h9.5v9.5h-9.5zM733.9 3585.4h9.5v9.5h-9.5zM599.6 3637.2h9.5v9.5h-9.5zM707.0 3603.8h9.5v9.5h-9.5zM692.5 3609.7h9.5v9.5h-9.5zM719.0 3660.6h9.5v9.5h-9.5zM703.1 3699.2h9.5v9.5h-9.5zM649.9 3721.1h9.5v9.5h-9.5zM661.6 3798.1h9.5v9.5h-9.5zM717.0 3821.8h9.5v9.5h-9.5zM724.9 3691.3h9.5v9.5h-9.5zM781.1 3557.1h9.5v9.5h-9.5zM734.0 3585.4h9.5v9.5h-9.5zM694.6 3589.2h9.5v9.5h-9.5zM708.0 3603.9h9.5v9.5h-9.5zM692.4 3610.7h9.5v9.5h-9.5zM823.4 3538.8h9.5v9.5h-9.5zM889.8 3538.1h9.5v9.5h-9.5zM893.2 3551.3h9.5v9.5h-9.5zM870.0 3555.3h9.5v9.5h-9.5zM853.5 3560.2h9.5v9.5h-9.5zM931.1 3544.2h9.5v9.5h-9.5zM931.1 3568.4h9.5v9.5h-9.5zM823.4 3568.4h9.5v9.5h-9.5zM824.5 3574.3h9.5v9.5h-9.5zM827.4 3594.1h9.5v9.5h-9.5zM870.0 3603.4h9.5v9.5h-9.5zM933.0 3598.1h9.5v9.5h-9.5zM813.9 3617.1h9.5v9.5h-9.5zM942.5 3617.1h9.5v9.5h-9.5zM764.1 3634.2h9.5v9.5h-9.5zM878.5 3632.8h9.5v9.5h-9.5zM895.6 3630.1h9.5v9.5h-9.5zM769.5 3654.9h9.5v9.5h-9.5zM790.1 3648.9h9.5v9.5h-9.5zM790.1 3662.8h9.5v9.5h-9.5zM824.5 3654.9h9.5v9.5h-9.5zM841.1 3644.8h9.5v9.5h-9.5zM855.4 3640.8h9.5v9.5h-9.5zM847.8 3652.6h9.5v9.5h-9.5zM858.9 3648.6h9.5v9.5h-9.5zM902.8 3645.4h9.5v9.5h-9.5zM918.1 3652.6h9.5v9.5h-9.5zM719.0 3660.8h9.5v9.5h-9.5zM733.4 3684.6h9.5v9.5h-9.5zM729.8 3692.2h9.5v9.5h-9.5zM703.6 3698.8h9.5v9.5h-9.5zM817.5 3673.8h9.5v9.5h-9.5zM809.9 3681.7h9.5v9.5h-9.5zM821.6 3691.7h9.5v9.5h-9.5zM857.2 3681.7h9.5v9.5h-9.5zM869.0 3678.7h9.5v9.5h-9.5zM914.5 3674.6h9.5v9.5h-9.5zM907.0 3682.7h9.5v9.5h-9.5zM925.2 3688.1h9.5v9.5h-9.5zM853.0 3703.9h9.5v9.5h-9.5zM883.8 3700.7h9.5v9.5h-9.5zM902.2 3710.2h9.5v9.5h-9.5zM915.8 3705.8h9.5v9.5h-9.5zM934.8 3709.4h9.5v9.5h-9.5zM944.2 3703.4h9.5v9.5h-9.5zM933.5 3717.8h9.5v9.5h-9.5zM823.4 3709.4h9.5v9.5h-9.5zM831.6 3720.1h9.5v9.5h-9.5zM856.5 3727.2h9.5v9.5h-9.5zM871.5 3718.8h9.5v9.5h-9.5zM885.0 3719.7h9.5v9.5h-9.5zM873.9 3731.9h9.5v9.5h-9.5zM885.6 3737.8h9.5v9.5h-9.5zM902.2 3731.9h9.5v9.5h-9.5zM914.5 3736.2h9.5v9.5h-9.5zM926.5 3744.9h9.5v9.5h-9.5zM867.2 3745.7h9.5v9.5h-9.5zM900.4 3743.8h9.5v9.5h-9.5zM747.5 3737.8h9.5v9.5h-9.5zM742.8 3743.2h9.5v9.5h-9.5zM857.8 3756.8h9.5v9.5h-9.5zM864.9 3763.9h9.5v9.5h-9.5zM895.6 3754.4h9.5v9.5h-9.5zM911.0 3756.8h9.5v9.5h-9.5zM890.9 3762.2h9.5v9.5h-9.5zM804.4 3764.7h9.5v9.5h-9.5zM802.0 3774.6h9.5v9.5h-9.5zM876.6 3769.8h9.5v9.5h-9.5zM869.5 3779.3h9.5v9.5h-9.5zM862.5 3785.2h9.5v9.5h-9.5zM829.2 3785.2h9.5v9.5h-9.5zM847.0 3785.2h9.5v9.5h-9.5zM921.6 3775.8h9.5v9.5h-9.5zM944.2 3776.9h9.5v9.5h-9.5zM893.2 3784.1h9.5v9.5h-9.5zM904.0 3789.9h9.5v9.5h-9.5zM924.0 3788.8h9.5v9.5h-9.5zM763.0 3797.1h9.5v9.5h-9.5zM797.2 3810.7h9.5v9.5h-9.5zM836.4 3804.2h9.5v9.5h-9.5zM866.0 3805.3h9.5v9.5h-9.5zM877.9 3804.2h9.5v9.5h-9.5zM889.8 3799.4h9.5v9.5h-9.5zM900.4 3805.3h9.5v9.5h-9.5zM909.9 3804.2h9.5v9.5h-9.5zM902.8 3812.6h9.5v9.5h-9.5zM926.5 3801.8h9.5v9.5h-9.5zM936.0 3819.7h9.5v9.5h-9.5zM943.0 3823.2h9.5v9.5h-9.5zM716.8 3821.9h9.5v9.5h-9.5zM876.6 3831.4h9.5v9.5h-9.5zM876.6 3833.6h9.5v9.5h-9.5zM940.6 3828.1h9.5v9.5h-9.5zM804.4 3856.1h9.5v9.5h-9.5zM829.8 3850.2h9.5v9.5h-9.5zM805.1 3873.3h9.5v9.5h-9.5zM831.6 3888.8h9.5v9.5h-9.5zM911.0 3848.9h9.5v9.5h-9.5zM921.6 3846.6h9.5v9.5h-9.5zM908.6 3854.8h9.5v9.5h-9.5zM938.2 3871.4h9.5v9.5h-9.5zM889.8 3882.2h9.5v9.5h-9.5zM899.1 3888.1h9.5v9.5h-9.5zM914.5 3885.7h9.5v9.5h-9.5zM922.9 3895.8h9.5v9.5h-9.5zM895.6 3902.2h9.5v9.5h-9.5zM896.9 3907.1h9.5v9.5h-9.5zM921.6 3911.8h9.5v9.5h-9.5zM932.4 3912.9h9.5v9.5h-9.5zM866.0 3915.2h9.5v9.5h-9.5zM814.5 3917.7h9.5v9.5h-9.5zM881.5 3924.3h9.5v9.5h-9.5zM889.8 3922.4h9.5v9.5h-9.5zM932.4 3927.7h9.5v9.5h-9.5zM905.1 3934.8h9.5v9.5h-9.5zM877.1 3942.6h9.5v9.5h-9.5zM914.5 3947.9h9.5v9.5h-9.5zM744.0 3963.2h9.5v9.5h-9.5zM827.0 3960.8h9.5v9.5h-9.5zM925.2 3962.7h9.5v9.5h-9.5zM907.0 3982.2h9.5v9.5h-9.5zM845.4 4007.8h9.5v9.5h-9.5zM402.8 3956.4h9.5v9.5h-9.5z" fill="#008a00"/>
<path d="M1490.5 3151.3h9.5v9.5h-9.5zM1353.0 3319.6h9.5v9.5h-9.5zM1436.0 3371.8h9.5v9.5h-9.5zM1621.7 3371.8h9.5v9.5h-9.5zM1607.8 3407.2h9.5v9.5h-9.5zM1752.0 3397.3h9.5v9.5h-9.5zM1678.8 3430.2h9.5v9.5h-9.5zM1459.7 3471.2h9.5v9.5h-9.5zM1603.0 3489.1h9.5v9.5h-9.5zM1609.0 3500.1h9.5v9.5h-9.5zM1615.8 3504.1h9.5v9.5h-9.5zM1476.7 3500.1h9.5v9.5h-9.5zM1385.8 3511.2h9.5v9.5h-9.5zM1670.2 3513.2h9.5v9.5h-9.5zM1580.2 3517.1h9.5v9.5h-9.5zM1432.5 3528.8h9.5v9.5h-9.5zM1604.2 3530.4h9.5v9.5h-9.5zM1648.5 3528.6h9.5v9.5h-9.5zM1393.8 3545.4h9.5v9.5h-9.5zM1490.5 3544.7h9.5v9.5h-9.5zM1339.7 3555.3h9.5v9.5h-9.5zM1395.8 3564.1h9.5v9.5h-9.5zM1410.8 3559.3h9.5v9.5h-9.5zM1520.2 3571.9h9.5v9.5h-9.5zM1532.0 3569.2h9.5v9.5h-9.5zM1460.8 3575.9h9.5v9.5h-9.5zM1477.8 3581.1h9.5v9.5h-9.5zM1582.5 3586.2h9.5v9.5h-9.5zM1695.8 3580.2h9.5v9.5h-9.5zM1851.2 3321.7h9.5v9.5h-9.5zM1606.8 3405.9h9.5v9.5h-9.5zM1318.0 3606.2h9.5v9.5h-9.5zM1422.7 3615.6h9.5v9.5h-9.5zM1486.2 3617.9h9.5v9.5h-9.5zM1439.2 3630.8h9.5v9.5h-9.5zM1340.2 3625.1h9.5v9.5h-9.5zM1303.0 3635.1h9.5v9.5h-9.5zM1311.3 3632.7h9.5v9.5h-9.5zM1322.0 3630.2h9.5v9.5h-9.5zM1318.5 3638.6h9.5v9.5h-9.5zM1331.5 3638.6h9.5v9.5h-9.5zM1300.7 3648.1h9.5v9.5h-9.5zM1348.0 3646.8h9.5v9.5h-9.5zM1403.2 3655.2h9.5v9.5h-9.5zM1419.2 3655.8h9.5v9.5h-9.5zM1459.5 3655.8h9.5v9.5h-9.5zM1564.2 3653.4h9.5v9.5h-9.5zM1393.0 3666.2h9.5v9.5h-9.5zM1314.8 3666.2h9.5v9.5h-9.5zM1299.5 3672.4h9.5v9.5h-9.5zM1500.5 3671.8h9.5v9.5h-9.5zM1519.8 3670.1h9.5v9.5h-9.5zM1572.0 3674.8h9.5v9.5h-9.5zM1442.8 3676.4h9.5v9.5h-9.5zM1312.5 3681.2h9.5v9.5h-9.5zM1343.3 3681.2h9.5v9.5h-9.5zM1474.2 3685.9h9.5v9.5h-9.5zM1536.5 3688.3h9.5v9.5h-9.5zM1567.2 3688.3h9.5v9.5h-9.5zM1576.8 3696.7h9.5v9.5h-9.5zM1377.2 3693.8h9.5v9.5h-9.5zM1403.2 3696.2h9.5v9.5h-9.5zM1413.2 3693.1h9.5v9.5h-9.5zM1455.3 3698.6h9.5v9.5h-9.5zM1505.2 3702.6h9.5v9.5h-9.5zM1309.5 3701.3h9.5v9.5h-9.5zM1323.2 3698.6h9.5v9.5h-9.5zM1354.5 3701.3h9.5v9.5h-9.5zM1338.5 3705.7h9.5v9.5h-9.5zM1326.0 3710.3h9.5v9.5h-9.5zM1386.7 3705.7h9.5v9.5h-9.5zM1390.8 3709.7h9.5v9.5h-9.5zM1464.2 3710.8h9.5v9.5h-9.5zM1453.5 3717.4h9.5v9.5h-9.5zM1344.5 3715.2h9.5v9.5h-9.5zM1300.0 3717.4h9.5v9.5h-9.5zM1309.0 3724.6h9.5v9.5h-9.5zM1313.2 3730.2h9.5v9.5h-9.5zM1320.8 3733.3h9.5v9.5h-9.5zM1360.7 3723.2h9.5v9.5h-9.5zM1579.0 3721.6h9.5v9.5h-9.5zM1466.5 3735.8h9.5v9.5h-9.5zM1494.2 3732.2h9.5v9.5h-9.5zM1378.8 3740.4h9.5v9.5h-9.5zM1400.2 3744.4h9.5v9.5h-9.5zM1395.5 3748.2h9.5v9.5h-9.5zM1455.3 3744.4h9.5v9.5h-9.5zM1502.0 3748.2h9.5v9.5h-9.5zM1535.2 3751.2h9.5v9.5h-9.5zM1581.0 3743.6h9.5v9.5h-9.5zM1361.0 3753.9h9.5v9.5h-9.5zM1440.5 3753.9h9.5v9.5h-9.5zM1304.2 3755.8h9.5v9.5h-9.5zM1309.0 3766.6h9.5v9.5h-9.5zM1325.5 3762.6h9.5v9.5h-9.5zM1332.2 3761.1h9.5v9.5h-9.5zM1449.2 3762.9h9.5v9.5h-9.5zM1480.0 3762.6h9.5v9.5h-9.5zM1535.2 3764.2h9.5v9.5h-9.5zM1414.3 3770.1h9.5v9.5h-9.5zM1510.3 3770.1h9.5v9.5h-9.5zM1346.3 3776.1h9.5v9.5h-9.5zM1337.0 3781.9h9.5v9.5h-9.5zM1444.5 3779.1h9.5v9.5h-9.5zM1391.8 3793.8h9.5v9.5h-9.5zM1477.2 3791.4h9.5v9.5h-9.5zM1309.0 3802.1h9.5v9.5h-9.5zM1338.5 3800.8h9.5v9.5h-9.5zM1345.7 3806.8h9.5v9.5h-9.5zM1361.0 3813.9h9.5v9.5h-9.5zM1427.5 3811.6h9.5v9.5h-9.5zM1418.0 3824.6h9.5v9.5h-9.5zM1482.0 3819.8h9.5v9.5h-9.5zM1499.8 3820.3h9.5v9.5h-9.5zM1535.2 3825.8h9.5v9.5h-9.5zM1527.0 3829.3h9.5v9.5h-9.5zM1326.8 3824.6h9.5v9.5h-9.5zM1337.8 3832.2h9.5v9.5h-9.5zM1304.2 3822.2h9.5v9.5h-9.5zM1304.2 3830.6h9.5v9.5h-9.5zM1297.0 3836.4h9.5v9.5h-9.5zM1419.2 3839.9h9.5v9.5h-9.5zM1461.8 3834.6h9.5v9.5h-9.5zM1519.8 3842.3h9.5v9.5h-9.5zM1405.0 3847.1h9.5v9.5h-9.5zM1405.7 3853.1h9.5v9.5h-9.5zM1559.0 3847.1h9.5v9.5h-9.5zM1299.5 3855.3h9.5v9.5h-9.5zM1363.5 3855.3h9.5v9.5h-9.5zM1365.8 3863.7h9.5v9.5h-9.5zM1368.2 3871.9h9.5v9.5h-9.5zM1371.8 3875.6h9.5v9.5h-9.5zM1406.2 3867.2h9.5v9.5h-9.5zM1396.2 3874.3h9.5v9.5h-9.5zM1431.0 3868.4h9.5v9.5h-9.5zM1569.7 3862.6h9.5v9.5h-9.5zM1582.7 3873.2h9.5v9.5h-9.5zM1301.8 3870.8h9.5v9.5h-9.5zM1314.8 3881.4h9.5v9.5h-9.5zM1341.0 3879.1h9.5v9.5h-9.5zM1453.5 3882.7h9.5v9.5h-9.5zM1534.0 3883.8h9.5v9.5h-9.5zM1580.2 3588.8h9.5v9.5h-9.5zM1580.2 3600.7h9.5v9.5h-9.5zM1478.3 3585.2h9.5v9.5h-9.5zM1313.7 3883.2h9.5v9.5h-9.5zM1340.5 3879.9h9.5v9.5h-9.5zM1369.0 3876.8h9.5v9.5h-9.5zM1395.8 3876.8h9.5v9.5h-9.5zM1452.8 3886.3h9.5v9.5h-9.5zM1473.2 3891.1h9.5v9.5h-9.5zM1492.2 3897.9h9.5v9.5h-9.5zM1534.8 3887.2h9.5v9.5h-9.5zM1576.0 3896.8h9.5v9.5h-9.5zM1585.5 3875.2h9.5v9.5h-9.5zM1609.2 3878.4h9.5v9.5h-9.5zM1680.2 3895.8h9.5v9.5h-9.5zM1680.2 3887.8h9.5v9.5h-9.5zM1302.7 3905.2h9.5v9.5h-9.5zM1362.7 3894.2h9.5v9.5h-9.5zM1380.0 3895.8h9.5v9.5h-9.5zM1398.3 3896.8h9.5v9.5h-9.5zM1423.7 3899.8h9.5v9.5h-9.5zM1347.8 3912.6h9.5v9.5h-9.5zM1391.0 3912.6h9.5v9.5h-9.5zM1418.0 3914.8h9.5v9.5h-9.5zM1410.0 3921.1h9.5v9.5h-9.5zM1312.2 3919.4h9.5v9.5h-9.5zM1326.3 3918.8h9.5v9.5h-9.5zM1493.8 3913.2h9.5v9.5h-9.5zM1315.2 3933.8h9.5v9.5h-9.5zM1316.8 3940.1h9.5v9.5h-9.5zM1323.2 3943.2h9.5v9.5h-9.5zM1354.8 3947.2h9.5v9.5h-9.5zM1493.8 3944.2h9.5v9.5h-9.5zM1361.0 3966.2h9.5v9.5h-9.5zM1408.5 3968.4h9.5v9.5h-9.5zM1490.7 3963.8h9.5v9.5h-9.5zM1315.2 3973.8h9.5v9.5h-9.5zM1296.3 3987.4h9.5v9.5h-9.5zM1308.0 3991.6h9.5v9.5h-9.5zM1321.5 3989.7h9.5v9.5h-9.5zM1357.2 3988.3h9.5v9.5h-9.5zM1359.5 3994.7h9.5v9.5h-9.5zM1373.8 3981.1h9.5v9.5h-9.5zM1374.3 3991.6h9.5v9.5h-9.5zM1564.0 3986.4h9.5v9.5h-9.5zM1402.2 4004.8h9.5v9.5h-9.5zM1451.2 4009.6h9.5v9.5h-9.5zM1615.5 4004.8h9.5v9.5h-9.5zM1752.2 3397.8h9.5v9.5h-9.5zM1607.5 3407.3h9.5v9.5h-9.5zM1678.8 3431.1h9.5v9.5h-9.5zM1603.7 3489.6h9.5v9.5h-9.5zM1606.8 3500.6h9.5v9.5h-9.5zM1615.7 3504.7h9.5v9.5h-9.5zM1581.0 3516.3h9.5v9.5h-9.5zM1670.7 3514.2h9.5v9.5h-9.5zM1604.3 3530.6h9.5v9.5h-9.5zM1648.5 3528.1h9.5v9.5h-9.5zM1837.5 3498.9h9.5v9.5h-9.5zM1579.0 3566.9h9.5v9.5h-9.5zM1583.2 3585.8h9.5v9.5h-9.5zM1581.0 3601.7h9.5v9.5h-9.5zM1597.3 3596.9h9.5v9.5h-9.5zM1613.2 3613.3h9.5v9.5h-9.5zM1597.3 3619.7h9.5v9.5h-9.5zM1696.2 3581.2h9.5v9.5h-9.5zM1711.2 3601.7h9.5v9.5h-9.5zM1708.0 3633.2h9.5v9.5h-9.5zM1757.0 3667.1h9.5v9.5h-9.5zM1834.3 3693.9h9.5v9.5h-9.5zM1594.2 3677.6h9.5v9.5h-9.5zM1577.8 3696.4h9.5v9.5h-9.5zM1650.5 3689.2h9.5v9.5h-9.5zM1580.0 3721.8h9.5v9.5h-9.5zM1602.2 3718.6h9.5v9.5h-9.5zM1614.8 3713.2h9.5v9.5h-9.5zM1638.5 3726.4h9.5v9.5h-9.5zM1581.5 3743.8h9.5v9.5h-9.5zM1659.0 3743.8h9.5v9.5h-9.5zM1628.3 3757.4h9.5v9.5h-9.5zM1688.3 3758.8h9.5v9.5h-9.5zM1757.2 3667.3h9.5v9.5h-9.5zM1834.2 3693.8h9.5v9.5h-9.5zM1807.8 3820.9h9.5v9.5h-9.5zM1744.7 3850.1h9.5v9.5h-9.5zM1741.0 3948.2h9.5v9.5h-9.5zM1628.5 3757.8h9.5v9.5h-9.5zM1688.0 3758.4h9.5v9.5h-9.5zM1608.3 3814.7h9.5v9.5h-9.5zM1744.2 3850.1h9.5v9.5h-9.5zM1559.0 3847.6h9.5v9.5h-9.5zM1569.5 3862.7h9.5v9.5h-9.5zM1586.2 3873.8h9.5v9.5h-9.5zM1609.5 3876.8h9.5v9.5h-9.5zM1616.8 3871.6h9.5v9.5h-9.5zM1632.7 3855.8h9.5v9.5h-9.5zM1575.8 3896.8h9.5v9.5h-9.5zM1680.0 3896.8h9.5v9.5h-9.5zM1684.8 3887.9h9.5v9.5h-9.5zM1564.0 3986.6h9.5v9.5h-9.5zM1616.0 4004.8h9.5v9.5h-9.5z" fill="#ff0000"/>
<rect x="648.4" y="3371.1" width="18" height="18" fill="#008a00"/>
<rect x="702.8" y="3490.5" width="18" height="18" fill="#008a00"/>
<rect x="450.9" y="3605.4" width="18" height="18" fill="#008a00"/>
<rect x="517.2" y="3677.3" width="18" height="18" fill="#008a00"/>
<rect x="390.0" y="3706.9" width="18" height="18" fill="#008a00"/>
<rect x="647.5" y="3634.6" width="18" height="18" fill="#008a00"/>
<rect x="614.0" y="3726.6" width="18" height="18" fill="#008a00"/>
<rect x="606.1" y="3839.2" width="18" height="18" fill="#008a00"/>
<rect x="1570.0" y="3562.2" width="18" height="18" fill="#ff0000"/>
<rect x="1830.5" y="3511.0" width="18" height="18" fill="#ff0000"/>
<rect x="1865.2" y="3531.3" width="18" height="18" fill="#ff0000"/>
<rect x="2057.0" y="3404.3" width="18" height="18" fill="#ff0000"/>
<rect x="1903.9" y="3664.6" width="18" height="18" fill="#ff0000"/>
<rect x="2000.9" y="3706.5" width="18" height="18" fill="#ff0000"/>
<rect x="1677.4" y="3791.4" width="18" height="18" fill="#ff0000"/>
<rect x="1846.3" y="3829.3" width="18" height="18" fill="#ff0000"/>
<rect x="1694.8" y="3879.0" width="18" height="18" fill="#ff0000"/>
<rect x="1838.5" y="3897.9" width="18" height="18" fill="#ff0000"/>
<rect x="1735.8" y="3944.4" width="18" height="18" fill="#ff0000"/>
<rect x="1942.3" y="3971.5" width="18" height="18" fill="#ff0000"/>
<rect x="1666.3" y="3755.7" width="18" height="18" fill="#ff0000"/>
<line x1="70.1" y1="4262.0" x2="2179.7" y2="4262.0" stroke="#000" stroke-width="4.6"/>
<line x1="1124.9" y1="2937.4" x2="1124.9" y2="4292.0" stroke="#000" stroke-width="4.6"/>
<line x1="70.1" y1="4262.0" x2="70.1" y2="4293.0" stroke="#000" stroke-width="4.6"/>
<line x1="333.8" y1="4262.0" x2="333.8" y2="4279.0" stroke="#000" stroke-width="4.6"/>
<line x1="597.5" y1="4262.0" x2="597.5" y2="4293.0" stroke="#000" stroke-width="4.6"/>
<line x1="861.2" y1="4262.0" x2="861.2" y2="4279.0" stroke="#000" stroke-width="4.6"/>
<line x1="1388.6" y1="4262.0" x2="1388.6" y2="4279.0" stroke="#000" stroke-width="4.6"/>
<line x1="1652.3" y1="4262.0" x2="1652.3" y2="4293.0" stroke="#000" stroke-width="4.6"/>
<line x1="1916.0" y1="4262.0" x2="1916.0" y2="4279.0" stroke="#000" stroke-width="4.6"/>
<line x1="2179.7" y1="4262.0" x2="2179.7" y2="4293.0" stroke="#000" stroke-width="4.6"/>
<line x1="1107.9" y1="4167.6" x2="1124.9" y2="4167.6" stroke="#000" stroke-width="4.6"/>
<line x1="1093.9" y1="4073.1" x2="1124.9" y2="4073.1" stroke="#000" stroke-width="4.6"/>
<line x1="1107.9" y1="3978.7" x2="1124.9" y2="3978.7" stroke="#000" stroke-width="4.6"/>
<line x1="1093.9" y1="3884.2" x2="1124.9" y2="3884.2" stroke="#000" stroke-width="4.6"/>
<line x1="1107.9" y1="3789.8" x2="1124.9" y2="3789.8" stroke="#000" stroke-width="4.6"/>
<line x1="1093.9" y1="3695.3" x2="1124.9" y2="3695.3" stroke="#000" stroke-width="4.6"/>
<line x1="1107.9" y1="3600.8" x2="1124.9" y2="3600.8" stroke="#000" stroke-width="4.6"/>
<line x1="1093.9" y1="3506.4" x2="1124.9" y2="3506.4" stroke="#000" stroke-width="4.6"/>
<line x1="1107.9" y1="3411.9" x2="1124.9" y2="3411.9" stroke="#000" stroke-width="4.6"/>
<line x1="1093.9" y1="3317.5" x2="1124.9" y2="3317.5" stroke="#000" stroke-width="4.6"/>
<line x1="1107.9" y1="3223.1" x2="1124.9" y2="3223.1" stroke="#000" stroke-width="4.6"/>
<line x1="1093.9" y1="3128.6" x2="1124.9" y2="3128.6" stroke="#000" stroke-width="4.6"/>
<line x1="1107.9" y1="3034.1" x2="1124.9" y2="3034.1" stroke="#000" stroke-width="4.6"/>
<line x1="1093.9" y1="2939.7" x2="1124.9" y2="2939.7" stroke="#000" stroke-width="4.6"/>
<line x1="1093.9" y1="2939.7" x2="1124.9" y2="2939.7" stroke="#000" stroke-width="4.6"/>
<text x="1076.5" y="2976.6" font-size="56" text-anchor="end" >7</text>
<text x="1076.5" y="3154.3" font-size="56" text-anchor="end" >6</text>
<text x="1076.5" y="3342.9" font-size="56" text-anchor="end" >5</text>
<text x="1076.5" y="3523.2" font-size="56" text-anchor="end" >4</text>
<text x="70.1" y="4354.3" font-size="56" text-anchor="middle" >-6</text>
<text x="597.5" y="4354.3" font-size="56" text-anchor="middle" >-3</text>
<text x="1124.9" y="4354.3" font-size="56" text-anchor="middle" >0</text>
<text x="1652.3" y="4354.3" font-size="56" text-anchor="middle" >3</text>
<text x="2179.7" y="4354.3" font-size="56" text-anchor="middle" >6</text>
<text transform="translate(1009.2 3258.4) rotate(-90)" font-size="72">-log<tspan font-size="40" dy="28">10</tspan><tspan dy="-28" font-style="italic">p</tspan>-value</text>
<text x="838" y="4453.2" font-size="70">log<tspan font-size="44" dy="27">2</tspan><tspan dy="-27">Ratio (P</tspan><tspan font-size="44" dy="27">i</tspan><tspan font-size="44" dx="1" dy="-58">-</tspan><tspan dy="31">/P</tspan><tspan font-size="44" dy="27">i</tspan><tspan font-size="44" dx="1" dy="-58">+</tspan><tspan dy="31" dx="4">)</tspan></text>
<text x="546.2" y="3356.4" font-size="58" text-anchor="start" letter-spacing="1.0" >RpmC</text>
<text x="544.3" y="3527.0" font-size="58" text-anchor="start" letter-spacing="1.0" >DeaD</text>
<text x="354.2" y="3598.5" font-size="58" text-anchor="start" letter-spacing="1.0" >RpmD</text>
<text x="396.8" y="3678.4" font-size="58" text-anchor="start" letter-spacing="1.0" >RpmE</text>
<text x="257.4" y="3710.0" font-size="58" text-anchor="start" letter-spacing="1.0" >AroF</text>
<text x="577.3" y="3692.2" font-size="58" text-anchor="start" letter-spacing="1.0" >RpsP</text>
<text x="436.3" y="3765.2" font-size="58" text-anchor="start" letter-spacing="1.0" >RpmF</text>
<text x="476.6" y="3834.4" font-size="58" text-anchor="start" letter-spacing="1.0" >RpmG</text>
<text x="1468.6" y="3469.3" font-size="58" text-anchor="start" letter-spacing="1.0" >NagB</text>
<text x="1700.4" y="3563.1" font-size="58" text-anchor="start" letter-spacing="1.0" >PhoU</text>
<text x="1891.0" y="3569.2" font-size="58" text-anchor="start" letter-spacing="1.0" >PstB</text>
<text x="2083.7" y="3428.4" font-size="58" text-anchor="start" letter-spacing="1.0" >PstS</text>
<text x="1871.0" y="3662.4" font-size="58" text-anchor="start" letter-spacing="1.0" >PhoB</text>
<text x="1815.2" y="3780.4" font-size="58" text-anchor="start" letter-spacing="0.4" >STM14_1694</text>
<text x="1700.0" y="3829.5" font-size="58" text-anchor="start" letter-spacing="1.0" >UgpC</text>
<text x="1868.0" y="3839.7" font-size="58" text-anchor="start" letter-spacing="1.0" >SseL</text>
<text x="1715.8" y="3925.9" font-size="58" text-anchor="start" letter-spacing="1.0" >PhnS</text>
<text x="1867.4" y="3955.2" font-size="58" text-anchor="start" letter-spacing="1.0" >ApeE</text>
<text x="1675.3" y="4017.5" font-size="58" text-anchor="start" letter-spacing="1.0" >SscA</text>
<text x="1985.1" y="4017.1" font-size="58" text-anchor="start" letter-spacing="1.0" >PhoE</text>
<text x="1517.0" y="4094.0" font-size="58" text-anchor="start" letter-spacing="1.0" >NagA</text>
<line x1="1554.5" y1="3487" x2="1568.0" y2="3540.8" stroke="#000" stroke-width="4.2"/>
<path d="M1574.3 3566.0 L1576.0 3531.6 L1568.0 3540.8 L1556.6 3536.4 Z" fill="#000"/>
<line x1="1604.2" y1="4039.6" x2="1658.3" y2="3815.7" stroke="#000" stroke-width="4.2"/>
<path d="M1665.8 3784.6 L1645.7 3820.9 L1658.3 3815.7 L1667.1 3826.1 Z" fill="#000"/>
</svg></body></html>
